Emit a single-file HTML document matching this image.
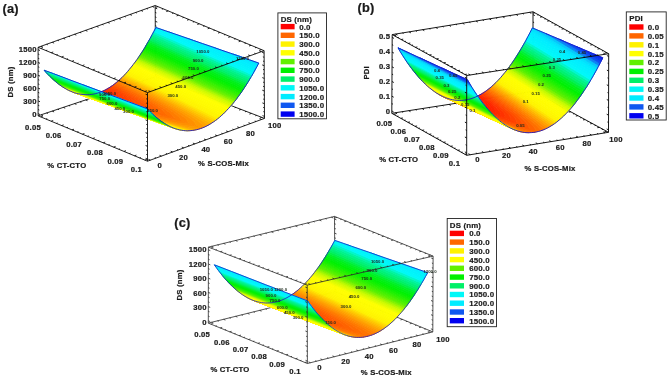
<!DOCTYPE html><html><head><meta charset="utf-8"><title>Response surfaces</title><style>html,body{margin:0;padding:0;background:#fff}svg{display:block}</style></head><body><svg width="669" height="379" viewBox="0 0 669 379" font-family="Liberation Sans, Arial, sans-serif" font-weight="bold" fill="#1a1a1a"><rect width="669" height="379" fill="#fff"/><g id="plot-a"><path d="M38.1 115.8L155.5 76.6M41.0 114.8l1.9 0.8M46.6 113.0l1.2 0.5M52.2 111.1l1.9 0.8M57.8 109.2l1.2 0.5M63.3 107.4l1.9 0.8M68.9 105.5l1.2 0.5M74.5 103.6l1.9 0.8M80.1 101.8l1.2 0.5M85.6 99.9l1.9 0.8M91.2 98.1l1.2 0.5M96.8 96.2l1.9 0.8M102.4 94.3l1.2 0.5M108.0 92.5l1.9 0.8M113.5 90.6l1.2 0.5M119.1 88.8l1.9 0.8M124.7 86.9l1.2 0.5M130.3 85.0l1.9 0.8M135.8 83.2l1.2 0.5M141.4 81.3l1.9 0.8M147.0 79.4l1.2 0.5M152.6 77.6l1.9 0.8M155.5 76.6L264.5 118.4M158.2 77.6l-2.0 0.7M163.4 79.6l-1.2 0.4M168.6 81.6l-2.0 0.7M173.8 83.6l-1.2 0.4M178.9 85.6l-2.0 0.7M184.1 87.6l-1.2 0.4M189.3 89.6l-2.0 0.7M194.5 91.5l-1.2 0.4M199.6 93.5l-2.0 0.7M204.8 95.5l-1.2 0.4M210.0 97.5l-2.0 0.7M215.2 99.5l-1.2 0.4M220.4 101.5l-2.0 0.7M225.5 103.5l-1.2 0.4M230.7 105.4l-2.0 0.7M235.9 107.4l-1.2 0.4M241.1 109.4l-2.0 0.7M246.2 111.4l-1.2 0.4M251.4 113.4l-2.0 0.7M256.6 115.4l-1.2 0.4M261.8 117.4l-2.0 0.7M155.5 76.6L155.2 5.5M155.5 74.5l2.0 0.8M155.5 70.0l1.2 0.5M155.5 65.6l1.2 0.5M155.4 61.2l2.0 0.8M155.4 56.7l1.2 0.5M155.4 52.3l1.2 0.5M155.4 47.9l2.0 0.8M155.4 43.4l1.2 0.5M155.3 39.0l1.2 0.5M155.3 34.6l2.0 0.8M155.3 30.1l1.2 0.5M155.3 25.7l1.2 0.5M155.3 21.3l2.0 0.8M155.2 16.9l1.2 0.5M155.2 12.4l1.2 0.5M155.2 8.0l2.0 0.8M264.1 50.7L155.2 5.5M261.4 49.6l-2.0 0.7M256.2 47.4l-1.2 0.4M251.0 45.3l-2.0 0.7M245.9 43.1l-1.2 0.4M240.7 41.0l-2.0 0.7M235.5 38.8l-1.2 0.4M230.3 36.7l-2.0 0.7M225.2 34.5l-1.2 0.4M220.0 32.4l-2.0 0.7M214.8 30.2l-1.2 0.4M209.7 28.1l-2.0 0.7M204.5 26.0l-1.2 0.4M199.3 23.8l-2.0 0.7M194.1 21.7l-1.2 0.4M189.0 19.5l-2.0 0.7M183.8 17.4l-1.2 0.4M178.6 15.2l-2.0 0.7M173.4 13.1l-1.2 0.4M168.3 10.9l-2.0 0.7M163.1 8.8l-1.2 0.4M157.9 6.6l-2.0 0.7M155.2 5.5L38.1 47.3M152.3 6.5l1.9 0.8M146.7 8.5l1.2 0.5M141.1 10.5l1.9 0.8M135.6 12.5l1.2 0.5M130.0 14.5l1.9 0.8M124.5 16.5l1.2 0.5M118.9 18.5l1.9 0.8M113.3 20.4l1.2 0.5M107.8 22.4l1.9 0.8M102.2 24.4l1.2 0.5M96.6 26.4l1.9 0.8M91.1 28.4l1.2 0.5M85.5 30.4l1.9 0.8M80.0 32.4l1.2 0.5M74.4 34.3l1.9 0.8M68.8 36.3l1.2 0.5M63.3 38.3l1.9 0.8M57.7 40.3l1.2 0.5M52.2 42.3l1.9 0.8M46.6 44.3l1.2 0.5M41.0 46.3l1.9 0.8M38.1 115.8L38.1 47.3M38.1 113.7l1.9 0.8M38.1 109.5l1.2 0.5M38.1 105.2l1.2 0.5M38.1 100.9l1.9 0.8M38.1 96.7l1.2 0.5M38.1 92.4l1.2 0.5M38.1 88.1l1.9 0.8M38.1 83.9l1.2 0.5M38.1 79.6l1.2 0.5M38.1 75.3l1.9 0.8M38.1 71.0l1.2 0.5M38.1 66.8l1.2 0.5M38.1 62.5l1.9 0.8M38.1 58.2l1.2 0.5M38.1 54.0l1.2 0.5M38.1 49.7l1.9 0.8M264.5 118.4L264.1 50.7M264.5 116.4l-2.0 -0.8M264.5 112.1l-1.2 -0.5M264.4 107.9l-1.2 -0.5M264.4 103.7l-2.0 -0.8M264.4 99.5l-1.2 -0.5M264.4 95.3l-1.2 -0.5M264.3 91.0l-2.0 -0.8M264.3 86.8l-1.2 -0.5M264.3 82.6l-1.2 -0.5M264.3 78.4l-2.0 -0.8M264.2 74.2l-1.2 -0.5M264.2 69.9l-1.2 -0.5M264.2 65.7l-2.0 -0.8M264.2 61.5l-1.2 -0.5M264.1 57.3l-1.2 -0.5M264.1 53.1l-2.0 -0.8M38.1 115.8L147.5 161.2M40.8 116.9l2.0 -0.7M46.0 119.1l1.2 -0.4M51.2 121.2l2.0 -0.7M56.4 123.4l1.2 -0.4M61.6 125.6l2.0 -0.7M66.8 127.7l1.2 -0.4M72.0 129.9l2.0 -0.7M77.2 132.0l1.2 -0.4M82.4 134.2l2.0 -0.7M87.6 136.3l1.2 -0.4M92.8 138.5l2.0 -0.7M98.0 140.7l1.2 -0.4M103.2 142.8l2.0 -0.7M108.4 145.0l1.2 -0.4M113.6 147.1l2.0 -0.7M118.8 149.3l1.2 -0.4M124.0 151.4l2.0 -0.7M129.2 153.6l1.2 -0.4M134.4 155.8l2.0 -0.7M139.6 157.9l1.2 -0.4M144.8 160.1l2.0 -0.7M147.5 161.2L264.5 118.4M150.4 160.1l-2.0 -0.8M156.0 158.1l-1.2 -0.5M161.5 156.1l-2.0 -0.8M167.1 154.0l-1.2 -0.5M172.7 152.0l-2.0 -0.8M178.2 150.0l-1.2 -0.5M183.8 147.9l-2.0 -0.8M189.3 145.9l-1.2 -0.5M194.9 143.9l-2.0 -0.8M200.4 141.8l-1.2 -0.5M206.0 139.8l-2.0 -0.8M211.6 137.8l-1.2 -0.5M217.1 135.7l-2.0 -0.8M222.7 133.7l-1.2 -0.5M228.2 131.7l-2.0 -0.8M233.8 129.6l-1.2 -0.5M239.3 127.6l-2.0 -0.8M244.9 125.6l-1.2 -0.5M250.5 123.5l-2.0 -0.8M256.0 121.5l-1.2 -0.5M261.6 119.5l-2.0 -0.8" fill="none" stroke="#0c0c0c" stroke-width="0.9"/><g stroke-width=".9" stroke-linejoin="round"><path fill="#ff2100" stroke="#ff2100" d="M98.9 92.7L105.3 94.9L105.3 94.9L99.8 92.4z"/><path fill="#ff2100" stroke="#ff2100" d="M99.8 92.4L105.3 94.9L105.3 94.9L100.7 92z"/><path fill="#ff2200" stroke="#ff2200" d="M100.7 92L105.3 94.9L105.3 94.9L101.6 91.7z"/><path fill="#ff2200" stroke="#ff2200" d="M101.6 91.7L105.3 94.9L105.3 94.9L102.5 91.3z"/><path fill="#ff2300" stroke="#ff2300" d="M102.5 91.3L105.3 94.9L105.3 94.9L103.3 90.9z"/><path fill="#ff2500" stroke="#ff2500" d="M103.3 90.9L105.3 94.9L111.7 97.1L111.7 97.1L106.1 94.6L104.2 90.5z"/><path fill="#ff2700" stroke="#ff2700" d="M104.2 90.5L106.1 94.6L111.7 97.1L111.7 97.1L108.6 93.6L105.1 90z"/><path fill="#ff2b00" stroke="#ff2b00" d="M105.1 90L108.6 93.6L111.7 97.1L111.7 97.1L110.1 93L106 89.6z"/><path fill="#ff2e00" stroke="#ff2e00" d="M106 89.6L110.1 93L111.7 97.1L118.1 99.3L118.1 99.3L114.6 96L111.3 92.4L106.9 89.1z"/><path fill="#ff3200" stroke="#ff3200" d="M106.9 89.1L111.3 92.4L114.6 96L118.1 99.3L118.1 99.3L116.6 95.1L112.5 91.8L107.8 88.6z"/><path fill="#ff3600" stroke="#ff3600" d="M107.8 88.6L112.5 91.8L116.6 95.1L118.1 99.3L124.5 101.5L124.5 101.5L121.6 98L118 94.4L113.5 91.2L108.7 88.1z"/><path fill="#ff3b00" stroke="#ff3b00" d="M108.7 88.1L113.5 91.2L118 94.4L121.6 98L124.5 101.5L130.9 103.8L130.9 103.8L126.2 100.9L123.6 97L119.3 93.7L114.6 90.6L109.6 87.5z"/><path fill="#ff4100" stroke="#ff4100" d="M109.6 87.5L114.6 90.6L119.3 93.7L123.6 97L126.2 100.9L130.9 103.8L130.9 103.8L129.3 99.6L125.2 96.2L120.5 93L115.6 90L110.4 86.9z"/><path fill="#ff4600" stroke="#ff4600" d="M110.4 86.9L115.6 90L120.5 93L125.2 96.2L129.3 99.6L130.9 103.8L137.3 106L137.3 106L134.9 102.2L131.1 98.7L126.6 95.4L121.7 92.3L116.6 89.3L111.3 86.3z"/><path fill="#ff4d00" stroke="#ff4d00" d="M111.3 86.3L116.6 89.3L121.7 92.3L126.6 95.4L131.1 98.7L134.9 102.2L137.3 106L143.7 108.2L143.7 108.2L140.7 104.7L137.2 101.1L132.7 97.8L127.8 94.7L122.8 91.7L117.5 88.7L112.2 85.7z"/><path fill="#ff5300" stroke="#ff5300" d="M112.2 85.7L117.5 88.7L122.8 91.7L127.8 94.7L132.7 97.8L137.2 101.1L140.7 104.7L143.7 108.2L150.1 110.4L150.1 110.4L146.6 107.1L143.3 103.4L138.9 100.1L134.1 97L129 94L123.8 91L118.5 88L113.1 85.1z"/><path fill="#ff5a00" stroke="#ff5a00" d="M113.1 85.1L118.5 88L123.8 91L129 94L134.1 97L138.9 100.1L143.3 103.4L146.6 107.1L150.1 110.4L156.5 112.7L156.5 112.7L152.6 109.5L149.6 105.7L145.2 102.4L140.4 99.3L135.4 96.2L130.2 93.2L124.9 90.3L119.5 87.3L114 84.4z"/><path fill="#ff6200" stroke="#ff6200" d="M114 84.4L119.5 87.3L124.9 90.3L130.2 93.2L135.4 96.2L140.4 99.3L145.2 102.4L149.6 105.7L152.6 109.5L156.5 112.7L162.9 114.9L162.9 114.9L159 111.7L156 107.9L151.6 104.6L146.8 101.5L141.8 98.4L136.6 95.4L131.3 92.5L125.9 89.5L120.4 86.6L114.9 83.7z"/><path fill="#ff6a00" stroke="#ff6a00" d="M114.9 83.7L120.4 86.6L125.9 89.5L131.3 92.5L136.6 95.4L141.8 98.4L146.8 101.5L151.6 104.6L156 107.9L159 111.7L162.9 114.9L169.3 117.1L169.3 117.1L165.7 113.8L162.5 110.1L158.1 106.8L153.3 103.6L148.2 100.6L143 97.6L137.7 94.6L132.3 91.7L126.9 88.8L121.3 85.9L115.8 83z"/><path fill="#ff7200" stroke="#ff7200" d="M115.8 83L121.3 85.9L126.9 88.8L132.3 91.7L137.7 94.6L143 97.6L148.2 100.6L153.3 103.6L158.1 106.8L162.5 110.1L165.7 113.8L169.3 117.1L175.8 119.4L175.8 119.4L172.6 115.8L169.2 112.2L164.7 108.9L159.8 105.8L154.8 102.7L149.6 99.7L144.2 96.7L138.8 93.8L133.4 90.9L127.8 88L122.3 85.2L116.7 82.3z"/><path fill="#ff7c00" stroke="#ff7c00" d="M116.7 82.3L122.3 85.2L127.8 88L133.4 90.9L138.8 93.8L144.2 96.7L149.6 99.7L154.8 102.7L159.8 105.8L164.7 108.9L169.2 112.2L172.6 115.8L175.8 119.4L182.2 121.6L182.2 121.6L179.7 117.7L175.9 114.2L171.4 110.9L166.5 107.8L161.4 104.8L156.2 101.8L150.8 98.8L145.4 95.9L139.9 93L134.4 90.1L128.8 87.2L123.2 84.4L117.5 81.6z"/><path fill="#ff8500" stroke="#ff8500" d="M117.5 81.6L123.2 84.4L128.8 87.2L134.4 90.1L139.9 93L145.4 95.9L150.8 98.8L156.2 101.8L161.4 104.8L166.5 107.8L171.4 110.9L175.9 114.2L179.7 117.7L182.2 121.6L188.6 123.8L188.6 123.8L186.8 119.6L182.8 116.2L178.1 112.9L173.2 109.8L168.1 106.8L162.8 103.8L157.5 100.8L152 97.9L146.5 95L141 92.1L135.4 89.3L129.8 86.4L124.1 83.6L118.4 80.8z"/><path fill="#ff8f00" stroke="#ff8f00" d="M118.4 80.8L124.1 83.6L129.8 86.4L135.4 89.3L141 92.1L146.5 95L152 97.9L157.5 100.8L162.8 103.8L168.1 106.8L173.2 109.8L178.1 112.9L182.8 116.2L186.8 119.6L188.6 123.8L195 126.1L201.4 128.3L201.4 128.3L196.2 125.6L194 121.5L189.7 118.1L185 114.9L180 111.8L174.8 108.8L169.5 105.8L164.1 102.8L158.7 99.9L153.2 97L147.6 94.2L142 91.3L136.4 88.5L130.7 85.6L125 82.8L119.3 80z"/><path fill="#ff9a00" stroke="#ff9a00" d="M119.3 80L125 82.8L130.7 85.6L136.4 88.5L142 91.3L147.6 94.2L153.2 97L158.7 99.9L164.1 102.8L169.5 105.8L174.8 108.8L180 111.8L185 114.9L189.7 118.1L194 121.5L196.2 125.6L201.4 128.3L204.7 126.9L201.2 123.3L196.7 120L191.9 116.8L186.8 113.7L181.6 110.7L176.3 107.8L170.9 104.8L165.4 101.9L159.9 99L154.3 96.1L148.7 93.3L143.1 90.4L137.4 87.6L131.7 84.8L126 82L120.2 79.2z"/><path fill="#ffa400" stroke="#ffa400" d="M120.2 79.2L126 82L131.7 84.8L137.4 87.6L143.1 90.4L148.7 93.3L154.3 96.1L159.9 99L165.4 101.9L170.9 104.8L176.3 107.8L181.6 110.7L186.8 113.7L191.9 116.8L196.7 120L201.2 123.3L204.7 126.9L208.4 125L203.8 121.8L198.8 118.7L193.7 115.6L188.5 112.6L183.1 109.7L177.7 106.7L172.2 103.8L166.6 100.9L161 98.1L155.4 95.2L149.8 92.4L144.1 89.5L138.4 86.7L132.6 83.9L126.9 81.1L121.1 78.3z"/><path fill="#ffb000" stroke="#ffb000" d="M121.1 78.3L126.9 81.1L132.6 83.9L138.4 86.7L144.1 89.5L149.8 92.4L155.4 95.2L161 98.1L166.6 100.9L172.2 103.8L177.7 106.7L183.1 109.7L188.5 112.6L193.7 115.6L198.8 118.7L203.8 121.8L208.4 125L210.9 123.6L205.8 120.5L200.7 117.5L195.4 114.5L190 111.5L184.5 108.6L179 105.7L173.4 102.8L167.8 100L162.2 97.1L156.5 94.3L150.8 91.5L145.1 88.6L139.3 85.8L133.6 83L127.8 80.3L122 77.5z"/><path fill="#ffbd00" stroke="#ffbd00" d="M122 77.5L127.8 80.3L133.6 83L139.3 85.8L145.1 88.6L150.8 91.5L156.5 94.3L162.2 97.1L167.8 100L173.4 102.8L179 105.7L184.5 108.6L190 111.5L195.4 114.5L200.7 117.5L205.8 120.5L210.9 123.6L212.9 122.3L207.6 119.3L202.3 116.3L196.9 113.4L191.4 110.5L185.8 107.6L180.2 104.7L174.6 101.8L169 99L163.3 96.2L157.6 93.3L151.8 90.5L146.1 87.7L140.3 84.9L134.5 82.1L128.7 79.4L122.9 76.6z"/><path fill="#ffca00" stroke="#ffca00" d="M122.9 76.6L128.7 79.4L134.5 82.1L140.3 84.9L146.1 87.7L151.8 90.5L157.6 93.3L163.3 96.2L169 99L174.6 101.8L180.2 104.7L185.8 107.6L191.4 110.5L196.9 113.4L202.3 116.3L207.6 119.3L212.9 122.3L214.7 121.1L209.3 118.1L203.8 115.2L198.3 112.3L192.7 109.4L187.1 106.5L181.5 103.7L175.8 100.8L170.1 98L164.4 95.2L158.6 92.4L152.8 89.6L147.1 86.8L141.2 84L135.4 81.2L129.6 78.5L123.7 75.7z"/><path fill="#ffd700" stroke="#ffd700" d="M123.7 75.7L129.6 78.5L135.4 81.2L141.2 84L147.1 86.8L152.8 89.6L158.6 92.4L164.4 95.2L170.1 98L175.8 100.8L181.5 103.7L187.1 106.5L192.7 109.4L198.3 112.3L203.8 115.2L209.3 118.1L214.7 121.1L216.3 119.9L210.8 117L205.2 114.1L199.6 111.2L194 108.3L188.3 105.5L182.6 102.6L176.9 99.8L171.2 97L165.4 94.2L159.6 91.4L153.8 88.6L148 85.8L142.2 83.1L136.4 80.3L130.5 77.5L124.6 74.8z"/><path fill="#ffe500" stroke="#ffe500" d="M124.6 74.8L130.5 77.5L136.4 80.3L142.2 83.1L148 85.8L153.8 88.6L159.6 91.4L165.4 94.2L171.2 97L176.9 99.8L182.6 102.6L188.3 105.5L194 108.3L199.6 111.2L205.2 114.1L210.8 117L216.3 119.9L217.8 118.7L212.2 115.8L206.6 113L200.9 110.1L195.2 107.3L189.5 104.4L183.8 101.6L178 98.8L172.3 96L166.5 93.2L160.7 90.4L154.8 87.6L149 84.8L143.1 82.1L137.3 79.3L131.4 76.6L125.5 73.8z"/><path fill="#fff200" stroke="#fff200" d="M125.5 73.8L131.4 76.6L137.3 79.3L143.1 82.1L149 84.8L154.8 87.6L160.7 90.4L166.5 93.2L172.3 96L178 98.8L183.8 101.6L189.5 104.4L195.2 107.3L200.9 110.1L206.6 113L212.2 115.8L217.8 118.7L219.2 117.6L213.5 114.7L207.9 111.8L202.2 109L196.4 106.2L190.7 103.4L184.9 100.5L179.1 97.7L173.3 95L167.5 92.2L161.7 89.4L155.8 86.6L150 83.9L144.1 81.1L138.2 78.3L132.3 75.6L126.4 72.8z"/><path fill="#fff400" stroke="#fff400" d="M126.4 72.8L132.3 75.6L138.2 78.3L144.1 81.1L150 83.9L155.8 86.6L161.7 89.4L167.5 92.2L173.3 95L179.1 97.7L184.9 100.5L190.7 103.4L196.4 106.2L202.2 109L207.9 111.8L213.5 114.7L219.2 117.6L220.5 116.4L214.8 113.5L209.1 110.7L203.4 107.9L197.6 105.1L191.8 102.3L186 99.5L180.2 96.7L174.4 93.9L168.5 91.1L162.7 88.4L156.8 85.6L150.9 82.8L145 80.1L139.1 77.3L133.2 74.6L127.3 71.9z"/><path fill="#fff600" stroke="#fff600" d="M127.3 71.9L133.2 74.6L139.1 77.3L145 80.1L150.9 82.8L156.8 85.6L162.7 88.4L168.5 91.1L174.4 93.9L180.2 96.7L186 99.5L191.8 102.3L197.6 105.1L203.4 107.9L209.1 110.7L214.8 113.5L220.5 116.4L221.8 115.2L216.1 112.4L210.3 109.6L204.5 106.8L198.8 104L192.9 101.2L187.1 98.4L181.3 95.6L175.4 92.8L169.5 90.1L163.7 87.3L157.8 84.5L151.9 81.8L146 79L140 76.3L134.1 73.6L128.2 70.8z"/><path fill="#fff900" stroke="#fff900" d="M128.2 70.8L134.1 73.6L140 76.3L146 79L151.9 81.8L157.8 84.5L163.7 87.3L169.5 90.1L175.4 92.8L181.3 95.6L187.1 98.4L192.9 101.2L198.8 104L204.5 106.8L210.3 109.6L216.1 112.4L221.8 115.2L223.1 114.1L217.3 111.2L211.5 108.4L205.7 105.6L199.9 102.8L194 100.1L188.2 97.3L182.3 94.5L176.4 91.7L170.5 89L164.6 86.2L158.7 83.5L152.8 80.7L146.9 78L141 75.3L135 72.5L129.1 69.8z"/><path fill="#fffb00" stroke="#fffb00" d="M129.1 69.8L135 72.5L141 75.3L146.9 78L152.8 80.7L158.7 83.5L164.6 86.2L170.5 89L176.4 91.7L182.3 94.5L188.2 97.3L194 100.1L199.9 102.8L205.7 105.6L211.5 108.4L217.3 111.2L223.1 114.1L224.3 112.9L218.5 110.1L212.7 107.3L206.8 104.5L201 101.7L195.1 98.9L189.2 96.2L183.3 93.4L177.4 90.6L171.5 87.9L165.6 85.1L159.7 82.4L153.8 79.7L147.8 76.9L141.9 74.2L135.9 71.5L129.9 68.7z"/><path fill="#fffc00" stroke="#fffc00" d="M129.9 68.7L135.9 71.5L141.9 74.2L147.8 76.9L153.8 79.7L159.7 82.4L165.6 85.1L171.5 87.9L177.4 90.6L183.3 93.4L189.2 96.2L195.1 98.9L201 101.7L206.8 104.5L212.7 107.3L218.5 110.1L224.3 112.9L225.5 111.7L219.7 108.9L213.8 106.1L207.9 103.3L202.1 100.6L196.2 97.8L190.3 95L184.4 92.3L178.5 89.5L172.5 86.8L166.6 84L160.6 81.3L154.7 78.6L148.7 75.8L142.8 73.1L136.8 70.4L130.8 67.7z"/><path fill="#fffd00" stroke="#fffd00" d="M130.8 67.7L136.8 70.4L142.8 73.1L148.7 75.8L154.7 78.6L160.6 81.3L166.6 84L172.5 86.8L178.5 89.5L184.4 92.3L190.3 95L196.2 97.8L202.1 100.6L207.9 103.3L213.8 106.1L219.7 108.9L225.5 111.7L226.7 110.5L220.8 107.7L214.9 104.9L209 102.2L203.1 99.4L197.2 96.6L191.3 93.9L185.4 91.1L179.5 88.4L173.5 85.6L167.6 82.9L161.6 80.2L155.6 77.4L149.7 74.7L143.7 72L137.7 69.3L131.7 66.5z"/><path fill="#fffe00" stroke="#fffe00" d="M131.7 66.5L137.7 69.3L143.7 72L149.7 74.7L155.6 77.4L161.6 80.2L167.6 82.9L173.5 85.6L179.5 88.4L185.4 91.1L191.3 93.9L197.2 96.6L203.1 99.4L209 102.2L214.9 104.9L220.8 107.7L226.7 110.5L227.8 109.3L221.9 106.5L216 103.7L210.1 101L204.2 98.2L198.3 95.4L192.3 92.7L186.4 90L180.4 87.2L174.5 84.5L168.5 81.7L162.5 79L156.6 76.3L150.6 73.6L144.6 70.8L138.6 68.1L132.6 65.4z"/><path fill="#ffff00" stroke="#ffff00" d="M132.6 65.4L138.6 68.1L144.6 70.8L150.6 73.6L156.6 76.3L162.5 79L168.5 81.7L174.5 84.5L180.4 87.2L186.4 90L192.3 92.7L198.3 95.4L204.2 98.2L210.1 101L216 103.7L221.9 106.5L227.8 109.3L229 108L223 105.3L217.1 102.5L211.2 99.8L205.3 97L199.3 94.3L193.4 91.5L187.4 88.8L181.4 86L175.5 83.3L169.5 80.6L163.5 77.8L157.5 75.1L151.5 72.4L145.5 69.7L139.5 67L133.5 64.3z"/><path fill="#f8fe00" stroke="#f8fe00" d="M133.5 64.3L139.5 67L145.5 69.7L151.5 72.4L157.5 75.1L163.5 77.8L169.5 80.6L175.5 83.3L181.4 86L187.4 88.8L193.4 91.5L199.3 94.3L205.3 97L211.2 99.8L217.1 102.5L223 105.3L229 108L230.1 106.8L224.1 104L218.2 101.3L212.3 98.5L206.3 95.8L200.3 93L194.4 90.3L188.4 87.6L182.4 84.8L176.4 82.1L170.4 79.4L164.4 76.7L158.4 73.9L152.4 71.2L146.4 68.5L140.4 65.8L134.4 63.1z"/><path fill="#e9fd00" stroke="#e9fd00" d="M134.4 63.1L140.4 65.8L146.4 68.5L152.4 71.2L158.4 73.9L164.4 76.7L170.4 79.4L176.4 82.1L182.4 84.8L188.4 87.6L194.4 90.3L200.3 93L206.3 95.8L212.3 98.5L218.2 101.3L224.1 104L230.1 106.8L231.2 105.5L225.2 102.8L219.3 100L213.3 97.3L207.3 94.5L201.4 91.8L195.4 89.1L189.4 86.3L183.4 83.6L177.4 80.9L171.4 78.2L165.4 75.4L159.4 72.7L153.3 70L147.3 67.3L141.3 64.6L135.2 61.9z"/><path fill="#dafc00" stroke="#dafc00" d="M135.2 61.9L141.3 64.6L147.3 67.3L153.3 70L159.4 72.7L165.4 75.4L171.4 78.2L177.4 80.9L183.4 83.6L189.4 86.3L195.4 89.1L201.4 91.8L207.3 94.5L213.3 97.3L219.3 100L225.2 102.8L231.2 105.5L232.3 104.2L226.3 101.5L220.3 98.8L214.3 96L208.3 93.3L202.4 90.6L196.4 87.8L190.4 85.1L184.4 82.4L178.3 79.6L172.3 76.9L166.3 74.2L160.3 71.5L154.2 68.8L148.2 66.1L142.2 63.4L136.1 60.7z"/><path fill="#cbfa00" stroke="#cbfa00" d="M136.1 60.7L142.2 63.4L148.2 66.1L154.2 68.8L160.3 71.5L166.3 74.2L172.3 76.9L178.3 79.6L184.4 82.4L190.4 85.1L196.4 87.8L202.4 90.6L208.3 93.3L214.3 96L220.3 98.8L226.3 101.5L232.3 104.2L233.3 103L227.3 100.2L221.4 97.5L215.4 94.7L209.4 92L203.4 89.3L197.3 86.6L191.3 83.8L185.3 81.1L179.3 78.4L173.3 75.7L167.2 73L161.2 70.3L155.2 67.5L149.1 64.8L143.1 62.1L137 59.4z"/><path fill="#aff800" stroke="#aff800" d="M137 59.4L143.1 62.1L149.1 64.8L155.2 67.5L161.2 70.3L167.2 73L173.3 75.7L179.3 78.4L185.3 81.1L191.3 83.8L197.3 86.6L203.4 89.3L209.4 92L215.4 94.7L221.4 97.5L227.3 100.2L233.3 103L234.4 101.6L228.4 98.9L222.4 96.2L216.4 93.4L210.4 90.7L204.4 88L198.3 85.3L192.3 82.5L186.3 79.8L180.2 77.1L174.2 74.4L168.2 71.7L162.1 69L156.1 66.3L150 63.6L144 60.9L137.9 58.2z"/><path fill="#90f500" stroke="#90f500" d="M137.9 58.2L144 60.9L150 63.6L156.1 66.3L162.1 69L168.2 71.7L174.2 74.4L180.2 77.1L186.3 79.8L192.3 82.5L198.3 85.3L204.4 88L210.4 90.7L216.4 93.4L222.4 96.2L228.4 98.9L234.4 101.6L235.4 100.3L229.4 97.6L223.4 94.9L217.4 92.1L211.4 89.4L205.3 86.7L199.3 84L193.3 81.2L187.2 78.5L181.2 75.8L175.1 73.1L169.1 70.4L163 67.7L157 65L150.9 62.3L144.9 59.6L138.8 56.9z"/><path fill="#71f200" stroke="#71f200" d="M138.8 56.9L144.9 59.6L150.9 62.3L157 65L163 67.7L169.1 70.4L175.1 73.1L181.2 75.8L187.2 78.5L193.3 81.2L199.3 84L205.3 86.7L211.4 89.4L217.4 92.1L223.4 94.9L229.4 97.6L235.4 100.3L236.5 99L230.5 96.2L224.4 93.5L218.4 90.8L212.4 88.1L206.3 85.3L200.3 82.6L194.2 79.9L188.2 77.2L182.1 74.5L176.1 71.8L170 69.1L164 66.4L157.9 63.7L151.8 61L145.7 58.3L139.7 55.6z"/><path fill="#59f000" stroke="#59f000" d="M139.7 55.6L145.7 58.3L151.8 61L157.9 63.7L164 66.4L170 69.1L176.1 71.8L182.1 74.5L188.2 77.2L194.2 79.9L200.3 82.6L206.3 85.3L212.4 88.1L218.4 90.8L224.4 93.5L230.5 96.2L236.5 99L237.5 97.6L231.5 94.9L225.4 92.2L219.4 89.4L213.4 86.7L207.3 84L201.3 81.3L195.2 78.6L189.1 75.9L183.1 73.1L177 70.4L170.9 67.7L164.9 65L158.8 62.3L152.7 59.6L146.6 56.9L140.5 54.2z"/><path fill="#48f000" stroke="#48f000" d="M140.5 54.2L146.6 56.9L152.7 59.6L158.8 62.3L164.9 65L170.9 67.7L177 70.4L183.1 73.1L189.1 75.9L195.2 78.6L201.3 81.3L207.3 84L213.4 86.7L219.4 89.4L225.4 92.2L231.5 94.9L237.5 97.6L238.5 96.2L232.5 93.5L226.4 90.8L220.4 88.1L214.3 85.3L208.3 82.6L202.2 79.9L196.2 77.2L190.1 74.5L184 71.8L177.9 69.1L171.9 66.4L165.8 63.7L159.7 61L153.6 58.3L147.5 55.6L141.4 52.9z"/><path fill="#38f000" stroke="#38f000" d="M141.4 52.9L147.5 55.6L153.6 58.3L159.7 61L165.8 63.7L171.9 66.4L177.9 69.1L184 71.8L190.1 74.5L196.2 77.2L202.2 79.9L208.3 82.6L214.3 85.3L220.4 88.1L226.4 90.8L232.5 93.5L238.5 96.2L239.5 94.8L233.5 92.1L227.4 89.4L221.4 86.7L215.3 83.9L209.2 81.2L203.2 78.5L197.1 75.8L191 73.1L184.9 70.4L178.9 67.7L172.8 65L166.7 62.3L160.6 59.6L154.5 56.9L148.4 54.2L142.3 51.5z"/><path fill="#27f000" stroke="#27f000" d="M142.3 51.5L148.4 54.2L154.5 56.9L160.6 59.6L166.7 62.3L172.8 65L178.9 67.7L184.9 70.4L191 73.1L197.1 75.8L203.2 78.5L209.2 81.2L215.3 83.9L221.4 86.7L227.4 89.4L233.5 92.1L239.5 94.8L240.6 93.4L234.5 90.7L228.4 88L222.4 85.3L216.3 82.5L210.2 79.8L204.1 77.1L198.1 74.4L192 71.7L185.9 69L179.8 66.3L173.7 63.6L167.6 60.9L161.5 58.2L155.4 55.5L149.3 52.8L143.2 50.1z"/><path fill="#19f000" stroke="#19f000" d="M143.2 50.1L149.3 52.8L155.4 55.5L161.5 58.2L167.6 60.9L173.7 63.6L179.8 66.3L185.9 69L192 71.7L198.1 74.4L204.1 77.1L210.2 79.8L216.3 82.5L222.4 85.3L228.4 88L234.5 90.7L240.6 93.4L241.6 92L235.5 89.2L229.4 86.5L223.3 83.8L217.3 81.1L211.2 78.4L205.1 75.7L199 73L192.9 70.3L186.8 67.6L180.7 64.9L174.6 62.2L168.5 59.5L162.4 56.8L156.3 54.1L150.2 51.4L144.1 48.7z"/><path fill="#0af000" stroke="#0af000" d="M144.1 48.7L150.2 51.4L156.3 54.1L162.4 56.8L168.5 59.5L174.6 62.2L180.7 64.9L186.8 67.6L192.9 70.3L199 73L205.1 75.7L211.2 78.4L217.3 81.1L223.3 83.8L229.4 86.5L235.5 89.2L241.6 92L242.6 90.5L236.5 87.8L230.4 85.1L224.3 82.4L218.2 79.7L212.1 76.9L206 74.2L199.9 71.5L193.8 68.8L187.7 66.1L181.6 63.4L175.5 60.7L169.4 58L163.3 55.3L157.2 52.6L151.1 49.9L145 47.2z"/><path fill="#00f004" stroke="#00f004" d="M145 47.2L151.1 49.9L157.2 52.6L163.3 55.3L169.4 58L175.5 60.7L181.6 63.4L187.7 66.1L193.8 68.8L199.9 71.5L206 74.2L212.1 76.9L218.2 79.7L224.3 82.4L230.4 85.1L236.5 87.8L242.6 90.5L243.6 89L237.5 86.3L231.4 83.6L225.3 80.9L219.2 78.2L213.1 75.5L207 72.8L200.9 70.1L194.8 67.4L188.7 64.7L182.6 62L176.4 59.3L170.3 56.6L164.2 53.9L158.1 51.2L152 48.5L145.8 45.8z"/><path fill="#00f00f" stroke="#00f00f" d="M145.8 45.8L152 48.5L158.1 51.2L164.2 53.9L170.3 56.6L176.4 59.3L182.6 62L188.7 64.7L194.8 67.4L200.9 70.1L207 72.8L213.1 75.5L219.2 78.2L225.3 80.9L231.4 83.6L237.5 86.3L243.6 89L244.5 87.5L238.4 84.8L232.3 82.1L226.2 79.4L220.1 76.7L214 74L207.9 71.3L201.8 68.6L195.7 65.9L189.6 63.2L183.5 60.5L177.4 57.8L171.2 55.1L165.1 52.4L159 49.7L152.9 47L146.7 44.3z"/><path fill="#00f019" stroke="#00f019" d="M146.7 44.3L152.9 47L159 49.7L165.1 52.4L171.2 55.1L177.4 57.8L183.5 60.5L189.6 63.2L195.7 65.9L201.8 68.6L207.9 71.3L214 74L220.1 76.7L226.2 79.4L232.3 82.1L238.4 84.8L244.5 87.5L245.5 86L239.4 83.3L233.3 80.6L227.2 77.9L221.1 75.2L215 72.5L208.9 69.8L202.8 67.1L196.6 64.4L190.5 61.7L184.4 58.9L178.3 56.3L172.1 53.6L166 50.9L159.9 48.2L153.7 45.5L147.6 42.8z"/><path fill="#00f02e" stroke="#00f02e" d="M147.6 42.8L153.7 45.5L159.9 48.2L166 50.9L172.1 53.6L178.3 56.3L184.4 58.9L190.5 61.7L196.6 64.4L202.8 67.1L208.9 69.8L215 72.5L221.1 75.2L227.2 77.9L233.3 80.6L239.4 83.3L245.5 86L246.5 84.5L240.4 81.8L234.3 79.1L228.2 76.3L222 73.6L215.9 70.9L209.8 68.2L203.7 65.5L197.6 62.8L191.4 60.1L185.3 57.4L179.2 54.7L173 52L166.9 49.3L160.8 46.6L154.6 43.9L148.5 41.2z"/><path fill="#00f049" stroke="#00f049" d="M148.5 41.2L154.6 43.9L160.8 46.6L166.9 49.3L173 52L179.2 54.7L185.3 57.4L191.4 60.1L197.6 62.8L203.7 65.5L209.8 68.2L215.9 70.9L222 73.6L228.2 76.3L234.3 79.1L240.4 81.8L246.5 84.5L247.5 82.9L241.4 80.2L235.2 77.5L229.1 74.8L223 72.1L216.9 69.4L210.7 66.7L204.6 64L198.5 61.3L192.4 58.6L186.2 55.9L180.1 53.2L173.9 50.5L167.8 47.8L161.7 45.1L155.5 42.4L149.4 39.7z"/><path fill="#00f066" stroke="#00f066" d="M149.4 39.7L155.5 42.4L161.7 45.1L167.8 47.8L173.9 50.5L180.1 53.2L186.2 55.9L192.4 58.6L198.5 61.3L204.6 64L210.7 66.7L216.9 69.4L223 72.1L229.1 74.8L235.2 77.5L241.4 80.2L247.5 82.9L248.5 81.4L242.3 78.6L236.2 75.9L230.1 73.2L223.9 70.5L217.8 67.8L211.7 65.1L205.5 62.4L199.4 59.7L193.3 57L187.1 54.3L181 51.6L174.8 48.9L168.7 46.2L162.6 43.5L156.4 40.8L150.3 38.1z"/><path fill="#00f178" stroke="#00f178" d="M150.3 38.1L156.4 40.8L162.6 43.5L168.7 46.2L174.8 48.9L181 51.6L187.1 54.3L193.3 57L199.4 59.7L205.5 62.4L211.7 65.1L217.8 67.8L223.9 70.5L230.1 73.2L236.2 75.9L242.3 78.6L248.5 81.4L249.4 79.8L243.3 77L237.2 74.3L231 71.6L224.9 68.9L218.8 66.2L212.6 63.5L206.5 60.8L200.3 58.1L194.2 55.4L188 52.7L181.9 50L175.7 47.3L169.6 44.6L163.4 41.9L157.3 39.2L151.1 36.5z"/><path fill="#00f28b" stroke="#00f28b" d="M151.1 36.5L157.3 39.2L163.4 41.9L169.6 44.6L175.7 47.3L181.9 50L188 52.7L194.2 55.4L200.3 58.1L206.5 60.8L212.6 63.5L218.8 66.2L224.9 68.9L231 71.6L237.2 74.3L243.3 77L249.4 79.8L250.4 78.1L244.3 75.4L238.1 72.7L232 70L225.8 67.3L219.7 64.6L213.5 61.9L207.4 59.2L201.3 56.5L195.1 53.8L189 51.1L182.8 48.4L176.6 45.7L170.5 43L164.3 40.3L158.2 37.6L152 34.9z"/><path fill="#00f4a5" stroke="#00f4a5" d="M152 34.9L158.2 37.6L164.3 40.3L170.5 43L176.6 45.7L182.8 48.4L189 51.1L195.1 53.8L201.3 56.5L207.4 59.2L213.5 61.9L219.7 64.6L225.8 67.3L232 70L238.1 72.7L244.3 75.4L250.4 78.1L251.3 76.5L245.2 73.8L239.1 71.1L232.9 68.4L226.8 65.7L220.6 63L214.5 60.2L208.3 57.5L202.2 54.8L196 52.1L189.9 49.4L183.7 46.7L177.5 44L171.4 41.3L165.2 38.6L159.1 35.9L152.9 33.2z"/><path fill="#00f6cd" stroke="#00f6cd" d="M152.9 33.2L159.1 35.9L165.2 38.6L171.4 41.3L177.5 44L183.7 46.7L189.9 49.4L196 52.1L202.2 54.8L208.3 57.5L214.5 60.2L220.6 63L226.8 65.7L232.9 68.4L239.1 71.1L245.2 73.8L251.3 76.5L252.3 74.9L246.2 72.1L240 69.4L233.9 66.7L227.7 64L221.6 61.3L215.4 58.6L209.2 55.9L203.1 53.2L196.9 50.5L190.8 47.8L184.6 45.1L178.4 42.3L172.3 39.6L166.1 36.9L159.9 34.2L153.8 31.5z"/><path fill="#00f8f6" stroke="#00f8f6" d="M153.8 31.5L159.9 34.2L166.1 36.9L172.3 39.6L178.4 42.3L184.6 45.1L190.8 47.8L196.9 50.5L203.1 53.2L209.2 55.9L215.4 58.6L221.6 61.3L227.7 64L233.9 66.7L240 69.4L246.2 72.1L252.3 74.9L253.3 73.2L247.1 70.5L241 67.8L234.8 65L228.6 62.3L222.5 59.6L216.3 56.9L210.2 54.2L204 51.5L197.8 48.8L191.7 46.1L185.5 43.4L179.3 40.7L173.2 38L167 35.2L160.8 32.5L154.7 29.8z"/><path fill="#00f6fa" stroke="#00f6fa" d="M154.7 29.8L160.8 32.5L167 35.2L173.2 38L179.3 40.7L185.5 43.4L191.7 46.1L197.8 48.8L204 51.5L210.2 54.2L216.3 56.9L222.5 59.6L228.6 62.3L234.8 65L241 67.8L247.1 70.5L253.3 73.2L254.2 71.5L248.1 68.8L241.9 66.1L235.7 63.3L229.6 60.6L223.4 57.9L217.3 55.2L211.1 52.5L204.9 49.8L198.8 47.1L192.6 44.4L186.4 41.7L180.2 38.9L174.1 36.2L167.9 33.5L161.7 30.8L155.5 28.1z"/><path fill="#00f3fb" stroke="#00f3fb" d="M155.5 28.1L161.7 30.8L167.9 33.5L174.1 36.2L180.2 38.9L186.4 41.7L192.6 44.4L198.8 47.1L204.9 49.8L211.1 52.5L217.3 55.2L223.4 57.9L229.6 60.6L235.7 63.3L241.9 66.1L248.1 68.8L254.2 71.5L255.2 69.8L249 67.1L242.8 64.3L236.7 61.6L230.5 58.9L224.3 56.2L218.2 53.5L212 50.8L205.8 48.1L199.7 45.3L193.5 42.6L187.3 39.9L181.1 37.2L175 34.5L168.7 31.9L162.3 29.7L155.9 27.5z"/><path fill="#00f0fd" stroke="#00f0fd" d="M168.7 31.9L175 34.5L181.1 37.2L187.3 39.9L193.5 42.6L199.7 45.3L205.8 48.1L212 50.8L218.2 53.5L224.3 56.2L230.5 58.9L236.7 61.6L242.8 64.3L249 67.1L255.2 69.8L256.1 68L249.9 65.3L243.8 62.6L237.6 59.9L231.4 57.2L225.3 54.5L219.1 51.7L212.9 49L206.7 46.3L200.6 43.6L194.4 40.9L188 38.5L181.6 36.3L175.2 34.1L168.7 31.9z"/><path fill="#00eefe" stroke="#00eefe" d="M188 38.5L194.4 40.9L200.6 43.6L206.7 46.3L212.9 49L219.1 51.7L225.3 54.5L231.4 57.2L237.6 59.9L243.8 62.6L249.9 65.3L256.1 68L257.1 66.3L250.9 63.6L244.7 60.8L238.5 58.1L232.4 55.4L226.2 52.7L220 50L213.7 47.4L207.3 45.2L200.9 43L194.4 40.8L188 38.5z"/><path fill="#00e9ff" stroke="#00e9ff" d="M213.7 47.4L220 50L226.2 52.7L232.4 55.4L238.5 58.1L244.7 60.8L250.9 63.6L257.1 66.3L258 64.5L251.8 61.8L245.6 59.1L239.5 56.3L233 54.1L226.6 51.9L220.2 49.7L213.7 47.4z"/><path fill="#02dffd" stroke="#02dffd" d="M233 54.1L239.5 56.3L245.6 59.1L251.8 61.8L258 64.5L258.8 63.1L252.3 60.8L245.9 58.6L239.5 56.3L233 54.1z"/><path fill="#ff2100" stroke="#ff2100" d="M98.9 92.7L105.3 94.9L105.3 94.9L98 93z"/><path fill="#ff2100" stroke="#ff2100" d="M98 93L105.3 94.9L105.3 94.9L97.1 93.2z"/><path fill="#ff2200" stroke="#ff2200" d="M97.1 93.2L105.3 94.9L105.3 94.9L96.2 93.5z"/><path fill="#ff2200" stroke="#ff2200" d="M96.2 93.5L105.3 94.9L105.3 94.9L95.4 93.7z"/><path fill="#ff2300" stroke="#ff2300" d="M95.4 93.7L105.3 94.9L105.3 94.9L94.5 93.9z"/><path fill="#ff2500" stroke="#ff2500" d="M94.5 93.9L105.3 94.9L111.7 97.1L111.7 97.1L104.5 95.2L93.6 94.1z"/><path fill="#ff2700" stroke="#ff2700" d="M93.6 94.1L104.5 95.2L111.7 97.1L111.7 97.1L102 95.9L92.7 94.2z"/><path fill="#ff2b00" stroke="#ff2b00" d="M92.7 94.2L102 95.9L111.7 97.1L111.7 97.1L100.5 96.2L91.8 94.4z"/><path fill="#ff2e00" stroke="#ff2e00" d="M91.8 94.4L100.5 96.2L111.7 97.1L118.1 99.3L118.1 99.3L108.8 98L99.3 96.4L90.9 94.5z"/><path fill="#ff3200" stroke="#ff3200" d="M90.9 94.5L99.3 96.4L108.8 98L118.1 99.3L118.1 99.3L106.9 98.4L98.2 96.6L90 94.6z"/><path fill="#ff3600" stroke="#ff3600" d="M90 94.6L98.2 96.6L106.9 98.4L118.1 99.3L124.5 101.5L124.5 101.5L114.6 100.4L105.4 98.7L97.1 96.7L89.1 94.6z"/><path fill="#ff3b00" stroke="#ff3b00" d="M89.1 94.6L97.1 96.7L105.4 98.7L114.6 100.4L124.5 101.5L130.9 103.8L130.9 103.8L122.9 102.1L112.6 100.8L104.1 98.9L96 96.8L88.3 94.7z"/><path fill="#ff4100" stroke="#ff4100" d="M88.3 94.7L96 96.8L104.1 98.9L112.6 100.8L122.9 102.1L130.9 103.8L130.9 103.8L119.8 102.9L111 101.1L102.9 99L95 96.9L87.4 94.7z"/><path fill="#ff4600" stroke="#ff4600" d="M87.4 94.7L95 96.9L102.9 99L111 101.1L119.8 102.9L130.9 103.8L137.3 106L137.3 106L126.9 104.9L117.9 103.2L109.7 101.2L101.8 99.1L94 97L86.5 94.7z"/><path fill="#ff4d00" stroke="#ff4d00" d="M86.5 94.7L94 97L101.8 99.1L109.7 101.2L117.9 103.2L126.9 104.9L137.3 106L143.7 108.2L143.7 108.2L134 107L124.7 105.4L116.4 103.4L108.4 101.4L100.7 99.2L93.1 97L85.6 94.7z"/><path fill="#ff5300" stroke="#ff5300" d="M85.6 94.7L93.1 97L100.7 99.2L108.4 101.4L116.4 103.4L124.7 105.4L134 107L143.7 108.2L150.1 110.4L150.1 110.4L140.9 109.1L131.3 107.6L123 105.7L115 103.6L107.2 101.4L99.6 99.2L92.1 97L84.7 94.7z"/><path fill="#ff5a00" stroke="#ff5a00" d="M84.7 94.7L92.1 97L99.6 99.2L107.2 101.4L115 103.6L123 105.7L131.3 107.6L140.9 109.1L150.1 110.4L156.5 112.7L156.5 112.7L147.6 111.2L137.9 109.8L129.5 107.9L121.5 105.8L113.7 103.7L106.1 101.5L98.6 99.2L91.2 96.9L83.8 94.6z"/><path fill="#ff6200" stroke="#ff6200" d="M83.8 94.6L91.2 96.9L98.6 99.2L106.1 101.5L113.7 103.7L121.5 105.8L129.5 107.9L137.9 109.8L147.6 111.2L156.5 112.7L162.9 114.9L162.9 114.9L154.1 113.5L144.3 112L135.9 110.1L127.9 108.1L120.1 105.9L112.5 103.7L105 101.5L97.6 99.2L90.2 96.9L82.9 94.5z"/><path fill="#ff6a00" stroke="#ff6a00" d="M82.9 94.5L90.2 96.9L97.6 99.2L105 101.5L112.5 103.7L120.1 105.9L127.9 108.1L135.9 110.1L144.3 112L154.1 113.5L162.9 114.9L169.3 117.1L169.3 117.1L160.2 115.8L150.6 114.3L142.2 112.4L134.2 110.3L126.4 108.2L118.8 106L111.3 103.7L103.9 101.4L96.6 99.1L89.3 96.8L82 94.4z"/><path fill="#ff7200" stroke="#ff7200" d="M82 94.4L89.3 96.8L96.6 99.1L103.9 101.4L111.3 103.7L118.8 106L126.4 108.2L134.2 110.3L142.2 112.4L150.6 114.3L160.2 115.8L169.3 117.1L175.8 119.4L175.8 119.4L166.1 118.2L156.7 116.6L148.4 114.6L140.4 112.6L132.7 110.4L125.1 108.2L117.6 106L110.2 103.7L102.9 101.4L95.6 99L88.3 96.7L81.1 94.3z"/><path fill="#ff7c00" stroke="#ff7c00" d="M81.1 94.3L88.3 96.7L95.6 99L102.9 101.4L110.2 103.7L117.6 106L125.1 108.2L132.7 110.4L140.4 112.6L148.4 114.6L156.7 116.6L166.1 118.2L175.8 119.4L182.2 121.6L182.2 121.6L171.8 120.6L162.8 118.9L154.5 116.9L146.6 114.8L138.9 112.7L131.3 110.5L123.8 108.2L116.4 105.9L109.1 103.6L101.8 101.3L94.6 98.9L87.4 96.5L80.3 94.2z"/><path fill="#ff8500" stroke="#ff8500" d="M80.3 94.2L87.4 96.5L94.6 98.9L101.8 101.3L109.1 103.6L116.4 105.9L123.8 108.2L131.3 110.5L138.9 112.7L146.6 114.8L154.5 116.9L162.8 118.9L171.8 120.6L182.2 121.6L188.6 123.8L188.6 123.8L177.5 123L168.7 121.2L160.5 119.2L152.7 117.1L145 114.9L137.5 112.7L130 110.4L122.6 108.2L115.3 105.8L108 103.5L100.8 101.1L93.6 98.8L86.5 96.4L79.4 94z"/><path fill="#ff8f00" stroke="#ff8f00" d="M79.4 94L86.5 96.4L93.6 98.8L100.8 101.1L108 103.5L115.3 105.8L122.6 108.2L130 110.4L137.5 112.7L145 114.9L152.7 117.1L160.5 119.2L168.7 121.2L177.5 123L188.6 123.8L195 126.1L201.4 128.3L201.4 128.3L193.7 126.5L183.1 125.4L174.6 123.5L166.5 121.5L158.7 119.4L151.1 117.2L143.5 115L136.1 112.7L128.8 110.4L121.5 108.1L114.2 105.7L107 103.4L99.8 101L92.7 98.6L85.6 96.2L78.5 93.8z"/><path fill="#ff9a00" stroke="#ff9a00" d="M78.5 93.8L85.6 96.2L92.7 98.6L99.8 101L107 103.4L114.2 105.7L121.5 108.1L128.8 110.4L136.1 112.7L143.5 115L151.1 117.2L158.7 119.4L166.5 121.5L174.6 123.5L183.1 125.4L193.7 126.5L201.4 128.3L198 129.4L188.7 127.8L180.4 125.9L172.4 123.8L164.7 121.7L157.1 119.5L149.6 117.2L142.2 114.9L134.8 112.6L127.6 110.3L120.3 108L113.1 105.6L106 103.2L98.8 100.8L91.7 98.4L84.7 96L77.6 93.6z"/><path fill="#ffa400" stroke="#ffa400" d="M77.6 93.6L84.7 96L91.7 98.4L98.8 100.8L106 103.2L113.1 105.6L120.3 108L127.6 110.3L134.8 112.6L142.2 114.9L149.6 117.2L157.1 119.5L164.7 121.7L172.4 123.8L180.4 125.9L188.7 127.8L198 129.4L194.3 130.2L186.1 128.2L178.3 126.1L170.6 123.9L163 121.7L155.6 119.5L148.2 117.2L140.9 114.9L133.6 112.5L126.4 110.2L119.2 107.8L112.1 105.4L104.9 103L97.9 100.6L90.8 98.2L83.7 95.8L76.7 93.4z"/><path fill="#ffb000" stroke="#ffb000" d="M76.7 93.4L83.7 95.8L90.8 98.2L97.9 100.6L104.9 103L112.1 105.4L119.2 107.8L126.4 110.2L133.6 112.5L140.9 114.9L148.2 117.2L155.6 119.5L163 121.7L170.6 123.9L178.3 126.1L186.1 128.2L194.3 130.2L191.8 130.5L184.1 128.4L176.4 126.2L168.9 124L161.5 121.7L154.2 119.4L146.9 117.1L139.6 114.8L132.4 112.4L125.3 110L118.1 107.6L111 105.2L103.9 102.8L96.9 100.4L89.8 98L82.8 95.6L75.8 93.1z"/><path fill="#ffbd00" stroke="#ffbd00" d="M75.8 93.1L82.8 95.6L89.8 98L96.9 100.4L103.9 102.8L111 105.2L118.1 107.6L125.3 110L132.4 112.4L139.6 114.8L146.9 117.1L154.2 119.4L161.5 121.7L168.9 124L176.4 126.2L184.1 128.4L191.8 130.5L189.8 130.7L182.3 128.5L174.8 126.2L167.4 124L160.1 121.7L152.8 119.3L145.6 117L138.4 114.6L131.3 112.2L124.2 109.8L117.1 107.4L110 105L103 102.6L95.9 100.2L88.9 97.7L81.9 95.3L74.9 92.8z"/><path fill="#ffca00" stroke="#ffca00" d="M74.9 92.8L81.9 95.3L88.9 97.7L95.9 100.2L103 102.6L110 105L117.1 107.4L124.2 109.8L131.3 112.2L138.4 114.6L145.6 117L152.8 119.3L160.1 121.7L167.4 124L174.8 126.2L182.3 128.5L189.8 130.7L188.1 130.8L180.6 128.5L173.3 126.2L166 123.9L158.8 121.5L151.6 119.2L144.4 116.8L137.3 114.4L130.2 112L123.1 109.6L116 107.2L109 104.8L102 102.4L95 99.9L88 97.5L81 95L74 92.6z"/><path fill="#ffd700" stroke="#ffd700" d="M74 92.6L81 95L88 97.5L95 99.9L102 102.4L109 104.8L116 107.2L123.1 109.6L130.2 112L137.3 114.4L144.4 116.8L151.6 119.2L158.8 121.5L166 123.9L173.3 126.2L180.6 128.5L188.1 130.8L186.5 130.7L179.1 128.4L171.9 126.1L164.7 123.8L157.5 121.4L150.3 119L143.2 116.6L136.1 114.2L129.1 111.8L122 109.4L115 107L108 104.5L101 102.1L94 99.6L87 97.2L80.1 94.7L73.2 92.2z"/><path fill="#ffe500" stroke="#ffe500" d="M73.2 92.2L80.1 94.7L87 97.2L94 99.6L101 102.1L108 104.5L115 107L122 109.4L129.1 111.8L136.1 114.2L143.2 116.6L150.3 119L157.5 121.4L164.7 123.8L171.9 126.1L179.1 128.4L186.5 130.7L184.9 130.7L177.7 128.3L170.5 126L163.4 123.6L156.2 121.2L149.1 118.8L142.1 116.4L135 114L128 111.6L121 109.1L114 106.7L107 104.2L100 101.8L93.1 99.3L86.1 96.9L79.2 94.4L72.3 91.9z"/><path fill="#fff200" stroke="#fff200" d="M72.3 91.9L79.2 94.4L86.1 96.9L93.1 99.3L100 101.8L107 104.2L114 106.7L121 109.1L128 111.6L135 114L142.1 116.4L149.1 118.8L156.2 121.2L163.4 123.6L170.5 126L177.7 128.3L184.9 130.7L183.5 130.5L176.4 128.2L169.2 125.8L162.1 123.4L155 121L148 118.6L140.9 116.1L133.9 113.7L126.9 111.3L119.9 108.8L113 106.4L106 103.9L99 101.5L92.1 99L85.2 96.5L78.3 94L71.4 91.5z"/><path fill="#fff400" stroke="#fff400" d="M71.4 91.5L78.3 94L85.2 96.5L92.1 99L99 101.5L106 103.9L113 106.4L119.9 108.8L126.9 111.3L133.9 113.7L140.9 116.1L148 118.6L155 121L162.1 123.4L169.2 125.8L176.4 128.2L183.5 130.5L182.2 130.3L175.1 128L168 125.6L160.9 123.1L153.9 120.7L146.8 118.3L139.8 115.9L132.8 113.4L125.9 111L118.9 108.5L112 106L105 103.6L98.1 101.1L91.2 98.6L84.3 96.1L77.4 93.7L70.5 91.2z"/><path fill="#fff600" stroke="#fff600" d="M70.5 91.2L77.4 93.7L84.3 96.1L91.2 98.6L98.1 101.1L105 103.6L112 106L118.9 108.5L125.9 111L132.8 113.4L139.8 115.9L146.8 118.3L153.9 120.7L160.9 123.1L168 125.6L175.1 128L182.2 130.3L180.9 130.1L173.8 127.7L166.8 125.3L159.7 122.9L152.7 120.4L145.7 118L138.7 115.5L131.8 113.1L124.8 110.6L117.9 108.2L111 105.7L104 103.2L97.1 100.7L90.2 98.3L83.4 95.8L76.5 93.3L69.6 90.8z"/><path fill="#fff900" stroke="#fff900" d="M69.6 90.8L76.5 93.3L83.4 95.8L90.2 98.3L97.1 100.7L104 103.2L111 105.7L117.9 108.2L124.8 110.6L131.8 113.1L138.7 115.5L145.7 118L152.7 120.4L159.7 122.9L166.8 125.3L173.8 127.7L180.9 130.1L179.6 129.9L172.6 127.4L165.6 125L158.6 122.6L151.6 120.1L144.6 117.7L137.7 115.2L130.7 112.7L123.8 110.3L116.9 107.8L110 105.3L103.1 102.8L96.2 100.3L89.3 97.8L82.4 95.4L75.6 92.8L68.7 90.3z"/><path fill="#fffb00" stroke="#fffb00" d="M68.7 90.3L75.6 92.8L82.4 95.4L89.3 97.8L96.2 100.3L103.1 102.8L110 105.3L116.9 107.8L123.8 110.3L130.7 112.7L137.7 115.2L144.6 117.7L151.6 120.1L158.6 122.6L165.6 125L172.6 127.4L179.6 129.9L178.4 129.6L171.4 127.1L164.4 124.7L157.4 122.2L150.5 119.8L143.5 117.3L136.6 114.8L129.7 112.4L122.8 109.9L115.9 107.4L109 104.9L102.1 102.4L95.2 99.9L88.4 97.4L81.5 94.9L74.7 92.4L67.8 89.9z"/><path fill="#fffc00" stroke="#fffc00" d="M67.8 89.9L74.7 92.4L81.5 94.9L88.4 97.4L95.2 99.9L102.1 102.4L109 104.9L115.9 107.4L122.8 109.9L129.7 112.4L136.6 114.8L143.5 117.3L150.5 119.8L157.4 122.2L164.4 124.7L171.4 127.1L178.4 129.6L177.2 129.3L170.2 126.8L163.3 124.3L156.3 121.9L149.4 119.4L142.5 116.9L135.6 114.5L128.7 112L121.8 109.5L114.9 107L108 104.5L101.1 102L94.3 99.5L87.4 97L80.6 94.5L73.8 92L66.9 89.4z"/><path fill="#fffd00" stroke="#fffd00" d="M66.9 89.4L73.8 92L80.6 94.5L87.4 97L94.3 99.5L101.1 102L108 104.5L114.9 107L121.8 109.5L128.7 112L135.6 114.5L142.5 116.9L149.4 119.4L156.3 121.9L163.3 124.3L170.2 126.8L177.2 129.3L176 128.9L169.1 126.4L162.1 124L155.2 121.5L148.3 119L141.4 116.5L134.5 114L127.6 111.5L120.8 109.1L113.9 106.6L107 104L100.2 101.5L93.4 99L86.5 96.5L79.7 94L72.9 91.5L66 89z"/><path fill="#fffe00" stroke="#fffe00" d="M66 89L72.9 91.5L79.7 94L86.5 96.5L93.4 99L100.2 101.5L107 104L113.9 106.6L120.8 109.1L127.6 111.5L134.5 114L141.4 116.5L148.3 119L155.2 121.5L162.1 124L169.1 126.4L176 128.9L174.8 128.5L167.9 126L161 123.6L154.1 121.1L147.2 118.6L140.4 116.1L133.5 113.6L126.6 111.1L119.8 108.6L112.9 106.1L106.1 103.6L99.2 101.1L92.4 98.5L85.6 96L78.8 93.5L72 91L65.2 88.4z"/><path fill="#ffff00" stroke="#ffff00" d="M65.2 88.4L72 91L78.8 93.5L85.6 96L92.4 98.5L99.2 101.1L106.1 103.6L112.9 106.1L119.8 108.6L126.6 111.1L133.5 113.6L140.4 116.1L147.2 118.6L154.1 121.1L161 123.6L167.9 126L174.8 128.5L173.7 128.1L166.8 125.6L159.9 123.1L153.1 120.6L146.2 118.1L139.3 115.6L132.5 113.1L125.6 110.6L118.8 108.1L111.9 105.6L105.1 103.1L98.3 100.6L91.5 98L84.7 95.5L77.9 93L71.1 90.5L64.3 87.9z"/><path fill="#f8fe00" stroke="#f8fe00" d="M64.3 87.9L71.1 90.5L77.9 93L84.7 95.5L91.5 98L98.3 100.6L105.1 103.1L111.9 105.6L118.8 108.1L125.6 110.6L132.5 113.1L139.3 115.6L146.2 118.1L153.1 120.6L159.9 123.1L166.8 125.6L173.7 128.1L172.6 127.7L165.7 125.2L158.8 122.7L152 120.2L145.1 117.7L138.3 115.2L131.5 112.6L124.6 110.1L117.8 107.6L111 105.1L104.2 102.6L97.4 100L90.5 97.5L83.8 95L77 92.4L70.2 89.9L63.4 87.4z"/><path fill="#e9fd00" stroke="#e9fd00" d="M63.4 87.4L70.2 89.9L77 92.4L83.8 95L90.5 97.5L97.4 100L104.2 102.6L111 105.1L117.8 107.6L124.6 110.1L131.5 112.6L138.3 115.2L145.1 117.7L152 120.2L158.8 122.7L165.7 125.2L172.6 127.7L171.5 127.2L164.6 124.7L157.8 122.2L150.9 119.7L144.1 117.2L137.3 114.7L130.4 112.1L123.6 109.6L116.8 107.1L110 104.6L103.2 102L96.4 99.5L89.6 97L82.8 94.4L76 91.9L69.3 89.3L62.5 86.8z"/><path fill="#dafc00" stroke="#dafc00" d="M62.5 86.8L69.3 89.3L76 91.9L82.8 94.4L89.6 97L96.4 99.5L103.2 102L110 104.6L116.8 107.1L123.6 109.6L130.4 112.1L137.3 114.7L144.1 117.2L150.9 119.7L157.8 122.2L164.6 124.7L171.5 127.2L170.4 126.7L163.6 124.2L156.7 121.7L149.9 119.2L143.1 116.6L136.3 114.1L129.4 111.6L122.6 109.1L115.8 106.5L109 104L102.3 101.5L95.5 98.9L88.7 96.4L81.9 93.8L75.1 91.3L68.4 88.8L61.6 86.2z"/><path fill="#cbfa00" stroke="#cbfa00" d="M61.6 86.2L68.4 88.8L75.1 91.3L81.9 93.8L88.7 96.4L95.5 98.9L102.3 101.5L109 104L115.8 106.5L122.6 109.1L129.4 111.6L136.3 114.1L143.1 116.6L149.9 119.2L156.7 121.7L163.6 124.2L170.4 126.7L169.3 126.2L162.5 123.7L155.7 121.1L148.9 118.6L142.1 116.1L135.3 113.6L128.5 111L121.7 108.5L114.9 106L108.1 103.4L101.3 100.9L94.5 98.3L87.8 95.8L81 93.3L74.2 90.7L67.5 88.1L60.7 85.6z"/><path fill="#aff800" stroke="#aff800" d="M60.7 85.6L67.5 88.1L74.2 90.7L81 93.3L87.8 95.8L94.5 98.3L101.3 100.9L108.1 103.4L114.9 106L121.7 108.5L128.5 111L135.3 113.6L142.1 116.1L148.9 118.6L155.7 121.1L162.5 123.7L169.3 126.2L168.3 125.6L161.5 123.1L154.6 120.6L147.8 118.1L141 115.5L134.3 113L127.5 110.5L120.7 107.9L113.9 105.4L107.1 102.8L100.4 100.3L93.6 97.7L86.8 95.2L80.1 92.6L73.3 90.1L66.6 87.5L59.8 85z"/><path fill="#90f500" stroke="#90f500" d="M59.8 85L66.6 87.5L73.3 90.1L80.1 92.6L86.8 95.2L93.6 97.7L100.4 100.3L107.1 102.8L113.9 105.4L120.7 107.9L127.5 110.5L134.3 113L141 115.5L147.8 118.1L154.6 120.6L161.5 123.1L168.3 125.6L167.2 125.1L160.4 122.5L153.6 120L146.8 117.5L140 114.9L133.3 112.4L126.5 109.8L119.7 107.3L112.9 104.8L106.2 102.2L99.4 99.7L92.7 97.1L85.9 94.5L79.2 92L72.4 89.4L65.7 86.9L58.9 84.3z"/><path fill="#71f200" stroke="#71f200" d="M58.9 84.3L65.7 86.9L72.4 89.4L79.2 92L85.9 94.5L92.7 97.1L99.4 99.7L106.2 102.2L112.9 104.8L119.7 107.3L126.5 109.8L133.3 112.4L140 114.9L146.8 117.5L153.6 120L160.4 122.5L167.2 125.1L166.2 124.5L159.4 121.9L152.6 119.4L145.8 116.9L139 114.3L132.3 111.8L125.5 109.2L118.7 106.7L112 104.1L105.2 101.6L98.5 99L91.7 96.4L85 93.9L78.3 91.3L71.5 88.8L64.8 86.2L58.1 83.6z"/><path fill="#59f000" stroke="#59f000" d="M58.1 83.6L64.8 86.2L71.5 88.8L78.3 91.3L85 93.9L91.7 96.4L98.5 99L105.2 101.6L112 104.1L118.7 106.7L125.5 109.2L132.3 111.8L139 114.3L145.8 116.9L152.6 119.4L159.4 121.9L166.2 124.5L165.1 123.9L158.3 121.3L151.6 118.8L144.8 116.2L138 113.7L131.3 111.1L124.5 108.6L117.8 106L111 103.5L104.3 100.9L97.6 98.3L90.8 95.8L84.1 93.2L77.3 90.6L70.6 88.1L63.9 85.5L57.2 82.9z"/><path fill="#48f000" stroke="#48f000" d="M57.2 82.9L63.9 85.5L70.6 88.1L77.3 90.6L84.1 93.2L90.8 95.8L97.6 98.3L104.3 100.9L111 103.5L117.8 106L124.5 108.6L131.3 111.1L138 113.7L144.8 116.2L151.6 118.8L158.3 121.3L165.1 123.9L164.1 123.2L157.3 120.7L150.6 118.1L143.8 115.6L137.1 113L130.3 110.4L123.6 107.9L116.8 105.3L110.1 102.8L103.3 100.2L96.6 97.6L89.9 95.1L83.2 92.5L76.4 89.9L69.7 87.4L63 84.8L56.3 82.2z"/><path fill="#38f000" stroke="#38f000" d="M56.3 82.2L63 84.8L69.7 87.4L76.4 89.9L83.2 92.5L89.9 95.1L96.6 97.6L103.3 100.2L110.1 102.8L116.8 105.3L123.6 107.9L130.3 110.4L137.1 113L143.8 115.6L150.6 118.1L157.3 120.7L164.1 123.2L163.1 122.5L156.3 120L149.6 117.4L142.8 114.9L136.1 112.3L129.3 109.8L122.6 107.2L115.9 104.6L109.1 102.1L102.4 99.5L95.7 96.9L89 94.4L82.2 91.8L75.5 89.2L68.8 86.6L62.1 84.1L55.4 81.5z"/><path fill="#27f000" stroke="#27f000" d="M55.4 81.5L62.1 84.1L68.8 86.6L75.5 89.2L82.2 91.8L89 94.4L95.7 96.9L102.4 99.5L109.1 102.1L115.9 104.6L122.6 107.2L129.3 109.8L136.1 112.3L142.8 114.9L149.6 117.4L156.3 120L163.1 122.5L162.1 121.8L155.3 119.3L148.6 116.7L141.8 114.2L135.1 111.6L128.4 109L121.6 106.5L114.9 103.9L108.2 101.3L101.5 98.8L94.8 96.2L88 93.6L81.3 91L74.6 88.5L67.9 85.9L61.2 83.3L54.5 80.7z"/><path fill="#19f000" stroke="#19f000" d="M54.5 80.7L61.2 83.3L67.9 85.9L74.6 88.5L81.3 91L88 93.6L94.8 96.2L101.5 98.8L108.2 101.3L114.9 103.9L121.6 106.5L128.4 109L135.1 111.6L141.8 114.2L148.6 116.7L155.3 119.3L162.1 121.8L161 121.1L154.3 118.6L147.6 116L140.8 113.4L134.1 110.9L127.4 108.3L120.7 105.7L114 103.2L107.2 100.6L100.5 98L93.8 95.4L87.1 92.9L80.4 90.3L73.7 87.7L67 85.1L60.3 82.5L53.6 79.9z"/><path fill="#0af000" stroke="#0af000" d="M53.6 79.9L60.3 82.5L67 85.1L73.7 87.7L80.4 90.3L87.1 92.9L93.8 95.4L100.5 98L107.2 100.6L114 103.2L120.7 105.7L127.4 108.3L134.1 110.9L140.8 113.4L147.6 116L154.3 118.6L161 121.1L160 120.4L153.3 117.8L146.6 115.3L139.9 112.7L133.2 110.1L126.4 107.5L119.7 105L113 102.4L106.3 99.8L99.6 97.2L92.9 94.7L86.2 92.1L79.5 89.5L72.8 86.9L66.1 84.3L59.4 81.7L52.7 79.1z"/><path fill="#00f004" stroke="#00f004" d="M52.7 79.1L59.4 81.7L66.1 84.3L72.8 86.9L79.5 89.5L86.2 92.1L92.9 94.7L99.6 97.2L106.3 99.8L113 102.4L119.7 105L126.4 107.5L133.2 110.1L139.9 112.7L146.6 115.3L153.3 117.8L160 120.4L159 119.6L152.3 117.1L145.6 114.5L138.9 111.9L132.2 109.3L125.5 106.8L118.8 104.2L112.1 101.6L105.4 99L98.7 96.4L92 93.9L85.3 91.3L78.6 88.7L71.9 86.1L65.2 83.5L58.5 80.9L51.8 78.3z"/><path fill="#00f00f" stroke="#00f00f" d="M51.8 78.3L58.5 80.9L65.2 83.5L71.9 86.1L78.6 88.7L85.3 91.3L92 93.9L98.7 96.4L105.4 99L112.1 101.6L118.8 104.2L125.5 106.8L132.2 109.3L138.9 111.9L145.6 114.5L152.3 117.1L159 119.6L158 118.8L151.3 116.3L144.6 113.7L137.9 111.1L131.2 108.5L124.5 106L117.8 103.4L111.1 100.8L104.4 98.2L97.7 95.6L91.1 93L84.4 90.4L77.7 87.8L71 85.3L64.3 82.7L57.6 80.1L51 77.5z"/><path fill="#00f019" stroke="#00f019" d="M51 77.5L57.6 80.1L64.3 82.7L71 85.3L77.7 87.8L84.4 90.4L91.1 93L97.7 95.6L104.4 98.2L111.1 100.8L117.8 103.4L124.5 106L131.2 108.5L137.9 111.1L144.6 113.7L151.3 116.3L158 118.8L157.1 118L150.4 115.5L143.7 112.9L137 110.3L130.3 107.7L123.6 105.1L116.9 102.5L110.2 100L103.5 97.4L96.8 94.8L90.1 92.2L83.4 89.6L76.8 87L70.1 84.4L63.4 81.8L56.7 79.2L50.1 76.6z"/><path fill="#00f02e" stroke="#00f02e" d="M50.1 76.6L56.7 79.2L63.4 81.8L70.1 84.4L76.8 87L83.4 89.6L90.1 92.2L96.8 94.8L103.5 97.4L110.2 100L116.9 102.5L123.6 105.1L130.3 107.7L137 110.3L143.7 112.9L150.4 115.5L157.1 118L156.1 117.2L149.4 114.6L142.7 112L136 109.4L129.3 106.9L122.6 104.3L115.9 101.7L109.2 99.1L102.6 96.5L95.9 93.9L89.2 91.3L82.5 88.7L75.9 86.1L69.2 83.5L62.5 80.9L55.9 78.3L49.2 75.7z"/><path fill="#00f049" stroke="#00f049" d="M49.2 75.7L55.9 78.3L62.5 80.9L69.2 83.5L75.9 86.1L82.5 88.7L89.2 91.3L95.9 93.9L102.6 96.5L109.2 99.1L115.9 101.7L122.6 104.3L129.3 106.9L136 109.4L142.7 112L149.4 114.6L156.1 117.2L155.1 116.3L148.4 113.8L141.7 111.2L135 108.6L128.3 106L121.7 103.4L115 100.8L108.3 98.2L101.6 95.6L95 93L88.3 90.4L81.6 87.8L75 85.2L68.3 82.6L61.6 80L55 77.4L48.3 74.8z"/><path fill="#00f066" stroke="#00f066" d="M48.3 74.8L55 77.4L61.6 80L68.3 82.6L75 85.2L81.6 87.8L88.3 90.4L95 93L101.6 95.6L108.3 98.2L115 100.8L121.7 103.4L128.3 106L135 108.6L141.7 111.2L148.4 113.8L155.1 116.3L154.1 115.5L147.4 112.9L140.7 110.3L134.1 107.7L127.4 105.1L120.7 102.5L114 99.9L107.4 97.3L100.7 94.7L94 92.1L87.4 89.5L80.7 86.9L74 84.3L67.4 81.7L60.7 79.1L54.1 76.5L47.4 73.9z"/><path fill="#00f178" stroke="#00f178" d="M47.4 73.9L54.1 76.5L60.7 79.1L67.4 81.7L74 84.3L80.7 86.9L87.4 89.5L94 92.1L100.7 94.7L107.4 97.3L114 99.9L120.7 102.5L127.4 105.1L134.1 107.7L140.7 110.3L147.4 112.9L154.1 115.5L153.1 114.6L146.5 112L139.8 109.4L133.1 106.8L126.4 104.2L119.8 101.6L113.1 99L106.4 96.4L99.8 93.8L93.1 91.2L86.5 88.6L79.8 86L73.1 83.4L66.5 80.8L59.8 78.2L53.2 75.6L46.5 73z"/><path fill="#00f28b" stroke="#00f28b" d="M46.5 73L53.2 75.6L59.8 78.2L66.5 80.8L73.1 83.4L79.8 86L86.5 88.6L93.1 91.2L99.8 93.8L106.4 96.4L113.1 99L119.8 101.6L126.4 104.2L133.1 106.8L139.8 109.4L146.5 112L153.1 114.6L152.2 113.6L145.5 111L138.8 108.4L132.2 105.9L125.5 103.3L118.8 100.6L112.2 98L105.5 95.4L98.8 92.8L92.2 90.2L85.5 87.6L78.9 85L72.2 82.4L65.6 79.8L58.9 77.2L52.3 74.6L45.6 72z"/><path fill="#00f4a5" stroke="#00f4a5" d="M45.6 72L52.3 74.6L58.9 77.2L65.6 79.8L72.2 82.4L78.9 85L85.5 87.6L92.2 90.2L98.8 92.8L105.5 95.4L112.2 98L118.8 100.6L125.5 103.3L132.2 105.9L138.8 108.4L145.5 111L152.2 113.6L151.2 112.7L144.5 110.1L137.9 107.5L131.2 104.9L124.5 102.3L117.9 99.7L111.2 97.1L104.6 94.5L97.9 91.9L91.3 89.3L84.6 86.7L78 84.1L71.3 81.4L64.7 78.8L58 76.2L51.4 73.6L44.8 71z"/><path fill="#00f6cd" stroke="#00f6cd" d="M44.8 71L51.4 73.6L58 76.2L64.7 78.8L71.3 81.4L78 84.1L84.6 86.7L91.3 89.3L97.9 91.9L104.6 94.5L111.2 97.1L117.9 99.7L124.5 102.3L131.2 104.9L137.9 107.5L144.5 110.1L151.2 112.7L150.2 111.7L143.6 109.1L136.9 106.5L130.3 103.9L123.6 101.3L116.9 98.7L110.3 96.1L103.6 93.5L97 90.9L90.4 88.3L83.7 85.7L77.1 83.1L70.4 80.4L63.8 77.8L57.1 75.2L50.5 72.6L44.1 70.2z"/><path fill="#00f8f6" stroke="#00f8f6" d="M50.5 72.6L57.1 75.2L63.8 77.8L70.4 80.4L77.1 83.1L83.7 85.7L90.4 88.3L97 90.9L103.6 93.5L110.3 96.1L116.9 98.7L123.6 101.3L130.3 103.9L136.9 106.5L143.6 109.1L150.2 111.7L149.3 110.7L142.6 108.1L136 105.5L129.3 102.9L122.7 100.3L116 97.7L109.4 95.1L102.7 92.5L96.1 89.9L89.4 87.3L82.8 84.7L76.4 82.3L69.9 79.9L63.5 77.5L57 75.1L50.5 72.6z"/><path fill="#00f6fa" stroke="#00f6fa" d="M82.8 84.7L89.4 87.3L96.1 89.9L102.7 92.5L109.4 95.1L116 97.7L122.7 100.3L129.3 102.9L136 105.5L142.6 108.1L149.3 110.7L148.3 109.7L141.7 107.1L135 104.5L128.4 101.9L121.7 99.3L115.1 96.8L108.7 94.3L102.2 91.9L95.8 89.5L89.3 87.1L82.8 84.7z"/><path fill="#00f3fb" stroke="#00f3fb" d="M115.1 96.8L121.7 99.3L128.4 101.9L135 104.5L141.7 107.1L148.3 109.7L147.4 108.8L141 106.4L134.5 104L128.1 101.6L121.6 99.2L115.1 96.8z"/></g><path d="M44.1 70.2L46 72.4L47.9 74.4L49.8 76.3L51.7 78.1L53.6 79.9L55.5 81.5L57.4 83.1L59.2 84.5L61.1 85.9L63 87.2L64.9 88.3L66.8 89.4L68.7 90.4L70.6 91.2L72.5 92L74.4 92.7L76.3 93.3L78.2 93.8L80.1 94.1L82 94.4L83.9 94.6L85.8 94.7L87.7 94.7L89.6 94.6L91.5 94.4L93.4 94.1L95.3 93.7L97.2 93.2L99.1 92.6L101 91.9L102.9 91.1L104.8 90.2L106.7 89.2L108.6 88.1L110.5 86.9L112.4 85.6L114.3 84.2L116.2 82.7L118.1 81.1L120 79.4L121.9 77.6L123.8 75.7L125.7 73.7L127.5 71.6L129.4 69.3L131.3 67L133.2 64.6L135.1 62.1L137 59.5L138.9 56.7L140.8 53.9L142.7 51L144.6 47.9L146.4 44.8L148.3 41.5L150.2 38.2L152.1 34.7L154 31.2L155.9 27.5L165.2 30.7L174.6 33.9L183.9 37.1L193.3 40.4L202.6 43.6L212 46.8L221.3 50.1L230.7 53.3L240.1 56.5L249.4 59.8L258.8 63.1L256.9 66.6L255 70L253.2 73.4L251.3 76.6L249.4 79.8L247.5 82.9L245.7 85.8L243.8 88.7L241.9 91.5L240 94.2L238.1 96.8L236.3 99.3L234.4 101.7L232.5 104L230.6 106.2L228.7 108.3L226.8 110.3L225 112.2L223.1 114.1L221.2 115.8L219.3 117.5L217.4 119L215.5 120.5L213.6 121.8L211.7 123.1L209.9 124.2L208 125.3L206.1 126.3L204.2 127.2L202.3 127.9L200.4 128.6L198.5 129.2L196.6 129.7L194.7 130.1L192.8 130.4L190.9 130.6L189.1 130.7L187.2 130.8L185.3 130.7L183.4 130.5L181.5 130.2L179.6 129.9L177.7 129.4L175.8 128.8L173.9 128.2L172 127.4L170.1 126.6L168.2 125.6L166.3 124.6L164.5 123.4L162.6 122.2L160.7 120.9L158.8 119.4L156.9 117.9L155 116.3L153.1 114.6L151.2 112.7L149.3 110.8L147.4 108.8L138.1 105.3L128.7 101.8L119.3 98.3L109.9 94.8L100.5 91.3L91.1 87.8L81.7 84.3L72.3 80.8L62.9 77.2L53.5 73.7L44.1 70.2z" fill="none" stroke="#1a1ac8" stroke-width="0.9" stroke-linejoin="round"/><g font-size="4.3" text-anchor="middle" fill="#1c2a1c" stroke="none" letter-spacing="0"><text x="202.9" y="53.1">1050.0</text><text x="198.1" y="61.7">900.0</text><text x="193.4" y="69.9">750.0</text><text x="188.0" y="78.5">600.0</text><text x="180.7" y="87.7">450.0</text><text x="172.8" y="97.0">300.0</text><text x="152.5" y="111.8">150.0</text><text x="242.5" y="60.1">1200.0</text><text x="109.5" y="95.1">1050.0</text><text x="104.5" y="95.9">900.0</text><text x="104.7" y="100.3">750.0</text><text x="111.9" y="105.0">600.0</text><text x="119.8" y="109.5">450.0</text><text x="128.5" y="112.9">300.0</text></g><path d="M38.1 47.3L147.5 92.6M40.8 48.4l2.0 -0.7M46.0 50.6l1.2 -0.4M51.2 52.7l2.0 -0.7M56.4 54.9l1.2 -0.4M61.6 57.0l2.0 -0.7M66.8 59.2l1.2 -0.4M72.0 61.3l2.0 -0.7M77.2 63.5l1.2 -0.4M82.4 65.6l2.0 -0.7M87.6 67.8l1.2 -0.4M92.8 69.9l2.0 -0.7M98.0 72.1l1.2 -0.4M103.2 74.3l2.0 -0.7M108.4 76.4l1.2 -0.4M113.6 78.6l2.0 -0.7M118.8 80.7l1.2 -0.4M124.0 82.9l2.0 -0.7M129.2 85.0l1.2 -0.4M134.4 87.2l2.0 -0.7M139.6 89.3l1.2 -0.4M144.8 91.5l2.0 -0.7M147.5 92.6L264.1 50.7M150.4 91.6l-1.9 -0.8M156.0 89.6l-1.2 -0.5M161.5 87.6l-1.9 -0.8M167.0 85.6l-1.2 -0.5M172.6 83.6l-1.9 -0.8M178.1 81.6l-1.2 -0.5M183.6 79.6l-1.9 -0.8M189.2 77.6l-1.2 -0.5M194.7 75.6l-1.9 -0.8M200.3 73.6l-1.2 -0.5M205.8 71.7l-1.9 -0.8M211.3 69.7l-1.2 -0.5M216.9 67.7l-1.9 -0.8M222.4 65.7l-1.2 -0.5M228.0 63.7l-1.9 -0.8M233.5 61.7l-1.2 -0.5M239.0 59.7l-1.9 -0.8M244.6 57.7l-1.2 -0.5M250.1 55.7l-1.9 -0.8M255.6 53.7l-1.2 -0.5M261.2 51.7l-1.9 -0.8M147.5 161.2L147.5 92.6M147.5 159.1l-1.9 -0.8M147.5 154.9l-1.2 -0.5M147.5 150.6l-1.2 -0.5M147.5 146.3l-1.9 -0.8M147.5 142.0l-1.2 -0.5M147.5 137.8l-1.2 -0.5M147.5 133.5l-1.9 -0.8M147.5 129.2l-1.2 -0.5M147.5 124.9l-1.2 -0.5M147.5 120.7l-1.9 -0.8M147.5 116.4l-1.2 -0.5M147.5 112.1l-1.2 -0.5M147.5 107.8l-1.9 -0.8M147.5 103.6l-1.2 -0.5M147.5 99.3l-1.2 -0.5M147.5 95.0l-1.9 -0.8" fill="none" stroke="#0c0c0c" stroke-width="0.9"/></g><g id="plot-b"><path d="M391.8 113.3L533.0 91.3M395.3 112.8l1.8 1.0M402.0 111.7l1.1 0.6M408.7 110.7l1.8 1.0M415.5 109.6l1.1 0.6M422.2 108.6l1.8 1.0M428.9 107.5l1.1 0.6M435.6 106.5l1.8 1.0M442.3 105.4l1.1 0.6M449.0 104.4l1.8 1.0M455.7 103.3l1.1 0.6M462.4 102.3l1.8 1.0M469.1 101.3l1.1 0.6M475.8 100.2l1.8 1.0M482.5 99.2l1.1 0.6M489.2 98.1l1.8 1.0M495.9 97.1l1.1 0.6M502.6 96.0l1.8 1.0M509.3 95.0l1.1 0.6M516.1 93.9l1.8 1.0M522.8 92.9l1.1 0.6M529.5 91.8l1.8 1.0M533.0 91.3L608.5 132.3M534.9 92.3l-2.1 0.3M538.5 94.3l-1.2 0.2M542.1 96.2l-2.1 0.3M545.6 98.2l-1.2 0.2M549.2 100.1l-2.1 0.3M552.8 102.1l-1.2 0.2M556.4 104.0l-2.1 0.3M560.0 106.0l-1.2 0.2M563.6 107.9l-2.1 0.3M567.2 109.9l-1.2 0.2M570.8 111.8l-2.1 0.3M574.3 113.7l-1.2 0.2M577.9 115.7l-2.1 0.3M581.5 117.6l-1.2 0.2M585.1 119.6l-2.1 0.3M588.7 121.5l-1.2 0.2M592.3 123.5l-2.1 0.3M595.9 125.4l-1.2 0.2M599.4 127.4l-2.1 0.3M603.0 129.3l-1.2 0.2M606.6 131.3l-2.1 0.3M533.0 91.3L533.0 11.8M533.0 88.9l1.8 1.0M533.0 81.5l1.1 0.6M533.0 74.0l1.8 1.0M533.0 66.6l1.1 0.6M533.0 59.2l1.8 1.0M533.0 51.7l1.1 0.6M533.0 44.3l1.8 1.0M533.0 36.9l1.1 0.6M533.0 29.4l1.8 1.0M533.0 22.0l1.1 0.6M533.0 14.6l1.8 1.0M608.7 53.7L533.0 11.8M606.8 52.7l-2.1 0.3M603.2 50.7l-1.2 0.2M599.6 48.7l-2.1 0.3M596.0 46.7l-1.2 0.2M592.4 44.7l-2.1 0.3M588.8 42.7l-1.2 0.2M585.2 40.7l-2.1 0.3M581.6 38.7l-1.2 0.2M578.0 36.7l-2.1 0.3M574.4 34.7l-1.2 0.2M570.9 32.8l-2.1 0.3M567.3 30.8l-1.2 0.2M563.7 28.8l-2.1 0.3M560.1 26.8l-1.2 0.2M556.5 24.8l-2.1 0.3M552.9 22.8l-1.2 0.2M549.3 20.8l-2.1 0.3M545.7 18.8l-1.2 0.2M542.1 16.8l-2.1 0.3M538.5 14.8l-1.2 0.2M534.9 12.8l-2.1 0.3M533.0 11.8L392.2 34.6M529.5 12.4l1.8 1.0M522.8 13.5l1.1 0.6M516.1 14.5l1.8 1.0M509.4 15.6l1.1 0.6M502.7 16.7l1.8 1.0M496.0 17.8l1.1 0.6M489.4 18.9l1.8 1.0M482.7 20.0l1.1 0.6M476.0 21.0l1.8 1.0M469.3 22.1l1.1 0.6M462.6 23.2l1.8 1.0M455.9 24.3l1.1 0.6M449.2 25.4l1.8 1.0M442.5 26.4l1.1 0.6M435.8 27.5l1.8 1.0M429.2 28.6l1.1 0.6M422.5 29.7l1.8 1.0M415.8 30.8l1.1 0.6M409.1 31.9l1.8 1.0M402.4 32.9l1.1 0.6M395.7 34.0l1.8 1.0M391.8 113.3L392.2 34.6M391.8 110.9l1.8 1.0M391.8 103.6l1.1 0.6M391.9 96.2l1.8 1.0M391.9 88.9l1.1 0.6M392.0 81.5l1.8 1.0M392.0 74.1l1.1 0.6M392.0 66.8l1.8 1.0M392.1 59.4l1.1 0.6M392.1 52.1l1.8 1.0M392.1 44.7l1.1 0.6M392.2 37.4l1.8 1.0M608.5 132.3L608.7 53.7M608.5 129.9l-1.8 -1.0M608.5 122.6l-1.1 -0.6M608.5 115.2l-1.8 -1.0M608.6 107.9l-1.1 -0.6M608.6 100.5l-1.8 -1.0M608.6 93.2l-1.1 -0.6M608.6 85.8l-1.8 -1.0M608.6 78.5l-1.1 -0.6M608.7 71.1l-1.8 -1.0M608.7 63.8l-1.1 -0.6M608.7 56.5l-1.8 -1.0M391.8 113.3L466.7 155.3M393.7 114.3l2.1 -0.3M397.2 116.3l1.2 -0.2M400.8 118.3l2.1 -0.3M404.3 120.3l1.2 -0.2M407.9 122.3l2.1 -0.3M411.5 124.3l1.2 -0.2M415.0 126.3l2.1 -0.3M418.6 128.3l1.2 -0.2M422.1 130.3l2.1 -0.3M425.7 132.3l1.2 -0.2M429.2 134.3l2.1 -0.3M432.8 136.3l1.2 -0.2M436.4 138.3l2.1 -0.3M439.9 140.3l1.2 -0.2M443.5 142.3l2.1 -0.3M447.0 144.3l1.2 -0.2M450.6 146.3l2.1 -0.3M454.2 148.3l1.2 -0.2M457.7 150.3l2.1 -0.3M461.3 152.3l1.2 -0.2M464.8 154.2l2.1 -0.3M466.7 155.3L608.5 132.3M470.2 154.7l-1.8 -1.0M477.0 153.6l-1.1 -0.6M483.7 152.5l-1.8 -1.0M490.5 151.4l-1.1 -0.6M497.2 150.4l-1.8 -1.0M503.9 149.3l-1.1 -0.6M510.7 148.2l-1.8 -1.0M517.4 147.1l-1.1 -0.6M524.1 146.0l-1.8 -1.0M530.9 144.9l-1.1 -0.6M537.6 143.8l-1.8 -1.0M544.3 142.7l-1.1 -0.6M551.1 141.6l-1.8 -1.0M557.8 140.5l-1.1 -0.6M564.5 139.4l-1.8 -1.0M571.3 138.3l-1.1 -0.6M578.0 137.2l-1.8 -1.0M584.7 136.2l-1.1 -0.6M591.5 135.1l-1.8 -1.0M598.2 134.0l-1.1 -0.6M605.0 132.9l-1.8 -1.0" fill="none" stroke="#0c0c0c" stroke-width="0.95"/><g stroke-width=".9" stroke-linejoin="round"><path fill="#ff0b00" stroke="#ff0b00" d="M465.5 100L469.8 102L469.8 102L466.6 99.8z"/><path fill="#ff0c00" stroke="#ff0c00" d="M466.6 99.8L469.8 102L469.8 102L467.6 99.6z"/><path fill="#ff0c00" stroke="#ff0c00" d="M467.6 99.6L469.8 102L469.8 102L468.7 99.3z"/><path fill="#ff0d00" stroke="#ff0d00" d="M468.7 99.3L469.8 102L469.8 102L469.8 99.1z"/><path fill="#ff0e00" stroke="#ff0e00" d="M469.8 99.1L469.8 102L469.8 102L470.9 98.7z"/><path fill="#ff1000" stroke="#ff1000" d="M470.9 98.7L469.8 102L474.1 104L474.1 104L473.3 101.3L472 98.4z"/><path fill="#ff1200" stroke="#ff1200" d="M472 98.4L473.3 101.3L474.1 104L474.1 104L475.1 100.8L473 98z"/><path fill="#ff1400" stroke="#ff1400" d="M473 98L475.1 100.8L474.1 104L478.5 106L478.5 106L478.1 103.2L476.5 100.3L474.1 97.6z"/><path fill="#ff1600" stroke="#ff1600" d="M474.1 97.6L476.5 100.3L478.1 103.2L478.5 106L482.8 108L482.8 108L480.9 105.6L480.1 102.6L477.9 99.8L475.2 97.2z"/><path fill="#ff1900" stroke="#ff1900" d="M475.2 97.2L477.9 99.8L480.1 102.6L480.9 105.6L482.8 108L482.8 108L483.8 104.8L481.7 102L479.1 99.3L476.3 96.7z"/><path fill="#ff1c00" stroke="#ff1c00" d="M476.3 96.7L479.1 99.3L481.7 102L483.8 104.8L482.8 108L487.1 110.1L487.1 110.1L487.6 107L485.7 104.2L483.2 101.5L480.4 98.8L477.3 96.2z"/><path fill="#ff2000" stroke="#ff2000" d="M477.3 96.2L480.4 98.8L483.2 101.5L485.7 104.2L487.6 107L487.1 110.1L491.4 112.1L491.4 112.1L491.6 109.1L489.8 106.2L487.4 103.5L484.6 100.9L481.6 98.3L478.4 95.7z"/><path fill="#ff2300" stroke="#ff2300" d="M478.4 95.7L481.6 98.3L484.6 100.9L487.4 103.5L489.8 106.2L491.6 109.1L491.4 112.1L495.8 114.1L495.8 114.1L495.9 111.1L494.2 108.3L491.7 105.6L488.9 102.9L485.9 100.3L482.7 97.7L479.5 95.1z"/><path fill="#ff2a00" stroke="#ff2a00" d="M479.5 95.1L482.7 97.7L485.9 100.3L488.9 102.9L491.7 105.6L494.2 108.3L495.9 111.1L495.8 114.1L500.1 116.1L500.1 116.1L500.5 113L498.6 110.2L496.1 107.5L493.3 104.9L490.3 102.3L487.1 99.7L483.9 97.1L480.6 94.5z"/><path fill="#ff3200" stroke="#ff3200" d="M480.6 94.5L483.9 97.1L487.1 99.7L490.3 102.3L493.3 104.9L496.1 107.5L498.6 110.2L500.5 113L500.1 116.1L504.4 118.1L504.4 118.1L505.2 114.9L503.2 112.1L500.7 109.4L497.8 106.8L494.8 104.2L491.6 101.6L488.4 99L485 96.4L481.7 93.9z"/><path fill="#ff3b00" stroke="#ff3b00" d="M481.7 93.9L485 96.4L488.4 99L491.6 101.6L494.8 104.2L497.8 106.8L500.7 109.4L503.2 112.1L505.2 114.9L504.4 118.1L508.8 120.1L513.1 122.2L513.1 122.2L510.7 119.8L510.2 116.8L508 114L505.3 111.3L502.4 108.7L499.4 106.1L496.2 103.5L492.9 100.9L489.6 98.3L486.2 95.8L482.7 93.2z"/><path fill="#ff4400" stroke="#ff4400" d="M482.7 93.2L486.2 95.8L489.6 98.3L492.9 100.9L496.2 103.5L499.4 106.1L502.4 108.7L505.3 111.3L508 114L510.2 116.8L510.7 119.8L513.1 122.2L517.4 124.2L517.4 124.2L516.7 121.4L515.2 118.5L512.9 115.8L510.1 113.1L507.2 110.5L504.1 107.9L500.8 105.3L497.6 102.7L494.2 100.2L490.8 97.6L487.3 95.1L483.8 92.5z"/><path fill="#ff4e00" stroke="#ff4e00" d="M483.8 92.5L487.3 95.1L490.8 97.6L494.2 100.2L497.6 102.7L500.8 105.3L504.1 107.9L507.2 110.5L510.1 113.1L512.9 115.8L515.2 118.5L516.7 121.4L517.4 124.2L521.7 126.2L521.7 126.2L522.3 123.1L520.4 120.3L517.8 117.6L515 114.9L512 112.3L508.8 109.7L505.6 107.1L502.3 104.5L498.9 102L495.4 99.4L492 96.9L488.4 94.3L484.9 91.8z"/><path fill="#ff5800" stroke="#ff5800" d="M484.9 91.8L488.4 94.3L492 96.9L495.4 99.4L498.9 102L502.3 104.5L505.6 107.1L508.8 109.7L512 112.3L515 114.9L517.8 117.6L520.4 120.3L522.3 123.1L521.7 126.2L526.1 128.2L530.4 130.2L530.4 130.2L529 127.6L527.9 124.7L525.6 121.9L522.9 119.3L519.9 116.6L516.9 114L513.7 111.4L510.4 108.8L507 106.3L503.6 103.7L500.2 101.2L496.7 98.6L493.1 96.1L489.6 93.6L486 91z"/><path fill="#ff6300" stroke="#ff6300" d="M486 91L489.6 93.6L493.1 96.1L496.7 98.6L500.2 101.2L503.6 103.7L507 106.3L510.4 108.8L513.7 111.4L516.9 114L519.9 116.6L522.9 119.3L525.6 121.9L527.9 124.7L529 127.6L530.4 130.2L534.7 132.2L534.7 132.2L535.3 129.1L533.4 126.3L530.8 123.6L528 120.9L524.9 118.3L521.8 115.7L518.5 113.1L515.2 110.6L511.8 108L508.4 105.4L504.9 102.9L501.4 100.3L497.9 97.8L494.3 95.3L490.7 92.8L487.1 90.2z"/><path fill="#ff6e00" stroke="#ff6e00" d="M487.1 90.2L490.7 92.8L494.3 95.3L497.9 97.8L501.4 100.3L504.9 102.9L508.4 105.4L511.8 108L515.2 110.6L518.5 113.1L521.8 115.7L524.9 118.3L528 120.9L530.8 123.6L533.4 126.3L535.3 129.1L534.7 132.2L541.2 130.6L538.8 127.9L536.1 125.2L533.1 122.6L530 120L526.8 117.4L523.5 114.8L520.1 112.2L516.7 109.7L513.3 107.1L509.8 104.6L506.2 102L502.6 99.5L499.1 97L495.4 94.4L491.8 91.9L488.1 89.4z"/><path fill="#ff7a00" stroke="#ff7a00" d="M488.1 89.4L491.8 91.9L495.4 94.4L499.1 97L502.6 99.5L506.2 102L509.8 104.6L513.3 107.1L516.7 109.7L520.1 112.2L523.5 114.8L526.8 117.4L530 120L533.1 122.6L536.1 125.2L538.8 127.9L541.2 130.6L544.3 129.4L541.4 126.8L538.3 124.2L535.1 121.6L531.8 119L528.5 116.4L525.1 113.9L521.6 111.3L518.2 108.8L514.6 106.2L511.1 103.7L507.5 101.1L503.9 98.6L500.2 96.1L496.6 93.6L492.9 91.1L489.2 88.6z"/><path fill="#ff8700" stroke="#ff8700" d="M489.2 88.6L492.9 91.1L496.6 93.6L500.2 96.1L503.9 98.6L507.5 101.1L511.1 103.7L514.6 106.2L518.2 108.8L521.6 111.3L525.1 113.9L528.5 116.4L531.8 119L535.1 121.6L538.3 124.2L541.4 126.8L544.3 129.4L546.7 128.3L543.5 125.7L540.3 123.1L536.9 120.6L533.5 118L530.1 115.4L526.6 112.9L523.1 110.4L519.5 107.8L516 105.3L512.4 102.8L508.7 100.2L505.1 97.7L501.4 95.2L497.7 92.7L494 90.2L490.3 87.7z"/><path fill="#ff9500" stroke="#ff9500" d="M490.3 87.7L494 90.2L497.7 92.7L501.4 95.2L505.1 97.7L508.7 100.2L512.4 102.8L516 105.3L519.5 107.8L523.1 110.4L526.6 112.9L530.1 115.4L533.5 118L536.9 120.6L540.3 123.1L543.5 125.7L546.7 128.3L548.8 127.2L545.4 124.7L542.1 122.1L538.6 119.5L535.1 117L531.6 114.5L528.1 111.9L524.5 109.4L520.9 106.9L517.3 104.3L513.6 101.8L509.9 99.3L506.3 96.8L502.6 94.3L498.8 91.8L495.1 89.3L491.4 86.8z"/><path fill="#ffa300" stroke="#ffa300" d="M491.4 86.8L495.1 89.3L498.8 91.8L502.6 94.3L506.3 96.8L509.9 99.3L513.6 101.8L517.3 104.3L520.9 106.9L524.5 109.4L528.1 111.9L531.6 114.5L535.1 117L538.6 119.5L542.1 122.1L545.4 124.7L548.8 127.2L550.6 126.2L547.2 123.6L543.7 121.1L540.2 118.5L536.7 116L533.1 113.4L529.5 110.9L525.9 108.4L522.2 105.9L518.5 103.3L514.9 100.8L511.2 98.3L507.4 95.8L503.7 93.3L500 90.8L496.2 88.3L492.4 85.8z"/><path fill="#ffb200" stroke="#ffb200" d="M492.4 85.8L496.2 88.3L500 90.8L503.7 93.3L507.4 95.8L511.2 98.3L514.9 100.8L518.5 103.3L522.2 105.9L525.9 108.4L529.5 110.9L533.1 113.4L536.7 116L540.2 118.5L543.7 121.1L547.2 123.6L550.6 126.2L552.4 125.1L548.9 122.5L545.3 120L541.7 117.5L538.1 114.9L534.5 112.4L530.9 109.9L527.2 107.4L523.5 104.8L519.8 102.3L516.1 99.8L512.4 97.3L508.6 94.8L504.9 92.3L501.1 89.8L497.3 87.3L493.5 84.8z"/><path fill="#ffc200" stroke="#ffc200" d="M493.5 84.8L497.3 87.3L501.1 89.8L504.9 92.3L508.6 94.8L512.4 97.3L516.1 99.8L519.8 102.3L523.5 104.8L527.2 107.4L530.9 109.9L534.5 112.4L538.1 114.9L541.7 117.5L545.3 120L548.9 122.5L552.4 125.1L554 124L550.5 121.4L546.9 118.9L543.2 116.4L539.6 113.9L535.9 111.3L532.2 108.8L528.5 106.3L524.8 103.8L521.1 101.3L517.3 98.8L513.5 96.3L509.8 93.8L506 91.3L502.2 88.8L498.4 86.3L494.6 83.8z"/><path fill="#ffd300" stroke="#ffd300" d="M494.6 83.8L498.4 86.3L502.2 88.8L506 91.3L509.8 93.8L513.5 96.3L517.3 98.8L521.1 101.3L524.8 103.8L528.5 106.3L532.2 108.8L535.9 111.3L539.6 113.9L543.2 116.4L546.9 118.9L550.5 121.4L554 124L555.6 122.8L552 120.3L548.3 117.8L544.6 115.3L541 112.8L537.2 110.2L533.5 107.7L529.8 105.2L526 102.7L522.3 100.2L518.5 97.7L514.7 95.2L510.9 92.7L507.1 90.2L503.3 87.7L499.5 85.2L495.7 82.8z"/><path fill="#ffe400" stroke="#ffe400" d="M495.7 82.8L499.5 85.2L503.3 87.7L507.1 90.2L510.9 92.7L514.7 95.2L518.5 97.7L522.3 100.2L526 102.7L529.8 105.2L533.5 107.7L537.2 110.2L541 112.8L544.6 115.3L548.3 117.8L552 120.3L555.6 122.8L557.1 121.7L553.4 119.2L549.8 116.7L546 114.1L542.3 111.6L538.6 109.1L534.8 106.6L531.1 104.1L527.3 101.6L523.5 99.1L519.7 96.6L515.9 94.1L512.1 91.6L508.3 89.1L504.4 86.7L500.6 84.2L496.8 81.7z"/><path fill="#fff300" stroke="#fff300" d="M496.8 81.7L500.6 84.2L504.4 86.7L508.3 89.1L512.1 91.6L515.9 94.1L519.7 96.6L523.5 99.1L527.3 101.6L531.1 104.1L534.8 106.6L538.6 109.1L542.3 111.6L546 114.1L549.8 116.7L553.4 119.2L557.1 121.7L558.6 120.5L554.9 118L551.1 115.5L547.4 113L543.6 110.5L539.9 108L536.1 105.5L532.3 103L528.5 100.5L524.7 98L520.9 95.5L517.1 93L513.2 90.5L509.4 88L505.5 85.5L501.7 83.1L497.8 80.6z"/><path fill="#fff500" stroke="#fff500" d="M497.8 80.6L501.7 83.1L505.5 85.5L509.4 88L513.2 90.5L517.1 93L520.9 95.5L524.7 98L528.5 100.5L532.3 103L536.1 105.5L539.9 108L543.6 110.5L547.4 113L551.1 115.5L554.9 118L558.6 120.5L560 119.3L556.3 116.8L552.5 114.3L548.7 111.8L545 109.3L541.2 106.8L537.4 104.3L533.5 101.8L529.7 99.3L525.9 96.8L522.1 94.3L518.2 91.9L514.4 89.4L510.5 86.9L506.7 84.4L502.8 81.9L498.9 79.4z"/><path fill="#fff800" stroke="#fff800" d="M498.9 79.4L502.8 81.9L506.7 84.4L510.5 86.9L514.4 89.4L518.2 91.9L522.1 94.3L525.9 96.8L529.7 99.3L533.5 101.8L537.4 104.3L541.2 106.8L545 109.3L548.7 111.8L552.5 114.3L556.3 116.8L560 119.3L561.4 118.1L557.6 115.6L553.9 113.1L550.1 110.6L546.2 108.1L542.4 105.6L538.6 103.1L534.8 100.6L530.9 98.1L527.1 95.6L523.2 93.2L519.4 90.7L515.5 88.2L511.6 85.7L507.8 83.2L503.9 80.7L500 78.3z"/><path fill="#fffb00" stroke="#fffb00" d="M500 78.3L503.9 80.7L507.8 83.2L511.6 85.7L515.5 88.2L519.4 90.7L523.2 93.2L527.1 95.6L530.9 98.1L534.8 100.6L538.6 103.1L542.4 105.6L546.2 108.1L550.1 110.6L553.9 113.1L557.6 115.6L561.4 118.1L562.8 116.8L559 114.3L555.2 111.8L551.3 109.4L547.5 106.9L543.7 104.4L539.8 101.9L536 99.4L532.1 96.9L528.3 94.4L524.4 91.9L520.5 89.5L516.6 87L512.8 84.5L508.9 82L505 79.5L501.1 77z"/><path fill="#fffc00" stroke="#fffc00" d="M501.1 77L505 79.5L508.9 82L512.8 84.5L516.6 87L520.5 89.5L524.4 91.9L528.3 94.4L532.1 96.9L536 99.4L539.8 101.9L543.7 104.4L547.5 106.9L551.3 109.4L555.2 111.8L559 114.3L562.8 116.8L564.1 115.6L560.3 113.1L556.5 110.6L552.6 108.1L548.8 105.6L544.9 103.1L541.1 100.6L537.2 98.1L533.3 95.7L529.4 93.2L525.6 90.7L521.7 88.2L517.8 85.7L513.9 83.2L510 80.8L506.1 78.3L502.1 75.8z"/><path fill="#fffd00" stroke="#fffd00" d="M502.1 75.8L506.1 78.3L510 80.8L513.9 83.2L517.8 85.7L521.7 88.2L525.6 90.7L529.4 93.2L533.3 95.7L537.2 98.1L541.1 100.6L544.9 103.1L548.8 105.6L552.6 108.1L556.5 110.6L560.3 113.1L564.1 115.6L565.4 114.3L561.6 111.8L557.7 109.3L553.9 106.8L550 104.3L546.1 101.8L542.3 99.3L538.4 96.8L534.5 94.4L530.6 91.9L526.7 89.4L522.8 86.9L518.9 84.4L515 82L511.1 79.5L507.2 77L503.2 74.5z"/><path fill="#fffe00" stroke="#fffe00" d="M503.2 74.5L507.2 77L511.1 79.5L515 82L518.9 84.4L522.8 86.9L526.7 89.4L530.6 91.9L534.5 94.4L538.4 96.8L542.3 99.3L546.1 101.8L550 104.3L553.9 106.8L557.7 109.3L561.6 111.8L565.4 114.3L566.8 112.9L562.9 110.4L559 107.9L555.1 105.5L551.3 103L547.4 100.5L543.5 98L539.6 95.5L535.7 93L531.8 90.6L527.9 88.1L523.9 85.6L520 83.1L516.1 80.7L512.2 78.2L508.2 75.7L504.3 73.2z"/><path fill="#fcff00" stroke="#fcff00" d="M504.3 73.2L508.2 75.7L512.2 78.2L516.1 80.7L520 83.1L523.9 85.6L527.9 88.1L531.8 90.6L535.7 93L539.6 95.5L543.5 98L547.4 100.5L551.3 103L555.1 105.5L559 107.9L562.9 110.4L566.8 112.9L568 111.6L564.2 109.1L560.3 106.6L556.4 104.1L552.5 101.6L548.6 99.1L544.7 96.7L540.8 94.2L536.8 91.7L532.9 89.2L529 86.7L525.1 84.3L521.1 81.8L517.2 79.3L513.3 76.8L509.3 74.4L505.4 71.9z"/><path fill="#ebfd00" stroke="#ebfd00" d="M505.4 71.9L509.3 74.4L513.3 76.8L517.2 79.3L521.1 81.8L525.1 84.3L529 86.7L532.9 89.2L536.8 91.7L540.8 94.2L544.7 96.7L548.6 99.1L552.5 101.6L556.4 104.1L560.3 106.6L564.2 109.1L568 111.6L569.3 110.2L565.4 107.7L561.5 105.2L557.6 102.7L553.7 100.2L549.8 97.8L545.9 95.3L541.9 92.8L538 90.3L534.1 87.8L530.1 85.4L526.2 82.9L522.3 80.4L518.3 77.9L514.4 75.5L510.4 73L506.5 70.5z"/><path fill="#d9fc00" stroke="#d9fc00" d="M506.5 70.5L510.4 73L514.4 75.5L518.3 77.9L522.3 80.4L526.2 82.9L530.1 85.4L534.1 87.8L538 90.3L541.9 92.8L545.9 95.3L549.8 97.8L553.7 100.2L557.6 102.7L561.5 105.2L565.4 107.7L569.3 110.2L570.6 108.7L566.7 106.3L562.7 103.8L558.8 101.3L554.9 98.8L551 96.3L547 93.9L543.1 91.4L539.2 88.9L535.2 86.4L531.3 84L527.3 81.5L523.4 79L519.4 76.5L515.5 74.1L511.5 71.6L507.5 69.1z"/><path fill="#c5fa00" stroke="#c5fa00" d="M507.5 69.1L511.5 71.6L515.5 74.1L519.4 76.5L523.4 79L527.3 81.5L531.3 84L535.2 86.4L539.2 88.9L543.1 91.4L547 93.9L551 96.3L554.9 98.8L558.8 101.3L562.7 103.8L566.7 106.3L570.6 108.7L571.8 107.3L567.9 104.8L564 102.3L560 99.9L556.1 97.4L552.2 94.9L548.2 92.4L544.3 89.9L540.3 87.5L536.4 85L532.4 82.5L528.5 80.1L524.5 77.6L520.5 75.1L516.6 72.6L512.6 70.2L508.6 67.7z"/><path fill="#a1f600" stroke="#a1f600" d="M508.6 67.7L512.6 70.2L516.6 72.6L520.5 75.1L524.5 77.6L528.5 80.1L532.4 82.5L536.4 85L540.3 87.5L544.3 89.9L548.2 92.4L552.2 94.9L556.1 97.4L560 99.9L564 102.3L567.9 104.8L571.8 107.3L573.1 105.8L569.1 103.3L565.2 100.9L561.2 98.4L557.3 95.9L553.3 93.4L549.4 91L545.4 88.5L541.5 86L537.5 83.5L533.5 81.1L529.6 78.6L525.6 76.1L521.6 73.6L517.7 71.2L513.7 68.7L509.7 66.2z"/><path fill="#7df300" stroke="#7df300" d="M509.7 66.2L513.7 68.7L517.7 71.2L521.6 73.6L525.6 76.1L529.6 78.6L533.5 81.1L537.5 83.5L541.5 86L545.4 88.5L549.4 91L553.3 93.4L557.3 95.9L561.2 98.4L565.2 100.9L569.1 103.3L573.1 105.8L574.3 104.3L570.3 101.8L566.4 99.3L562.4 96.9L558.5 94.4L554.5 91.9L550.5 89.4L546.6 87L542.6 84.5L538.6 82L534.7 79.6L530.7 77.1L526.7 74.6L522.7 72.1L518.7 69.7L514.8 67.2L510.8 64.7z"/><path fill="#5cf000" stroke="#5cf000" d="M510.8 64.7L514.8 67.2L518.7 69.7L522.7 72.1L526.7 74.6L530.7 77.1L534.7 79.6L538.6 82L542.6 84.5L546.6 87L550.5 89.4L554.5 91.9L558.5 94.4L562.4 96.9L566.4 99.3L570.3 101.8L574.3 104.3L575.5 102.7L571.5 100.3L567.6 97.8L563.6 95.3L559.7 92.9L555.7 90.4L551.7 87.9L547.7 85.4L543.8 83L539.8 80.5L535.8 78L531.8 75.6L527.8 73.1L523.8 70.6L519.8 68.1L515.8 65.7L511.9 63.2z"/><path fill="#48f000" stroke="#48f000" d="M511.9 63.2L515.8 65.7L519.8 68.1L523.8 70.6L527.8 73.1L531.8 75.6L535.8 78L539.8 80.5L543.8 83L547.7 85.4L551.7 87.9L555.7 90.4L559.7 92.9L563.6 95.3L567.6 97.8L571.5 100.3L575.5 102.7L576.7 101.2L572.7 98.7L568.8 96.2L564.8 93.8L560.8 91.3L556.8 88.8L552.9 86.3L548.9 83.9L544.9 81.4L540.9 78.9L536.9 76.5L532.9 74L528.9 71.5L524.9 69.1L520.9 66.6L516.9 64.1L512.9 61.7z"/><path fill="#35f000" stroke="#35f000" d="M512.9 61.7L516.9 64.1L520.9 66.6L524.9 69.1L528.9 71.5L532.9 74L536.9 76.5L540.9 78.9L544.9 81.4L548.9 83.9L552.9 86.3L556.8 88.8L560.8 91.3L564.8 93.8L568.8 96.2L572.7 98.7L576.7 101.2L577.9 99.6L573.9 97.1L570 94.6L566 92.2L562 89.7L558 87.2L554 84.7L550 82.3L546 79.8L542 77.3L538 74.9L534 72.4L530 69.9L526 67.5L522 65L518 62.5L514 60.1z"/><path fill="#22f000" stroke="#22f000" d="M514 60.1L518 62.5L522 65L526 67.5L530 69.9L534 72.4L538 74.9L542 77.3L546 79.8L550 82.3L554 84.7L558 87.2L562 89.7L566 92.2L570 94.6L573.9 97.1L577.9 99.6L579.1 97.9L575.1 95.5L571.1 93L567.2 90.5L563.2 88.1L559.2 85.6L555.2 83.1L551.2 80.6L547.2 78.2L543.2 75.7L539.2 73.2L535.1 70.8L531.1 68.3L527.1 65.8L523.1 63.4L519.1 60.9L515.1 58.4z"/><path fill="#11f000" stroke="#11f000" d="M515.1 58.4L519.1 60.9L523.1 63.4L527.1 65.8L531.1 68.3L535.1 70.8L539.2 73.2L543.2 75.7L547.2 78.2L551.2 80.6L555.2 83.1L559.2 85.6L563.2 88.1L567.2 90.5L571.1 93L575.1 95.5L579.1 97.9L580.3 96.3L576.3 93.8L572.3 91.3L568.3 88.9L564.3 86.4L560.3 83.9L556.3 81.5L552.3 79L548.3 76.5L544.3 74.1L540.3 71.6L536.3 69.1L532.2 66.6L528.2 64.2L524.2 61.7L520.2 59.2L516.2 56.8z"/><path fill="#00f001" stroke="#00f001" d="M516.2 56.8L520.2 59.2L524.2 61.7L528.2 64.2L532.2 66.6L536.3 69.1L540.3 71.6L544.3 74.1L548.3 76.5L552.3 79L556.3 81.5L560.3 83.9L564.3 86.4L568.3 88.9L572.3 91.3L576.3 93.8L580.3 96.3L581.5 94.6L577.5 92.1L573.5 89.6L569.5 87.2L565.5 84.7L561.5 82.2L557.5 79.8L553.4 77.3L549.4 74.8L545.4 72.4L541.4 69.9L537.4 67.4L533.3 65L529.3 62.5L525.3 60L521.3 57.6L517.2 55.1z"/><path fill="#00f00d" stroke="#00f00d" d="M517.2 55.1L521.3 57.6L525.3 60L529.3 62.5L533.3 65L537.4 67.4L541.4 69.9L545.4 72.4L549.4 74.8L553.4 77.3L557.5 79.8L561.5 82.2L565.5 84.7L569.5 87.2L573.5 89.6L577.5 92.1L581.5 94.6L582.7 92.9L578.7 90.4L574.7 87.9L570.6 85.5L566.6 83L562.6 80.5L558.6 78L554.6 75.6L550.5 73.1L546.5 70.6L542.5 68.2L538.5 65.7L534.4 63.2L530.4 60.8L526.4 58.3L522.4 55.8L518.3 53.4z"/><path fill="#00f01a" stroke="#00f01a" d="M518.3 53.4L522.4 55.8L526.4 58.3L530.4 60.8L534.4 63.2L538.5 65.7L542.5 68.2L546.5 70.6L550.5 73.1L554.6 75.6L558.6 78L562.6 80.5L566.6 83L570.6 85.5L574.7 87.9L578.7 90.4L582.7 92.9L583.9 91.1L579.8 88.6L575.8 86.2L571.8 83.7L567.8 81.2L563.8 78.8L559.7 76.3L555.7 73.8L551.7 71.4L547.6 68.9L543.6 66.4L539.6 64L535.5 61.5L531.5 59L527.5 56.6L523.4 54.1L519.4 51.6z"/><path fill="#00f033" stroke="#00f033" d="M519.4 51.6L523.4 54.1L527.5 56.6L531.5 59L535.5 61.5L539.6 64L543.6 66.4L547.6 68.9L551.7 71.4L555.7 73.8L559.7 76.3L563.8 78.8L567.8 81.2L571.8 83.7L575.8 86.2L579.8 88.6L583.9 91.1L585 89.3L581 86.8L577 84.4L573 81.9L568.9 79.4L564.9 77L560.9 74.5L556.8 72L552.8 69.6L548.8 67.1L544.7 64.6L540.7 62.2L536.6 59.7L532.6 57.2L528.6 54.8L524.5 52.3L520.5 49.8z"/><path fill="#00f054" stroke="#00f054" d="M520.5 49.8L524.5 52.3L528.6 54.8L532.6 57.2L536.6 59.7L540.7 62.2L544.7 64.6L548.8 67.1L552.8 69.6L556.8 72L560.9 74.5L564.9 77L568.9 79.4L573 81.9L577 84.4L581 86.8L585 89.3L586.2 87.5L582.2 85L578.1 82.6L574.1 80.1L570.1 77.6L566 75.2L562 72.7L558 70.2L553.9 67.8L549.9 65.3L545.8 62.8L541.8 60.4L537.7 57.9L533.7 55.4L529.6 53L525.6 50.5L521.5 48z"/><path fill="#00f170" stroke="#00f170" d="M521.5 48L525.6 50.5L529.6 53L533.7 55.4L537.7 57.9L541.8 60.4L545.8 62.8L549.9 65.3L553.9 67.8L558 70.2L562 72.7L566 75.2L570.1 77.6L574.1 80.1L578.1 82.6L582.2 85L586.2 87.5L587.4 85.7L583.3 83.2L579.3 80.7L575.3 78.2L571.2 75.8L567.2 73.3L563.1 70.8L559.1 68.4L555 65.9L551 63.4L546.9 61L542.9 58.5L538.8 56L534.8 53.6L530.7 51.1L526.7 48.6L522.6 46.2z"/><path fill="#00f285" stroke="#00f285" d="M522.6 46.2L526.7 48.6L530.7 51.1L534.8 53.6L538.8 56L542.9 58.5L546.9 61L551 63.4L555 65.9L559.1 68.4L563.1 70.8L567.2 73.3L571.2 75.8L575.3 78.2L579.3 80.7L583.3 83.2L587.4 85.7L588.5 83.8L584.5 81.3L580.4 78.8L576.4 76.4L572.3 73.9L568.3 71.4L564.3 69L560.2 66.5L556.2 64L552.1 61.6L548 59.1L544 56.6L539.9 54.2L535.9 51.7L531.8 49.2L527.8 46.8L523.7 44.3z"/><path fill="#00f39f" stroke="#00f39f" d="M523.7 44.3L527.8 46.8L531.8 49.2L535.9 51.7L539.9 54.2L544 56.6L548 59.1L552.1 61.6L556.2 64L560.2 66.5L564.3 69L568.3 71.4L572.3 73.9L576.4 76.4L580.4 78.8L584.5 81.3L588.5 83.8L589.7 81.9L585.6 79.4L581.6 76.9L577.5 74.5L573.5 72L569.4 69.5L565.4 67.1L561.3 64.6L557.3 62.1L553.2 59.7L549.2 57.2L545.1 54.7L541 52.2L537 49.8L532.9 47.3L528.8 44.8L524.8 42.4z"/><path fill="#00f6ce" stroke="#00f6ce" d="M524.8 42.4L528.8 44.8L532.9 47.3L537 49.8L541 52.2L545.1 54.7L549.2 57.2L553.2 59.7L557.3 62.1L561.3 64.6L565.4 67.1L569.4 69.5L573.5 72L577.5 74.5L581.6 76.9L585.6 79.4L589.7 81.9L590.8 79.9L586.8 77.5L582.7 75L578.7 72.5L574.6 70.1L570.6 67.6L566.5 65.1L562.4 62.6L558.4 60.2L554.3 57.7L550.3 55.2L546.2 52.8L542.1 50.3L538.1 47.8L534 45.4L529.9 42.9L525.9 40.4z"/><path fill="#00f8f8" stroke="#00f8f8" d="M525.9 40.4L529.9 42.9L534 45.4L538.1 47.8L542.1 50.3L546.2 52.8L550.3 55.2L554.3 57.7L558.4 60.2L562.4 62.6L566.5 65.1L570.6 67.6L574.6 70.1L578.7 72.5L582.7 75L586.8 77.5L590.8 79.9L592 78L587.9 75.5L583.9 73L579.8 70.6L575.8 68.1L571.7 65.6L567.6 63.1L563.6 60.7L559.5 58.2L555.4 55.7L551.4 53.3L547.3 50.8L543.2 48.3L539.1 45.9L535.1 43.4L531 40.9L526.9 38.4z"/><path fill="#00f5fa" stroke="#00f5fa" d="M526.9 38.4L531 40.9L535.1 43.4L539.1 45.9L543.2 48.3L547.3 50.8L551.4 53.3L555.4 55.7L559.5 58.2L563.6 60.7L567.6 63.1L571.7 65.6L575.8 68.1L579.8 70.6L583.9 73L587.9 75.5L592 78L593.1 76L589.1 73.5L585 71L580.9 68.5L576.9 66.1L572.8 63.6L568.7 61.1L564.7 58.7L560.6 56.2L556.5 53.7L552.5 51.3L548.4 48.8L544.3 46.3L540.2 43.8L536.2 41.4L532.1 38.9L528 36.4z"/><path fill="#00f2fc" stroke="#00f2fc" d="M528 36.4L532.1 38.9L536.2 41.4L540.2 43.8L544.3 46.3L548.4 48.8L552.5 51.3L556.5 53.7L560.6 56.2L564.7 58.7L568.7 61.1L572.8 63.6L576.9 66.1L580.9 68.5L585 71L589.1 73.5L593.1 76L594.3 73.9L590.2 71.5L586.1 69L582.1 66.5L578 64L573.9 61.6L569.9 59.1L565.8 56.6L561.7 54.2L557.6 51.7L553.6 49.2L549.5 46.7L545.4 44.3L541.3 41.8L537.2 39.3L533.2 36.9L529.1 34.4z"/><path fill="#00effe" stroke="#00effe" d="M529.1 34.4L533.2 36.9L537.2 39.3L541.3 41.8L545.4 44.3L549.5 46.7L553.6 49.2L557.6 51.7L561.7 54.2L565.8 56.6L569.9 59.1L573.9 61.6L578 64L582.1 66.5L586.1 69L590.2 71.5L594.3 73.9L595.4 71.9L591.4 69.4L587.3 66.9L583.2 64.4L579.1 62L575.1 59.5L571 57L566.9 54.6L562.8 52.1L558.7 49.6L554.7 47.2L550.6 44.7L546.5 42.2L542.4 39.7L538.3 37.3L534.2 34.8L530.2 32.3z"/><path fill="#00ebff" stroke="#00ebff" d="M530.2 32.3L534.2 34.8L538.3 37.3L542.4 39.7L546.5 42.2L550.6 44.7L554.7 47.2L558.7 49.6L562.8 52.1L566.9 54.6L571 57L575.1 59.5L579.1 62L583.2 64.4L587.3 66.9L591.4 69.4L595.4 71.9L596.6 69.8L592.5 67.3L588.4 64.8L584.3 62.4L580.3 59.9L576.2 57.4L572.1 54.9L568 52.5L563.9 50L559.8 47.5L555.8 45L551.7 42.6L547.6 40.1L543.5 37.6L539.4 35.2L535.3 32.7L531.2 30.2z"/><path fill="#02e0fd" stroke="#02e0fd" d="M531.2 30.2L535.3 32.7L539.4 35.2L543.5 37.6L547.6 40.1L551.7 42.6L555.8 45L559.8 47.5L563.9 50L568 52.5L572.1 54.9L576.2 57.4L580.3 59.9L584.3 62.4L588.4 64.8L592.5 67.3L596.6 69.8L597.7 67.6L593.6 65.2L589.5 62.7L585.5 60.2L581.4 57.8L577.3 55.3L573.2 52.8L569.1 50.3L565 47.9L560.9 45.4L556.9 42.9L552.8 40.4L548.7 38L544.6 35.5L540.5 33L536.4 30.5L532.3 28.1z"/><path fill="#05c7fa" stroke="#05c7fa" d="M532.3 28.1L536.4 30.5L540.5 33L544.6 35.5L548.7 38L552.8 40.4L556.9 42.9L560.9 45.4L565 47.9L569.1 50.3L573.2 52.8L577.3 55.3L581.4 57.8L585.5 60.2L589.5 62.7L593.6 65.2L597.7 67.6L598.9 65.5L594.8 63L590.7 60.5L586.6 58.1L582.5 55.6L578.4 53.1L574.3 50.6L570.2 48.2L566.1 45.7L562.1 43.2L558 40.8L553.9 38.3L549.8 35.8L545.6 33.5L541.2 31.6L536.8 29.8L532.4 27.9z"/><path fill="#0c82f4" stroke="#0c82f4" d="M545.6 33.5L549.8 35.8L553.9 38.3L558 40.8L562.1 43.2L566.1 45.7L570.2 48.2L574.3 50.6L578.4 53.1L582.5 55.6L586.6 58.1L590.7 60.5L594.8 63L598.9 65.5L600 63.3L595.9 60.8L591.8 58.4L587.7 55.9L583.6 53.4L579.5 50.9L575.4 48.5L571.3 46L567.2 43.5L563.2 41L558.8 39.1L554.4 37.2L550 35.4L545.6 33.5z"/><path fill="#0e4ef0" stroke="#0e4ef0" d="M558.8 39.1L563.2 41L567.2 43.5L571.3 46L575.4 48.5L579.5 50.9L583.6 53.4L587.7 55.9L591.8 58.4L595.9 60.8L600 63.3L601.1 61.1L597 58.6L592.9 56.1L588.8 53.7L584.7 51.2L580.6 48.7L576.4 46.6L572 44.7L567.6 42.8L563.2 41L558.8 39.1z"/><path fill="#0a36f0" stroke="#0a36f0" d="M576.4 46.6L580.6 48.7L584.7 51.2L588.8 53.7L592.9 56.1L597 58.6L601.1 61.1L602.3 58.8L598.2 56.4L594 54.1L589.6 52.2L585.2 50.3L580.8 48.4L576.4 46.6z"/><path fill="#051df0" stroke="#051df0" d="M594 54.1L598.2 56.4L602.3 58.8L602.8 57.8L598.4 55.9L594 54.1z"/><path fill="#ff0b00" stroke="#ff0b00" d="M465.5 100L469.8 102L469.8 102L464.4 100.1z"/><path fill="#ff0c00" stroke="#ff0c00" d="M464.4 100.1L469.8 102L469.8 102L463.3 100.3z"/><path fill="#ff0c00" stroke="#ff0c00" d="M463.3 100.3L469.8 102L469.8 102L462.3 100.3z"/><path fill="#ff0d00" stroke="#ff0d00" d="M462.3 100.3L469.8 102L469.8 102L461.2 100.4z"/><path fill="#ff0e00" stroke="#ff0e00" d="M461.2 100.4L469.8 102L469.8 102L460.1 100.4z"/><path fill="#ff1000" stroke="#ff1000" d="M460.1 100.4L469.8 102L474.1 104L474.1 104L466.3 102.4L459 100.4z"/><path fill="#ff1200" stroke="#ff1200" d="M459 100.4L466.3 102.4L474.1 104L474.1 104L464.6 102.4L457.9 100.4z"/><path fill="#ff1400" stroke="#ff1400" d="M457.9 100.4L464.6 102.4L474.1 104L478.5 106L478.5 106L470.2 104.4L463.1 102.4L456.9 100.3z"/><path fill="#ff1600" stroke="#ff1600" d="M456.9 100.3L463.1 102.4L470.2 104.4L478.5 106L482.8 108L482.8 108L476 106.3L468.2 104.5L461.8 102.4L455.8 100.2z"/><path fill="#ff1900" stroke="#ff1900" d="M455.8 100.2L461.8 102.4L468.2 104.5L476 106.3L482.8 108L482.8 108L473.2 106.5L466.6 104.4L460.5 102.3L454.7 100.1z"/><path fill="#ff1c00" stroke="#ff1c00" d="M454.7 100.1L460.5 102.3L466.6 104.4L473.2 106.5L482.8 108L487.1 110.1L487.1 110.1L478 108.5L471.2 106.4L465.1 104.3L459.3 102.1L453.6 99.9z"/><path fill="#ff2000" stroke="#ff2000" d="M453.6 99.9L459.3 102.1L465.1 104.3L471.2 106.4L478 108.5L487.1 110.1L491.4 112.1L491.4 112.1L482.6 110.5L475.7 108.5L469.6 106.3L463.7 104.2L458.1 101.9L452.6 99.7z"/><path fill="#ff2300" stroke="#ff2300" d="M452.6 99.7L458.1 101.9L463.7 104.2L469.6 106.3L475.7 108.5L482.6 110.5L491.4 112.1L495.8 114.1L495.8 114.1L487 112.5L480.1 110.5L473.9 108.4L468.1 106.2L462.4 104L456.9 101.7L451.5 99.5z"/><path fill="#ff2a00" stroke="#ff2a00" d="M451.5 99.5L456.9 101.7L462.4 104L468.1 106.2L473.9 108.4L480.1 110.5L487 112.5L495.8 114.1L500.1 116.1L500.1 116.1L491.1 114.5L484.3 112.5L478.1 110.4L472.3 108.2L466.7 106L461.2 103.7L455.7 101.5L450.4 99.2z"/><path fill="#ff3200" stroke="#ff3200" d="M450.4 99.2L455.7 101.5L461.2 103.7L466.7 106L472.3 108.2L478.1 110.4L484.3 112.5L491.1 114.5L500.1 116.1L504.4 118.1L504.4 118.1L495 116.6L488.3 114.5L482.2 112.4L476.4 110.2L470.8 108L465.3 105.7L459.9 103.5L454.6 101.2L449.3 98.9z"/><path fill="#ff3b00" stroke="#ff3b00" d="M449.3 98.9L454.6 101.2L459.9 103.5L465.3 105.7L470.8 108L476.4 110.2L482.2 112.4L488.3 114.5L495 116.6L504.4 118.1L508.8 120.1L513.1 122.2L513.1 122.2L506.8 120.4L498.7 118.6L492.2 116.5L486.2 114.4L480.5 112.2L474.9 109.9L469.4 107.7L464 105.4L458.7 103.2L453.5 100.9L448.3 98.6z"/><path fill="#ff4400" stroke="#ff4400" d="M448.3 98.6L453.5 100.9L458.7 103.2L464 105.4L469.4 107.7L474.9 109.9L480.5 112.2L486.2 114.4L492.2 116.5L498.7 118.6L506.8 120.4L513.1 122.2L517.4 124.2L517.4 124.2L509.5 122.6L502.3 120.6L496 118.5L490.1 116.3L484.4 114.1L478.8 111.9L473.4 109.6L468 107.4L462.8 105.1L457.5 102.8L452.3 100.5L447.2 98.2z"/><path fill="#ff4e00" stroke="#ff4e00" d="M447.2 98.2L452.3 100.5L457.5 102.8L462.8 105.1L468 107.4L473.4 109.6L478.8 111.9L484.4 114.1L490.1 116.3L496 118.5L502.3 120.6L509.5 122.6L517.4 124.2L521.7 126.2L521.7 126.2L512.5 124.6L505.8 122.6L499.7 120.5L493.9 118.3L488.2 116.1L482.7 113.8L477.3 111.6L472 109.3L466.7 107L461.5 104.7L456.3 102.5L451.2 100.2L446.1 97.9z"/><path fill="#ff5800" stroke="#ff5800" d="M446.1 97.9L451.2 100.2L456.3 102.5L461.5 104.7L466.7 107L472 109.3L477.3 111.6L482.7 113.8L488.2 116.1L493.9 118.3L499.7 120.5L505.8 122.6L512.5 124.6L521.7 126.2L526.1 128.2L530.4 130.2L530.4 130.2L523.2 128.6L515.6 126.7L509.2 124.6L503.3 122.4L497.6 120.2L492 118L486.6 115.7L481.2 113.5L475.9 111.2L470.6 108.9L465.5 106.6L460.3 104.4L455.2 102.1L450.1 99.7L445 97.4z"/><path fill="#ff6300" stroke="#ff6300" d="M445 97.4L450.1 99.7L455.2 102.1L460.3 104.4L465.5 106.6L470.6 108.9L475.9 111.2L481.2 113.5L486.6 115.7L492 118L497.6 120.2L503.3 122.4L509.2 124.6L515.6 126.7L523.2 128.6L530.4 130.2L534.7 132.2L534.7 132.2L525.5 130.7L518.8 128.6L512.7 126.5L506.8 124.3L501.2 122.1L495.7 119.9L490.3 117.6L485 115.4L479.7 113.1L474.5 110.8L469.3 108.5L464.2 106.2L459.1 103.9L454 101.6L449 99.3L444 97z"/><path fill="#ff6e00" stroke="#ff6e00" d="M444 97L449 99.3L454 101.6L459.1 103.9L464.2 106.2L469.3 108.5L474.5 110.8L479.7 113.1L485 115.4L490.3 117.6L495.7 119.9L501.2 122.1L506.8 124.3L512.7 126.5L518.8 128.6L525.5 130.7L534.7 132.2L528.2 132.7L521.9 130.6L516 128.4L510.3 126.2L504.8 124L499.4 121.7L494 119.5L488.7 117.2L483.5 114.9L478.3 112.7L473.2 110.4L468 108.1L463 105.8L457.9 103.5L452.9 101.1L447.9 98.8L442.9 96.5z"/><path fill="#ff7a00" stroke="#ff7a00" d="M442.9 96.5L447.9 98.8L452.9 101.1L457.9 103.5L463 105.8L468 108.1L473.2 110.4L478.3 112.7L483.5 114.9L488.7 117.2L494 119.5L499.4 121.7L504.8 124L510.3 126.2L516 128.4L521.9 130.6L528.2 132.7L525.1 132.5L519.4 130.3L513.8 128.1L508.4 125.9L503 123.6L497.7 121.3L492.4 119.1L487.2 116.8L482.1 114.5L476.9 112.2L471.9 109.9L466.8 107.6L461.8 105.3L456.7 103L451.7 100.6L446.8 98.3L441.8 96z"/><path fill="#ff8700" stroke="#ff8700" d="M441.8 96L446.8 98.3L451.7 100.6L456.7 103L461.8 105.3L466.8 107.6L471.9 109.9L476.9 112.2L482.1 114.5L487.2 116.8L492.4 119.1L497.7 121.3L503 123.6L508.4 125.9L513.8 128.1L519.4 130.3L525.1 132.5L522.7 132.2L517.3 129.9L511.9 127.7L506.5 125.4L501.3 123.2L496.1 120.9L490.9 118.6L485.8 116.3L480.7 114L475.6 111.7L470.6 109.4L465.5 107.1L460.5 104.7L455.6 102.4L450.6 100.1L445.7 97.8L440.7 95.4z"/><path fill="#ff9500" stroke="#ff9500" d="M440.7 95.4L445.7 97.8L450.6 100.1L455.6 102.4L460.5 104.7L465.5 107.1L470.6 109.4L475.6 111.7L480.7 114L485.8 116.3L490.9 118.6L496.1 120.9L501.3 123.2L506.5 125.4L511.9 127.7L517.3 129.9L522.7 132.2L520.7 131.8L515.3 129.5L510.1 127.2L504.9 124.9L499.7 122.7L494.5 120.4L489.4 118.1L484.4 115.8L479.3 113.5L474.3 111.1L469.3 108.8L464.3 106.5L459.4 104.2L454.4 101.9L449.5 99.5L444.6 97.2L439.7 94.9z"/><path fill="#ffa300" stroke="#ffa300" d="M439.7 94.9L444.6 97.2L449.5 99.5L454.4 101.9L459.4 104.2L464.3 106.5L469.3 108.8L474.3 111.1L479.3 113.5L484.4 115.8L489.4 118.1L494.5 120.4L499.7 122.7L504.9 124.9L510.1 127.2L515.3 129.5L520.7 131.8L518.8 131.3L513.6 129L508.4 126.7L503.3 124.4L498.2 122.1L493.1 119.8L488 117.5L483 115.2L478 112.9L473 110.6L468.1 108.2L463.1 105.9L458.2 103.6L453.3 101.3L448.4 98.9L443.5 96.6L438.6 94.3z"/><path fill="#ffb200" stroke="#ffb200" d="M438.6 94.3L443.5 96.6L448.4 98.9L453.3 101.3L458.2 103.6L463.1 105.9L468.1 108.2L473 110.6L478 112.9L483 115.2L488 117.5L493.1 119.8L498.2 122.1L503.3 124.4L508.4 126.7L513.6 129L518.8 131.3L517 130.7L511.9 128.5L506.8 126.2L501.7 123.9L496.7 121.5L491.7 119.2L486.7 116.9L481.7 114.6L476.7 112.3L471.8 110L466.8 107.6L461.9 105.3L457 103L452.1 100.6L447.2 98.3L442.4 96L437.5 93.6z"/><path fill="#ffc200" stroke="#ffc200" d="M437.5 93.6L442.4 96L447.2 98.3L452.1 100.6L457 103L461.9 105.3L466.8 107.6L471.8 110L476.7 112.3L481.7 114.6L486.7 116.9L491.7 119.2L496.7 121.5L501.7 123.9L506.8 126.2L511.9 128.5L517 130.7L515.4 130.2L510.3 127.9L505.3 125.6L500.3 123.2L495.3 120.9L490.3 118.6L485.3 116.3L480.4 114L475.4 111.6L470.5 109.3L465.6 107L460.7 104.6L455.9 102.3L451 100L446.1 97.6L441.3 95.3L436.4 92.9z"/><path fill="#ffd300" stroke="#ffd300" d="M436.4 92.9L441.3 95.3L446.1 97.6L451 100L455.9 102.3L460.7 104.6L465.6 107L470.5 109.3L475.4 111.6L480.4 114L485.3 116.3L490.3 118.6L495.3 120.9L500.3 123.2L505.3 125.6L510.3 127.9L515.4 130.2L513.8 129.5L508.8 127.2L503.8 124.9L498.8 122.6L493.9 120.3L488.9 117.9L484 115.6L479.1 113.3L474.2 111L469.3 108.6L464.4 106.3L459.6 104L454.7 101.6L449.9 99.3L445 96.9L440.2 94.6L435.4 92.2z"/><path fill="#ffe400" stroke="#ffe400" d="M435.4 92.2L440.2 94.6L445 96.9L449.9 99.3L454.7 101.6L459.6 104L464.4 106.3L469.3 108.6L474.2 111L479.1 113.3L484 115.6L488.9 117.9L493.9 120.3L498.8 122.6L503.8 124.9L508.8 127.2L513.8 129.5L512.3 128.9L507.3 126.5L502.4 124.2L497.4 121.9L492.5 119.6L487.6 117.2L482.7 114.9L477.8 112.6L473 110.2L468.1 107.9L463.2 105.6L458.4 103.2L453.6 100.9L448.7 98.5L443.9 96.2L439.1 93.9L434.3 91.5z"/><path fill="#fff300" stroke="#fff300" d="M434.3 91.5L439.1 93.9L443.9 96.2L448.7 98.5L453.6 100.9L458.4 103.2L463.2 105.6L468.1 107.9L473 110.2L477.8 112.6L482.7 114.9L487.6 117.2L492.5 119.6L497.4 121.9L502.4 124.2L507.3 126.5L512.3 128.9L510.8 128.2L505.9 125.8L501 123.5L496.1 121.2L491.2 118.8L486.3 116.5L481.4 114.2L476.6 111.8L471.7 109.5L466.9 107.2L462.1 104.8L457.2 102.5L452.4 100.1L447.6 97.8L442.8 95.4L438 93.1L433.2 90.7z"/><path fill="#fff500" stroke="#fff500" d="M433.2 90.7L438 93.1L442.8 95.4L447.6 97.8L452.4 100.1L457.2 102.5L462.1 104.8L466.9 107.2L471.7 109.5L476.6 111.8L481.4 114.2L486.3 116.5L491.2 118.8L496.1 121.2L501 123.5L505.9 125.8L510.8 128.2L509.4 127.4L504.5 125.1L499.6 122.8L494.8 120.4L489.9 118.1L485 115.7L480.2 113.4L475.3 111.1L470.5 108.7L465.7 106.4L460.9 104L456.1 101.7L451.3 99.3L446.5 97L441.7 94.6L436.9 92.3L432.1 89.9z"/><path fill="#fff800" stroke="#fff800" d="M432.1 89.9L436.9 92.3L441.7 94.6L446.5 97L451.3 99.3L456.1 101.7L460.9 104L465.7 106.4L470.5 108.7L475.3 111.1L480.2 113.4L485 115.7L489.9 118.1L494.8 120.4L499.6 122.8L504.5 125.1L509.4 127.4L508 126.6L503.2 124.3L498.3 122L493.4 119.6L488.6 117.3L483.8 114.9L478.9 112.6L474.1 110.3L469.3 107.9L464.5 105.6L459.7 103.2L454.9 100.9L450.1 98.5L445.4 96.2L440.6 93.8L435.8 91.5L431.1 89.1z"/><path fill="#fffb00" stroke="#fffb00" d="M431.1 89.1L435.8 91.5L440.6 93.8L445.4 96.2L450.1 98.5L454.9 100.9L459.7 103.2L464.5 105.6L469.3 107.9L474.1 110.3L478.9 112.6L483.8 114.9L488.6 117.3L493.4 119.6L498.3 122L503.2 124.3L508 126.6L506.7 125.8L501.8 123.5L497 121.1L492.2 118.8L487.3 116.4L482.5 114.1L477.7 111.8L472.9 109.4L468.1 107.1L463.3 104.7L458.6 102.4L453.8 100L449 97.7L444.2 95.3L439.5 93L434.7 90.6L430 88.2z"/><path fill="#fffc00" stroke="#fffc00" d="M430 88.2L434.7 90.6L439.5 93L444.2 95.3L449 97.7L453.8 100L458.6 102.4L463.3 104.7L468.1 107.1L472.9 109.4L477.7 111.8L482.5 114.1L487.3 116.4L492.2 118.8L497 121.1L501.8 123.5L506.7 125.8L505.3 125L500.5 122.6L495.7 120.3L490.9 117.9L486.1 115.6L481.3 113.2L476.5 110.9L471.7 108.5L466.9 106.2L462.2 103.8L457.4 101.5L452.6 99.1L447.9 96.8L443.1 94.4L438.4 92.1L433.7 89.7L428.9 87.3z"/><path fill="#fffd00" stroke="#fffd00" d="M428.9 87.3L433.7 89.7L438.4 92.1L443.1 94.4L447.9 96.8L452.6 99.1L457.4 101.5L462.2 103.8L466.9 106.2L471.7 108.5L476.5 110.9L481.3 113.2L486.1 115.6L490.9 117.9L495.7 120.3L500.5 122.6L505.3 125L504 124.1L499.2 121.7L494.4 119.4L489.6 117L484.8 114.7L480.1 112.3L475.3 110L470.5 107.6L465.8 105.3L461 102.9L456.3 100.6L451.5 98.2L446.8 95.9L442 93.5L437.3 91.1L432.6 88.8L427.8 86.4z"/><path fill="#fffe00" stroke="#fffe00" d="M427.8 86.4L432.6 88.8L437.3 91.1L442 93.5L446.8 95.9L451.5 98.2L456.3 100.6L461 102.9L465.8 105.3L470.5 107.6L475.3 110L480.1 112.3L484.8 114.7L489.6 117L494.4 119.4L499.2 121.7L504 124.1L502.7 123.1L497.9 120.8L493.1 118.4L488.4 116.1L483.6 113.7L478.8 111.4L474.1 109L469.3 106.7L464.6 104.3L459.9 102L455.1 99.6L450.4 97.3L445.6 94.9L440.9 92.5L436.2 90.2L431.5 87.8L426.8 85.5z"/><path fill="#fcff00" stroke="#fcff00" d="M426.8 85.5L431.5 87.8L436.2 90.2L440.9 92.5L445.6 94.9L450.4 97.3L455.1 99.6L459.9 102L464.6 104.3L469.3 106.7L474.1 109L478.8 111.4L483.6 113.7L488.4 116.1L493.1 118.4L497.9 120.8L502.7 123.1L501.4 122.2L496.7 119.8L491.9 117.5L487.1 115.1L482.4 112.8L477.6 110.4L472.9 108.1L468.2 105.7L463.4 103.3L458.7 101L454 98.6L449.3 96.3L444.5 93.9L439.8 91.6L435.1 89.2L430.4 86.8L425.7 84.5z"/><path fill="#ebfd00" stroke="#ebfd00" d="M425.7 84.5L430.4 86.8L435.1 89.2L439.8 91.6L444.5 93.9L449.3 96.3L454 98.6L458.7 101L463.4 103.3L468.2 105.7L472.9 108.1L477.6 110.4L482.4 112.8L487.1 115.1L491.9 117.5L496.7 119.8L501.4 122.2L500.2 121.2L495.4 118.8L490.7 116.5L485.9 114.1L481.2 111.8L476.4 109.4L471.7 107L467 104.7L462.3 102.3L457.6 100L452.8 97.6L448.1 95.3L443.4 92.9L438.7 90.5L434 88.2L429.3 85.8L424.6 83.5z"/><path fill="#d9fc00" stroke="#d9fc00" d="M424.6 83.5L429.3 85.8L434 88.2L438.7 90.5L443.4 92.9L448.1 95.3L452.8 97.6L457.6 100L462.3 102.3L467 104.7L471.7 107L476.4 109.4L481.2 111.8L485.9 114.1L490.7 116.5L495.4 118.8L500.2 121.2L498.9 120.1L494.2 117.8L489.4 115.4L484.7 113.1L480 110.7L475.3 108.4L470.5 106L465.8 103.6L461.1 101.3L456.4 98.9L451.7 96.6L447 94.2L442.3 91.8L437.6 89.5L432.9 87.1L428.2 84.8L423.6 82.4z"/><path fill="#c5fa00" stroke="#c5fa00" d="M423.6 82.4L428.2 84.8L432.9 87.1L437.6 89.5L442.3 91.8L447 94.2L451.7 96.6L456.4 98.9L461.1 101.3L465.8 103.6L470.5 106L475.3 108.4L480 110.7L484.7 113.1L489.4 115.4L494.2 117.8L498.9 120.1L497.7 119.1L492.9 116.7L488.2 114.4L483.5 112L478.8 109.6L474.1 107.3L469.4 104.9L464.7 102.6L460 100.2L455.3 97.9L450.6 95.5L445.9 93.1L441.2 90.8L436.5 88.4L431.8 86L427.2 83.7L422.5 81.3z"/><path fill="#a1f600" stroke="#a1f600" d="M422.5 81.3L427.2 83.7L431.8 86L436.5 88.4L441.2 90.8L445.9 93.1L450.6 95.5L455.3 97.9L460 100.2L464.7 102.6L469.4 104.9L474.1 107.3L478.8 109.6L483.5 112L488.2 114.4L492.9 116.7L497.7 119.1L496.4 118L491.7 115.6L487 113.3L482.3 110.9L477.6 108.5L472.9 106.2L468.2 103.8L463.5 101.5L458.8 99.1L454.1 96.7L449.5 94.4L444.8 92L440.1 89.7L435.4 87.3L430.7 84.9L426.1 82.6L421.4 80.2z"/><path fill="#7df300" stroke="#7df300" d="M421.4 80.2L426.1 82.6L430.7 84.9L435.4 87.3L440.1 89.7L444.8 92L449.5 94.4L454.1 96.7L458.8 99.1L463.5 101.5L468.2 103.8L472.9 106.2L477.6 108.5L482.3 110.9L487 113.3L491.7 115.6L496.4 118L495.2 116.8L490.5 114.5L485.8 112.1L481.1 109.8L476.4 107.4L471.7 105L467 102.7L462.4 100.3L457.7 98L453 95.6L448.3 93.2L443.7 90.9L439 88.5L434.3 86.1L429.7 83.8L425 81.4L420.3 79.1z"/><path fill="#5cf000" stroke="#5cf000" d="M420.3 79.1L425 81.4L429.7 83.8L434.3 86.1L439 88.5L443.7 90.9L448.3 93.2L453 95.6L457.7 98L462.4 100.3L467 102.7L471.7 105L476.4 107.4L481.1 109.8L485.8 112.1L490.5 114.5L495.2 116.8L494 115.7L489.3 113.3L484.6 111L479.9 108.6L475.2 106.2L470.6 103.9L465.9 101.5L461.2 99.2L456.5 96.8L451.9 94.4L447.2 92.1L442.5 89.7L437.9 87.3L433.2 85L428.6 82.6L423.9 80.2L419.3 77.9z"/><path fill="#48f000" stroke="#48f000" d="M419.3 77.9L423.9 80.2L428.6 82.6L433.2 85L437.9 87.3L442.5 89.7L447.2 92.1L451.9 94.4L456.5 96.8L461.2 99.2L465.9 101.5L470.6 103.9L475.2 106.2L479.9 108.6L484.6 111L489.3 113.3L494 115.7L492.8 114.5L488.1 112.1L483.4 109.8L478.7 107.4L474.1 105L469.4 102.7L464.7 100.3L460.1 97.9L455.4 95.6L450.8 93.2L446.1 90.9L441.4 88.5L436.8 86.1L432.1 83.8L427.5 81.4L422.8 79L418.2 76.7z"/><path fill="#35f000" stroke="#35f000" d="M418.2 76.7L422.8 79L427.5 81.4L432.1 83.8L436.8 86.1L441.4 88.5L446.1 90.9L450.8 93.2L455.4 95.6L460.1 97.9L464.7 100.3L469.4 102.7L474.1 105L478.7 107.4L483.4 109.8L488.1 112.1L492.8 114.5L491.6 113.2L486.9 110.9L482.2 108.5L477.6 106.2L472.9 103.8L468.2 101.4L463.6 99.1L458.9 96.7L454.3 94.3L449.6 92L445 89.6L440.3 87.2L435.7 84.9L431 82.5L426.4 80.2L421.8 77.8L417.1 75.4z"/><path fill="#22f000" stroke="#22f000" d="M417.1 75.4L421.8 77.8L426.4 80.2L431 82.5L435.7 84.9L440.3 87.2L445 89.6L449.6 92L454.3 94.3L458.9 96.7L463.6 99.1L468.2 101.4L472.9 103.8L477.6 106.2L482.2 108.5L486.9 110.9L491.6 113.2L490.4 112L485.7 109.6L481.1 107.2L476.4 104.9L471.7 102.5L467.1 100.2L462.4 97.8L457.8 95.4L453.2 93.1L448.5 90.7L443.9 88.3L439.2 86L434.6 83.6L430 81.2L425.3 78.9L420.7 76.5L416.1 74.2z"/><path fill="#11f000" stroke="#11f000" d="M416.1 74.2L420.7 76.5L425.3 78.9L430 81.2L434.6 83.6L439.2 86L443.9 88.3L448.5 90.7L453.2 93.1L457.8 95.4L462.4 97.8L467.1 100.2L471.7 102.5L476.4 104.9L481.1 107.2L485.7 109.6L490.4 112L489.2 110.7L484.5 108.3L479.9 105.9L475.2 103.6L470.6 101.2L465.9 98.9L461.3 96.5L456.7 94.1L452 91.8L447.4 89.4L442.8 87L438.1 84.7L433.5 82.3L428.9 79.9L424.2 77.6L419.6 75.2L415 72.8z"/><path fill="#00f001" stroke="#00f001" d="M415 72.8L419.6 75.2L424.2 77.6L428.9 79.9L433.5 82.3L438.1 84.7L442.8 87L447.4 89.4L452 91.8L456.7 94.1L461.3 96.5L465.9 98.9L470.6 101.2L475.2 103.6L479.9 105.9L484.5 108.3L489.2 110.7L488 109.3L483.4 107L478.7 104.6L474.1 102.2L469.4 99.9L464.8 97.5L460.2 95.2L455.5 92.8L450.9 90.4L446.3 88.1L441.6 85.7L437 83.3L432.4 81L427.8 78.6L423.2 76.2L418.5 73.9L413.9 71.5z"/><path fill="#00f00d" stroke="#00f00d" d="M413.9 71.5L418.5 73.9L423.2 76.2L427.8 78.6L432.4 81L437 83.3L441.6 85.7L446.3 88.1L450.9 90.4L455.5 92.8L460.2 95.2L464.8 97.5L469.4 99.9L474.1 102.2L478.7 104.6L483.4 107L488 109.3L486.8 108L482.2 105.6L477.6 103.2L472.9 100.9L468.3 98.5L463.7 96.2L459 93.8L454.4 91.4L449.8 89.1L445.2 86.7L440.5 84.3L435.9 82L431.3 79.6L426.7 77.2L422.1 74.9L417.5 72.5L412.8 70.1z"/><path fill="#00f01a" stroke="#00f01a" d="M412.8 70.1L417.5 72.5L422.1 74.9L426.7 77.2L431.3 79.6L435.9 82L440.5 84.3L445.2 86.7L449.8 89.1L454.4 91.4L459 93.8L463.7 96.2L468.3 98.5L472.9 100.9L477.6 103.2L482.2 105.6L486.8 108L485.6 106.6L481 104.2L476.4 101.8L471.8 99.5L467.1 97.1L462.5 94.8L457.9 92.4L453.3 90L448.7 87.7L444.1 85.3L439.4 82.9L434.8 80.6L430.2 78.2L425.6 75.8L421 73.5L416.4 71.1L411.8 68.7z"/><path fill="#00f033" stroke="#00f033" d="M411.8 68.7L416.4 71.1L421 73.5L425.6 75.8L430.2 78.2L434.8 80.6L439.4 82.9L444.1 85.3L448.7 87.7L453.3 90L457.9 92.4L462.5 94.8L467.1 97.1L471.8 99.5L476.4 101.8L481 104.2L485.6 106.6L484.5 105.1L479.9 102.8L475.2 100.4L470.6 98L466 95.7L461.4 93.3L456.8 91L452.2 88.6L447.6 86.2L442.9 83.9L438.3 81.5L433.7 79.1L429.1 76.8L424.5 74.4L419.9 72L415.3 69.7L410.7 67.3z"/><path fill="#00f054" stroke="#00f054" d="M410.7 67.3L415.3 69.7L419.9 72L424.5 74.4L429.1 76.8L433.7 79.1L438.3 81.5L442.9 83.9L447.6 86.2L452.2 88.6L456.8 91L461.4 93.3L466 95.7L470.6 98L475.2 100.4L479.9 102.8L484.5 105.1L483.3 103.7L478.7 101.3L474.1 98.9L469.5 96.6L464.9 94.2L460.3 91.9L455.6 89.5L451 87.1L446.4 84.8L441.8 82.4L437.2 80L432.6 77.7L428 75.3L423.4 72.9L418.8 70.6L414.2 68.2L409.6 65.8z"/><path fill="#00f170" stroke="#00f170" d="M409.6 65.8L414.2 68.2L418.8 70.6L423.4 72.9L428 75.3L432.6 77.7L437.2 80L441.8 82.4L446.4 84.8L451 87.1L455.6 89.5L460.3 91.9L464.9 94.2L469.5 96.6L474.1 98.9L478.7 101.3L483.3 103.7L482.2 102.2L477.5 99.8L472.9 97.4L468.3 95.1L463.7 92.7L459.1 90.4L454.5 88L449.9 85.6L445.3 83.3L440.7 80.9L436.1 78.5L431.5 76.2L426.9 73.8L422.3 71.4L417.8 69.1L413.2 66.7L408.6 64.4z"/><path fill="#00f285" stroke="#00f285" d="M408.6 64.4L413.2 66.7L417.8 69.1L422.3 71.4L426.9 73.8L431.5 76.2L436.1 78.5L440.7 80.9L445.3 83.3L449.9 85.6L454.5 88L459.1 90.4L463.7 92.7L468.3 95.1L472.9 97.4L477.5 99.8L482.2 102.2L481 100.6L476.4 98.3L471.8 95.9L467.2 93.5L462.6 91.2L458 88.8L453.4 86.5L448.8 84.1L444.2 81.7L439.6 79.4L435 77L430.4 74.6L425.8 72.3L421.3 69.9L416.7 67.6L412.1 65.2L407.5 62.8z"/><path fill="#00f39f" stroke="#00f39f" d="M407.5 62.8L412.1 65.2L416.7 67.6L421.3 69.9L425.8 72.3L430.4 74.6L435 77L439.6 79.4L444.2 81.7L448.8 84.1L453.4 86.5L458 88.8L462.6 91.2L467.2 93.5L471.8 95.9L476.4 98.3L481 100.6L479.8 99.1L475.2 96.7L470.7 94.3L466.1 92L461.5 89.6L456.9 87.3L452.3 84.9L447.7 82.5L443.1 80.2L438.5 77.8L433.9 75.4L429.3 73.1L424.8 70.7L420.2 68.4L415.6 66L411 63.6L406.4 61.3z"/><path fill="#00f6ce" stroke="#00f6ce" d="M406.4 61.3L411 63.6L415.6 66L420.2 68.4L424.8 70.7L429.3 73.1L433.9 75.4L438.5 77.8L443.1 80.2L447.7 82.5L452.3 84.9L456.9 87.3L461.5 89.6L466.1 92L470.7 94.3L475.2 96.7L479.8 99.1L478.7 97.5L474.1 95.1L469.5 92.7L464.9 90.4L460.3 88L455.8 85.7L451.2 83.3L446.6 80.9L442 78.6L437.4 76.2L432.8 73.9L428.3 71.5L423.7 69.1L419.1 66.8L414.5 64.4L409.9 62L405.4 59.7z"/><path fill="#00f8f8" stroke="#00f8f8" d="M405.4 59.7L409.9 62L414.5 64.4L419.1 66.8L423.7 69.1L428.3 71.5L432.8 73.9L437.4 76.2L442 78.6L446.6 80.9L451.2 83.3L455.8 85.7L460.3 88L464.9 90.4L469.5 92.7L474.1 95.1L478.7 97.5L477.5 95.8L473 93.5L468.4 91.1L463.8 88.8L459.2 86.4L454.6 84L450.1 81.7L445.5 79.3L440.9 77L436.3 74.6L431.7 72.2L427.2 69.9L422.6 67.5L418 65.1L413.4 62.8L408.9 60.4L404.3 58.1z"/><path fill="#00f5fa" stroke="#00f5fa" d="M404.3 58.1L408.9 60.4L413.4 62.8L418 65.1L422.6 67.5L427.2 69.9L431.7 72.2L436.3 74.6L440.9 77L445.5 79.3L450.1 81.7L454.6 84L459.2 86.4L463.8 88.8L468.4 91.1L473 93.5L477.5 95.8L476.4 94.2L471.8 91.8L467.2 89.5L462.7 87.1L458.1 84.7L453.5 82.4L448.9 80L444.4 77.7L439.8 75.3L435.2 72.9L430.6 70.6L426.1 68.2L421.5 65.9L416.9 63.5L412.4 61.1L407.8 58.8L403.2 56.4z"/><path fill="#00f2fc" stroke="#00f2fc" d="M403.2 56.4L407.8 58.8L412.4 61.1L416.9 63.5L421.5 65.9L426.1 68.2L430.6 70.6L435.2 72.9L439.8 75.3L444.4 77.7L448.9 80L453.5 82.4L458.1 84.7L462.7 87.1L467.2 89.5L471.8 91.8L476.4 94.2L475.3 92.5L470.7 90.1L466.1 87.8L461.5 85.4L457 83L452.4 80.7L447.8 78.3L443.3 76L438.7 73.6L434.1 71.2L429.6 68.9L425 66.5L420.4 64.2L415.9 61.8L411.3 59.4L406.7 57.1L402.2 54.7z"/><path fill="#00effe" stroke="#00effe" d="M402.2 54.7L406.7 57.1L411.3 59.4L415.9 61.8L420.4 64.2L425 66.5L429.6 68.9L434.1 71.2L438.7 73.6L443.3 76L447.8 78.3L452.4 80.7L457 83L461.5 85.4L466.1 87.8L470.7 90.1L475.3 92.5L474.1 90.7L469.6 88.4L465 86L460.4 83.7L455.8 81.3L451.3 79L446.7 76.6L442.1 74.2L437.6 71.9L433 69.5L428.5 67.2L423.9 64.8L419.3 62.4L414.8 60.1L410.2 57.7L405.7 55.4L401.1 53z"/><path fill="#00ebff" stroke="#00ebff" d="M401.1 53L405.7 55.4L410.2 57.7L414.8 60.1L419.3 62.4L423.9 64.8L428.5 67.2L433 69.5L437.6 71.9L442.1 74.2L446.7 76.6L451.3 79L455.8 81.3L460.4 83.7L465 86L469.6 88.4L474.1 90.7L473 89L468.4 86.6L463.9 84.3L459.3 81.9L454.7 79.6L450.2 77.2L445.6 74.8L441 72.5L436.5 70.1L431.9 67.8L427.4 65.4L422.8 63.1L418.3 60.7L413.7 58.3L409.1 56L404.6 53.6L400 51.3z"/><path fill="#02e0fd" stroke="#02e0fd" d="M400 51.3L404.6 53.6L409.1 56L413.7 58.3L418.3 60.7L422.8 63.1L427.4 65.4L431.9 67.8L436.5 70.1L441 72.5L445.6 74.8L450.2 77.2L454.7 79.6L459.3 81.9L463.9 84.3L468.4 86.6L473 89L471.9 87.2L467.3 84.8L462.7 82.5L458.2 80.1L453.6 77.8L449.1 75.4L444.5 73.1L439.9 70.7L435.4 68.3L430.8 66L426.3 63.6L421.7 61.3L417.2 58.9L412.6 56.6L408.1 54.2L403.5 51.8L399 49.5z"/><path fill="#05c7fa" stroke="#05c7fa" d="M399 49.5L403.5 51.8L408.1 54.2L412.6 56.6L417.2 58.9L421.7 61.3L426.3 63.6L430.8 66L435.4 68.3L439.9 70.7L444.5 73.1L449.1 75.4L453.6 77.8L458.2 80.1L462.7 82.5L467.3 84.8L471.9 87.2L470.7 85.4L466.2 83L461.6 80.6L457.1 78.3L452.5 75.9L447.9 73.6L443.4 71.2L438.8 68.9L434.3 66.5L429.7 64.2L425.2 61.8L420.6 59.5L416.1 57.1L411.5 54.7L407 52.4L402.4 50L398 47.8z"/><path fill="#0c82f4" stroke="#0c82f4" d="M398 47.8L402.4 50L407 52.4L411.5 54.7L416.1 57.1L420.6 59.5L425.2 61.8L429.7 64.2L434.3 66.5L438.8 68.9L443.4 71.2L447.9 73.6L452.5 75.9L457.1 78.3L461.6 80.6L466.2 83L470.7 85.4L469.6 83.5L465 81.1L460.5 78.8L455.9 76.4L451.4 74.1L446.8 71.7L442.3 69.4L437.7 67L433.2 64.7L428.6 62.3L424.1 60L419.7 57.8L415.3 55.8L411 53.8L406.7 51.8L402.3 49.8L398 47.8z"/><path fill="#0e4ef0" stroke="#0e4ef0" d="M419.7 57.8L424.1 60L428.6 62.3L433.2 64.7L437.7 67L442.3 69.4L446.8 71.7L451.4 74.1L455.9 76.4L460.5 78.8L465 81.1L469.6 83.5L468.5 81.6L463.9 79.3L459.4 76.9L454.8 74.5L450.3 72.2L445.7 69.8L441.3 67.8L437 65.8L432.7 63.8L428.3 61.8L424 59.8L419.7 57.8z"/><path fill="#0a36f0" stroke="#0a36f0" d="M441.3 67.8L445.7 69.8L450.3 72.2L454.8 74.5L459.4 76.9L463.9 79.3L468.5 81.6L467.4 79.7L463 77.7L458.7 75.7L454.4 73.8L450 71.8L445.7 69.8L441.3 67.8z"/></g><path d="M398 47.8L400.2 51.6L402.5 55.3L404.8 58.8L407 62.2L409.3 65.4L411.6 68.5L413.8 71.4L416.1 74.2L418.4 76.9L420.6 79.4L422.9 81.7L425.2 84L427.4 86.1L429.7 88L432 89.8L434.3 91.5L436.5 93L438.8 94.4L441.1 95.6L443.4 96.7L445.7 97.7L447.9 98.5L450.2 99.2L452.5 99.7L454.8 100.1L457.1 100.3L459.3 100.4L461.6 100.4L463.9 100.2L466.2 99.9L468.5 99.4L470.8 98.8L473 98L475.3 97.1L477.6 96.1L479.9 94.9L482.2 93.6L484.5 92.1L486.7 90.5L489 88.7L491.3 86.8L493.6 84.7L495.9 82.6L498.2 80.2L500.5 77.7L502.7 75.1L505 72.3L507.3 69.4L509.6 66.4L511.9 63.2L514.2 59.8L516.4 56.3L518.7 52.7L521 48.9L523.3 45L525.6 41L527.8 36.7L530.1 32.4L532.4 27.9L538.8 30.6L545.2 33.3L551.6 36L558 38.7L564.4 41.5L570.8 44.2L577.2 46.9L583.6 49.6L590 52.3L596.4 55.1L602.8 57.8L600.5 62.4L598.2 66.8L595.9 71.1L593.6 75.2L591.3 79.2L589 83.1L586.7 86.8L584.3 90.4L582 93.8L579.7 97.1L577.4 100.2L575.2 103.2L572.9 106.1L570.6 108.8L568.3 111.3L566 113.7L563.7 116L561.4 118.1L559.1 120.1L556.8 122L554.5 123.7L552.2 125.2L549.9 126.6L547.6 127.9L545.3 129L543 130L540.7 130.8L538.4 131.5L536.1 132L533.8 132.4L531.5 132.6L529.2 132.7L527 132.7L524.7 132.5L522.4 132.1L520.1 131.6L517.8 131L515.5 130.2L513.2 129.3L510.9 128.2L508.6 127L506.3 125.6L504 124.1L501.7 122.4L499.5 120.6L497.2 118.6L494.9 116.5L492.6 114.3L490.3 111.9L488 109.3L485.7 106.6L483.4 103.8L481.1 100.8L478.8 97.7L476.5 94.4L474.2 90.9L471.9 87.3L469.7 83.6L467.4 79.7L461.1 76.8L454.7 73.9L448.4 71L442.1 68.1L435.8 65.2L429.5 62.3L423.2 59.4L416.9 56.6L410.6 53.6L404.3 50.7L398 47.8z" fill="none" stroke="#1a1ac8" stroke-width="0.9" stroke-linejoin="round"/><g font-size="4.3" text-anchor="middle" fill="#1c2a1c" stroke="none" letter-spacing="0"><text x="520.4" y="127.0">0.05</text><text x="525.7" y="103.3">0.1</text><text x="535.6" y="95.0">0.15</text><text x="541.0" y="85.9">0.2</text><text x="546.8" y="77.2">0.25</text><text x="551.8" y="68.6">0.3</text><text x="557.0" y="61.0">0.35</text><text x="562.2" y="53.4">0.4</text><text x="582.0" y="54.4">0.45</text><text x="437.0" y="72.3">0.4</text><text x="453.1" y="76.5">0.45</text><text x="439.8" y="79.0">0.35</text><text x="446.5" y="86.5">0.3</text><text x="452.1" y="93.2">0.25</text><text x="457.3" y="98.9">0.2</text><text x="465.3" y="106.3">0.15</text><text x="472.4" y="112.2">0.1</text></g><path d="M392.2 34.6L466.7 75.5M394.1 35.6l2.1 -0.3M397.6 37.6l1.2 -0.2M401.1 39.5l2.1 -0.3M404.7 41.5l1.2 -0.2M408.2 43.4l2.1 -0.3M411.8 45.3l1.2 -0.2M415.3 47.3l2.1 -0.3M418.8 49.2l1.2 -0.2M422.4 51.2l2.1 -0.3M425.9 53.1l1.2 -0.2M429.4 55.0l2.1 -0.3M433.0 57.0l1.2 -0.2M436.5 58.9l2.1 -0.3M440.1 60.9l1.2 -0.2M443.6 62.8l2.1 -0.3M447.1 64.8l1.2 -0.2M450.7 66.7l2.1 -0.3M454.2 68.6l1.2 -0.2M457.8 70.6l2.1 -0.3M461.3 72.5l1.2 -0.2M464.8 74.5l2.1 -0.3M466.7 75.5L608.7 53.7M470.2 75.0l-1.8 -1.0M477.0 73.9l-1.1 -0.6M483.7 72.9l-1.8 -1.0M490.5 71.8l-1.1 -0.6M497.2 70.8l-1.8 -1.0M504.0 69.8l-1.1 -0.6M510.7 68.7l-1.8 -1.0M517.5 67.7l-1.1 -0.6M524.2 66.7l-1.8 -1.0M531.0 65.6l-1.1 -0.6M537.7 64.6l-1.8 -1.0M544.4 63.6l-1.1 -0.6M551.2 62.5l-1.8 -1.0M557.9 61.5l-1.1 -0.6M564.7 60.5l-1.8 -1.0M571.4 59.4l-1.1 -0.6M578.2 58.4l-1.8 -1.0M584.9 57.4l-1.1 -0.6M591.7 56.3l-1.8 -1.0M598.4 55.3l-1.1 -0.6M605.2 54.2l-1.8 -1.0M466.7 155.3L466.7 75.5M466.7 152.9l-1.8 -1.0M466.7 145.4l-1.1 -0.6M466.7 138.0l-1.8 -1.0M466.7 130.5l-1.1 -0.6M466.7 123.1l-1.8 -1.0M466.7 115.6l-1.1 -0.6M466.7 108.1l-1.8 -1.0M466.7 100.7l-1.1 -0.6M466.7 93.2l-1.8 -1.0M466.7 85.8l-1.1 -0.6M466.7 78.3l-1.8 -1.0" fill="none" stroke="#0c0c0c" stroke-width="0.95"/></g><g id="plot-c"><path d="M208.3 323.1L335.0 291.7M211.5 322.3l1.9 0.8M217.5 320.8l1.2 0.5M223.5 319.3l1.9 0.8M229.5 317.8l1.2 0.5M235.5 316.3l1.9 0.8M241.6 314.9l1.2 0.5M247.6 313.4l1.9 0.8M253.6 311.9l1.2 0.5M259.6 310.4l1.9 0.8M265.6 308.9l1.2 0.5M271.6 307.4l1.9 0.8M277.7 305.9l1.2 0.5M283.7 304.4l1.9 0.8M289.7 302.9l1.2 0.5M295.7 301.4l1.9 0.8M301.7 299.9l1.2 0.5M307.8 298.5l1.9 0.8M313.8 297.0l1.2 0.5M319.8 295.5l1.9 0.8M325.8 294.0l1.2 0.5M331.8 292.5l1.9 0.8M335.0 291.7L432.8 331.9M337.4 292.7l-2.0 0.5M342.1 294.6l-1.2 0.3M346.7 296.5l-2.0 0.5M351.4 298.4l-1.2 0.3M356.0 300.3l-2.0 0.5M360.7 302.3l-1.2 0.3M365.3 304.2l-2.0 0.5M370.0 306.1l-1.2 0.3M374.6 308.0l-2.0 0.5M379.3 309.9l-1.2 0.3M383.9 311.8l-2.0 0.5M388.5 313.7l-1.2 0.3M393.2 315.6l-2.0 0.5M397.8 317.5l-1.2 0.3M402.5 319.4l-2.0 0.5M407.1 321.3l-1.2 0.3M411.8 323.3l-2.0 0.5M416.4 325.2l-1.2 0.3M421.1 327.1l-2.0 0.5M425.7 329.0l-1.2 0.3M430.4 330.9l-2.0 0.5M335.0 291.7L334.5 216.4M335.0 289.4l1.9 0.8M335.0 284.7l1.2 0.5M334.9 280.1l1.2 0.5M334.9 275.4l1.9 0.8M334.9 270.7l1.2 0.5M334.8 266.0l1.2 0.5M334.8 261.3l1.9 0.8M334.8 256.6l1.2 0.5M334.7 251.9l1.2 0.5M334.7 247.2l1.9 0.8M334.7 242.5l1.2 0.5M334.6 237.8l1.2 0.5M334.6 233.1l1.9 0.8M334.6 228.4l1.2 0.5M334.5 223.7l1.2 0.5M334.5 219.0l1.9 0.8M433.1 256.1L334.5 216.4M430.6 255.1l-2.0 0.5M426.0 253.2l-1.2 0.3M421.3 251.3l-2.0 0.5M416.6 249.5l-1.2 0.3M411.9 247.6l-2.0 0.5M407.2 245.7l-1.2 0.3M402.5 243.8l-2.0 0.5M397.9 241.9l-1.2 0.3M393.2 240.0l-2.0 0.5M388.5 238.1l-1.2 0.3M383.8 236.2l-2.0 0.5M379.1 234.4l-1.2 0.3M374.4 232.5l-2.0 0.5M369.7 230.6l-1.2 0.3M365.1 228.7l-2.0 0.5M360.4 226.8l-1.2 0.3M355.7 224.9l-2.0 0.5M351.0 223.0l-1.2 0.3M346.3 221.2l-2.0 0.5M341.6 219.3l-1.2 0.3M337.0 217.4l-2.0 0.5M334.5 216.4L208.4 247.1M331.3 217.2l2.0 0.8M325.4 218.6l1.2 0.5M319.4 220.1l2.0 0.8M313.4 221.5l1.2 0.5M307.4 223.0l2.0 0.8M301.4 224.5l1.2 0.5M295.4 225.9l2.0 0.8M289.4 227.4l1.2 0.5M283.4 228.8l2.0 0.8M277.4 230.3l1.2 0.5M271.4 231.8l2.0 0.8M265.5 233.2l1.2 0.5M259.5 234.7l2.0 0.8M253.5 236.1l1.2 0.5M247.5 237.6l2.0 0.8M241.5 239.0l1.2 0.5M235.5 240.5l2.0 0.8M229.5 242.0l1.2 0.5M223.5 243.4l2.0 0.8M217.5 244.9l1.2 0.5M211.6 246.3l2.0 0.8M208.3 323.1L208.4 247.1M208.3 320.8l1.9 0.8M208.3 316.1l1.2 0.5M208.3 311.3l1.2 0.5M208.3 306.6l1.9 0.8M208.3 301.9l1.2 0.5M208.3 297.1l1.2 0.5M208.3 292.4l1.9 0.8M208.3 287.7l1.2 0.5M208.4 282.9l1.2 0.5M208.4 278.2l1.9 0.8M208.4 273.4l1.2 0.5M208.4 268.7l1.2 0.5M208.4 264.0l1.9 0.8M208.4 259.2l1.2 0.5M208.4 254.5l1.2 0.5M208.4 249.8l1.9 0.8M432.8 331.9L433.1 256.1M432.8 329.6l-1.9 -0.8M432.8 324.9l-1.2 -0.5M432.8 320.2l-1.2 -0.5M432.9 315.5l-1.9 -0.8M432.9 310.7l-1.2 -0.5M432.9 306.0l-1.2 -0.5M432.9 301.3l-1.9 -0.8M432.9 296.6l-1.2 -0.5M433.0 291.8l-1.2 -0.5M433.0 287.1l-1.9 -0.8M433.0 282.4l-1.2 -0.5M433.0 277.7l-1.2 -0.5M433.0 272.9l-1.9 -0.8M433.1 268.2l-1.2 -0.5M433.1 263.5l-1.2 -0.5M433.1 258.8l-1.9 -0.8M208.3 323.1L307.4 363.5M210.8 324.1l2.0 -0.5M215.5 326.0l1.2 -0.3M220.2 327.9l2.0 -0.5M224.9 329.9l1.2 -0.3M229.6 331.8l2.0 -0.5M234.3 333.7l1.2 -0.3M239.0 335.6l2.0 -0.5M243.7 337.5l1.2 -0.3M248.4 339.5l2.0 -0.5M253.1 341.4l1.2 -0.3M257.9 343.3l2.0 -0.5M262.6 345.2l1.2 -0.3M267.3 347.1l2.0 -0.5M272.0 349.1l1.2 -0.3M276.7 351.0l2.0 -0.5M281.4 352.9l1.2 -0.3M286.1 354.8l2.0 -0.5M290.8 356.7l1.2 -0.3M295.5 358.7l2.0 -0.5M300.2 360.6l1.2 -0.3M304.9 362.5l2.0 -0.5M307.4 363.5L432.8 331.9M310.5 362.7l-1.9 -0.8M316.5 361.2l-1.2 -0.5M322.4 359.7l-1.9 -0.8M328.4 358.2l-1.2 -0.5M334.4 356.7l-1.9 -0.8M340.3 355.2l-1.2 -0.5M346.3 353.7l-1.9 -0.8M352.2 352.2l-1.2 -0.5M358.2 350.7l-1.9 -0.8M364.1 349.2l-1.2 -0.5M370.1 347.7l-1.9 -0.8M376.1 346.2l-1.2 -0.5M382.0 344.7l-1.9 -0.8M388.0 343.2l-1.2 -0.5M393.9 341.7l-1.9 -0.8M399.9 340.2l-1.2 -0.5M405.8 338.7l-1.9 -0.8M411.8 337.2l-1.2 -0.5M417.8 335.7l-1.9 -0.8M423.7 334.2l-1.2 -0.5M429.7 332.7l-1.9 -0.8" fill="none" stroke="#2a2a2a" stroke-width="0.8"/><g stroke-width=".9" stroke-linejoin="round"><path fill="#ff2b00" stroke="#ff2b00" d="M276.2 301.9L281.9 304L281.9 304L277.2 301.6z"/><path fill="#ff2c00" stroke="#ff2c00" d="M277.2 301.6L281.9 304L281.9 304L278.1 301.4z"/><path fill="#ff2d00" stroke="#ff2d00" d="M278.1 301.4L281.9 304L281.9 304L279.1 301.1z"/><path fill="#ff2e00" stroke="#ff2e00" d="M279.1 301.1L281.9 304L281.9 304L280.1 300.7z"/><path fill="#ff3000" stroke="#ff3000" d="M280.1 300.7L281.9 304L287.7 306.2L287.7 306.2L284.2 303.4L281 300.4z"/><path fill="#ff3200" stroke="#ff3200" d="M281 300.4L284.2 303.4L287.7 306.2L287.7 306.2L285.9 302.9L282 300z"/><path fill="#ff3500" stroke="#ff3500" d="M282 300L285.9 302.9L287.7 306.2L293.4 308.4L293.4 308.4L290.8 305.3L287.2 302.4L282.9 299.6z"/><path fill="#ff3800" stroke="#ff3800" d="M282.9 299.6L287.2 302.4L290.8 305.3L293.4 308.4L299.1 310.5L299.1 310.5L295.8 307.7L292.5 304.7L288.3 301.9L283.9 299.2z"/><path fill="#ff3c00" stroke="#ff3c00" d="M283.9 299.2L288.3 301.9L292.5 304.7L295.8 307.7L299.1 310.5L304.8 312.7L304.8 312.7L301 310L298 306.9L293.9 304.1L289.5 301.4L284.8 298.8z"/><path fill="#ff4000" stroke="#ff4000" d="M284.8 298.8L289.5 301.4L293.9 304.1L298 306.9L301 310L304.8 312.7L310.5 314.8L310.5 314.8L306.7 312.1L303.7 309.1L299.6 306.3L295.2 303.6L290.5 300.9L285.8 298.3z"/><path fill="#ff4500" stroke="#ff4500" d="M285.8 298.3L290.5 300.9L295.2 303.6L299.6 306.3L303.7 309.1L306.7 312.1L310.5 314.8L316.2 317L316.2 317L312.8 314.2L309.6 311.2L305.4 308.4L301 305.7L296.3 303L291.6 300.4L286.7 297.8z"/><path fill="#ff4a00" stroke="#ff4a00" d="M286.7 297.8L291.6 300.4L296.3 303L301 305.7L305.4 308.4L309.6 311.2L312.8 314.2L316.2 317L321.9 319.1L321.9 319.1L319.2 316.1L315.6 313.2L311.4 310.4L306.9 307.7L302.2 305.1L297.5 302.5L292.6 299.8L287.7 297.3z"/><path fill="#ff5000" stroke="#ff5000" d="M287.7 297.3L292.6 299.8L297.5 302.5L302.2 305.1L306.9 307.7L311.4 310.4L315.6 313.2L319.2 316.1L321.9 319.1L327.6 321.3L327.6 321.3L325.7 318L321.8 315.1L317.5 312.4L313 309.7L308.3 307.1L303.5 304.5L298.6 301.9L293.6 299.3L288.7 296.7z"/><path fill="#ff5600" stroke="#ff5600" d="M288.7 296.7L293.6 299.3L298.6 301.9L303.5 304.5L308.3 307.1L313 309.7L317.5 312.4L321.8 315.1L325.7 318L327.6 321.3L333.3 323.4L339.1 325.6L339.1 325.6L335.2 322.9L332.2 319.8L328.1 317L323.7 314.3L319.1 311.7L314.3 309L309.5 306.4L304.6 303.8L299.6 301.3L294.6 298.7L289.6 296.1z"/><path fill="#ff5c00" stroke="#ff5c00" d="M289.6 296.1L294.6 298.7L299.6 301.3L304.6 303.8L309.5 306.4L314.3 309L319.1 311.7L323.7 314.3L328.1 317L332.2 319.8L335.2 322.9L339.1 325.6L344.8 327.7L344.8 327.7L342.6 324.5L338.8 321.6L334.5 318.9L330 316.2L325.3 313.6L320.5 311L315.6 308.4L310.7 305.8L305.7 303.2L300.7 300.6L295.6 298.1L290.6 295.5z"/><path fill="#ff6300" stroke="#ff6300" d="M290.6 295.5L295.6 298.1L300.7 300.6L305.7 303.2L310.7 305.8L315.6 308.4L320.5 311L325.3 313.6L330 316.2L334.5 318.9L338.8 321.6L342.6 324.5L344.8 327.7L350.5 329.9L356.2 332L356.2 332L352.9 329.2L349.6 326.2L345.5 323.4L341 320.7L336.4 318.1L331.6 315.4L326.8 312.8L321.8 310.2L316.9 307.7L311.9 305.1L306.8 302.5L301.7 300L296.6 297.5L291.5 294.9z"/><path fill="#ff6b00" stroke="#ff6b00" d="M291.5 294.9L296.6 297.5L301.7 300L306.8 302.5L311.9 305.1L316.9 307.7L321.8 310.2L326.8 312.8L331.6 315.4L336.4 318.1L341 320.7L345.5 323.4L349.6 326.2L352.9 329.2L356.2 332L361.9 334.2L367.6 336.3L367.6 336.3L362.8 333.9L360.5 330.7L356.5 327.9L352.1 325.2L347.5 322.5L342.8 319.9L337.9 317.3L333 314.7L328.1 312.1L323.1 309.5L318.1 307L313 304.4L307.9 301.9L302.8 299.3L297.6 296.8L292.5 294.3z"/><path fill="#ff7300" stroke="#ff7300" d="M292.5 294.3L297.6 296.8L302.8 299.3L307.9 301.9L313 304.4L318.1 307L323.1 309.5L328.1 312.1L333 314.7L337.9 317.3L342.8 319.9L347.5 322.5L352.1 325.2L356.5 327.9L360.5 330.7L362.8 333.9L367.6 336.3L371.5 335.1L367.6 332.3L363.3 329.6L358.7 326.9L354 324.2L349.2 321.6L344.3 319L339.4 316.5L334.4 313.9L329.4 311.3L324.3 308.8L319.2 306.2L314.1 303.7L309 301.2L303.8 298.6L298.6 296.1L293.4 293.6z"/><path fill="#ff7b00" stroke="#ff7b00" d="M293.4 293.6L298.6 296.1L303.8 298.6L309 301.2L314.1 303.7L319.2 306.2L324.3 308.8L329.4 311.3L334.4 313.9L339.4 316.5L344.3 319L349.2 321.6L354 324.2L358.7 326.9L363.3 329.6L367.6 332.3L371.5 335.1L374.6 333.9L370.1 331.2L365.4 328.6L360.6 326L355.7 323.4L350.8 320.8L345.8 318.2L340.8 315.7L335.7 313.1L330.6 310.6L325.5 308L320.3 305.5L315.2 303L310 300.4L304.8 297.9L299.6 295.4L294.4 292.9z"/><path fill="#ff8400" stroke="#ff8400" d="M294.4 292.9L299.6 295.4L304.8 297.9L310 300.4L315.2 303L320.3 305.5L325.5 308L330.6 310.6L335.7 313.1L340.8 315.7L345.8 318.2L350.8 320.8L355.7 323.4L360.6 326L365.4 328.6L370.1 331.2L374.6 333.9L376.8 332.8L372 330.2L367.2 327.6L362.2 325.1L357.2 322.5L352.2 319.9L347.1 317.4L342.1 314.8L336.9 312.3L331.8 309.8L326.6 307.3L321.5 304.7L316.3 302.2L311 299.7L305.8 297.2L300.6 294.7L295.3 292.2z"/><path fill="#ff8e00" stroke="#ff8e00" d="M295.3 292.2L300.6 294.7L305.8 297.2L311 299.7L316.3 302.2L321.5 304.7L326.6 307.3L331.8 309.8L336.9 312.3L342.1 314.8L347.1 317.4L352.2 319.9L357.2 322.5L362.2 325.1L367.2 327.6L372 330.2L376.8 332.8L378.7 331.9L373.8 329.3L368.8 326.7L363.7 324.2L358.7 321.6L353.6 319.1L348.4 316.5L343.3 314L338.1 311.5L333 309L327.8 306.5L322.5 304L317.3 301.4L312.1 298.9L306.8 296.4L301.6 293.9L296.3 291.4z"/><path fill="#ff9800" stroke="#ff9800" d="M296.3 291.4L301.6 293.9L306.8 296.4L312.1 298.9L317.3 301.4L322.5 304L327.8 306.5L333 309L338.1 311.5L343.3 314L348.4 316.5L353.6 319.1L358.7 321.6L363.7 324.2L368.8 326.7L373.8 329.3L378.7 331.9L380.4 330.9L375.3 328.4L370.2 325.8L365.1 323.3L360 320.7L354.9 318.2L349.7 315.7L344.5 313.2L339.3 310.7L334.1 308.2L328.9 305.7L323.6 303.1L318.4 300.6L313.1 298.2L307.8 295.7L302.5 293.2L297.2 290.7z"/><path fill="#ffa300" stroke="#ffa300" d="M297.2 290.7L302.5 293.2L307.8 295.7L313.1 298.2L318.4 300.6L323.6 303.1L328.9 305.7L334.1 308.2L339.3 310.7L344.5 313.2L349.7 315.7L354.9 318.2L360 320.7L365.1 323.3L370.2 325.8L375.3 328.4L380.4 330.9L381.9 330L376.8 327.4L371.6 324.9L366.5 322.4L361.3 319.9L356.1 317.3L350.9 314.8L345.7 312.3L340.5 309.8L335.2 307.3L329.9 304.8L324.7 302.3L319.4 299.8L314.1 297.3L308.8 294.9L303.5 292.4L298.2 289.9z"/><path fill="#ffae00" stroke="#ffae00" d="M298.2 289.9L303.5 292.4L308.8 294.9L314.1 297.3L319.4 299.8L324.7 302.3L329.9 304.8L335.2 307.3L340.5 309.8L345.7 312.3L350.9 314.8L356.1 317.3L361.3 319.9L366.5 322.4L371.6 324.9L376.8 327.4L381.9 330L383.3 329L378.2 326.5L373 324L367.8 321.5L362.6 319L357.3 316.5L352.1 313.9L346.8 311.4L341.6 309L336.3 306.5L331 304L325.7 301.5L320.4 299L315.1 296.5L309.8 294L304.5 291.5L299.1 289.1z"/><path fill="#ffba00" stroke="#ffba00" d="M299.1 289.1L304.5 291.5L309.8 294L315.1 296.5L320.4 299L325.7 301.5L331 304L336.3 306.5L341.6 309L346.8 311.4L352.1 313.9L357.3 316.5L362.6 319L367.8 321.5L373 324L378.2 326.5L383.3 329L384.7 328.1L379.5 325.5L374.3 323L369 320.5L363.8 318L358.5 315.5L353.3 313L348 310.6L342.7 308.1L337.4 305.6L332.1 303.1L326.8 300.6L321.4 298.1L316.1 295.6L310.8 293.2L305.4 290.7L300.1 288.2z"/><path fill="#ffc700" stroke="#ffc700" d="M300.1 288.2L305.4 290.7L310.8 293.2L316.1 295.6L321.4 298.1L326.8 300.6L332.1 303.1L337.4 305.6L342.7 308.1L348 310.6L353.3 313L358.5 315.5L363.8 318L369 320.5L374.3 323L379.5 325.5L384.7 328.1L386 327.1L380.8 324.6L375.5 322.1L370.3 319.6L365 317.1L359.7 314.6L354.4 312.1L349.1 309.6L343.8 307.2L338.5 304.7L333.1 302.2L327.8 299.7L322.5 297.2L317.1 294.8L311.8 292.3L306.4 289.8L301.1 287.3z"/><path fill="#ffd400" stroke="#ffd400" d="M301.1 287.3L306.4 289.8L311.8 292.3L317.1 294.8L322.5 297.2L327.8 299.7L333.1 302.2L338.5 304.7L343.8 307.2L349.1 309.6L354.4 312.1L359.7 314.6L365 317.1L370.3 319.6L375.5 322.1L380.8 324.6L386 327.1L387.3 326.1L382 323.6L376.7 321.1L371.4 318.6L366.1 316.1L360.8 313.7L355.5 311.2L350.2 308.7L344.9 306.2L339.5 303.8L334.2 301.3L328.8 298.8L323.5 296.3L318.1 293.9L312.7 291.4L307.4 288.9L302 286.5z"/><path fill="#ffe100" stroke="#ffe100" d="M302 286.5L307.4 288.9L312.7 291.4L318.1 293.9L323.5 296.3L328.8 298.8L334.2 301.3L339.5 303.8L344.9 306.2L350.2 308.7L355.5 311.2L360.8 313.7L366.1 316.1L371.4 318.6L376.7 321.1L382 323.6L387.3 326.1L388.5 325.1L383.2 322.6L377.9 320.1L372.6 317.7L367.3 315.2L362 312.7L356.6 310.2L351.3 307.7L345.9 305.3L340.6 302.8L335.2 300.3L329.9 297.9L324.5 295.4L319.1 292.9L313.7 290.5L308.3 288L303 285.5z"/><path fill="#fff000" stroke="#fff000" d="M303 285.5L308.3 288L313.7 290.5L319.1 292.9L324.5 295.4L329.9 297.9L335.2 300.3L340.6 302.8L345.9 305.3L351.3 307.7L356.6 310.2L362 312.7L367.3 315.2L372.6 317.7L377.9 320.1L383.2 322.6L388.5 325.1L389.8 324.1L384.4 321.6L379.1 319.1L373.8 316.7L368.4 314.2L363.1 311.7L357.7 309.2L352.4 306.8L347 304.3L341.6 301.8L336.2 299.4L330.9 296.9L325.5 294.4L320.1 292L314.7 289.5L309.3 287.1L303.9 284.6z"/><path fill="#fff400" stroke="#fff400" d="M303.9 284.6L309.3 287.1L314.7 289.5L320.1 292L325.5 294.4L330.9 296.9L336.2 299.4L341.6 301.8L347 304.3L352.4 306.8L357.7 309.2L363.1 311.7L368.4 314.2L373.8 316.7L379.1 319.1L384.4 321.6L389.8 324.1L391 323L385.6 320.6L380.3 318.1L374.9 315.6L369.5 313.2L364.2 310.7L358.8 308.2L353.4 305.8L348 303.3L342.7 300.8L337.3 298.4L331.9 295.9L326.5 293.5L321.1 291L315.7 288.5L310.3 286.1L304.9 283.6z"/><path fill="#fff600" stroke="#fff600" d="M304.9 283.6L310.3 286.1L315.7 288.5L321.1 291L326.5 293.5L331.9 295.9L337.3 298.4L342.7 300.8L348 303.3L353.4 305.8L358.8 308.2L364.2 310.7L369.5 313.2L374.9 315.6L380.3 318.1L385.6 320.6L391 323L392.1 322L386.8 319.5L381.4 317.1L376 314.6L370.6 312.1L365.3 309.7L359.9 307.2L354.5 304.7L349.1 302.3L343.7 299.8L338.3 297.4L332.9 294.9L327.5 292.4L322.1 290L316.7 287.5L311.2 285.1L305.8 282.6z"/><path fill="#fff800" stroke="#fff800" d="M305.8 282.6L311.2 285.1L316.7 287.5L322.1 290L327.5 292.4L332.9 294.9L338.3 297.4L343.7 299.8L349.1 302.3L354.5 304.7L359.9 307.2L365.3 309.7L370.6 312.1L376 314.6L381.4 317.1L386.8 319.5L392.1 322L393.3 320.9L387.9 318.5L382.5 316L377.1 313.5L371.7 311.1L366.3 308.6L360.9 306.2L355.5 303.7L350.1 301.2L344.7 298.8L339.3 296.3L333.9 293.9L328.5 291.4L323.1 289L317.6 286.5L312.2 284.1L306.8 281.6z"/><path fill="#fffa00" stroke="#fffa00" d="M306.8 281.6L312.2 284.1L317.6 286.5L323.1 289L328.5 291.4L333.9 293.9L339.3 296.3L344.7 298.8L350.1 301.2L355.5 303.7L360.9 306.2L366.3 308.6L371.7 311.1L377.1 313.5L382.5 316L387.9 318.5L393.3 320.9L394.4 319.8L389 317.4L383.6 314.9L378.2 312.4L372.8 310L367.4 307.5L362 305.1L356.6 302.6L351.2 300.2L345.7 297.7L340.3 295.3L334.9 292.8L329.5 290.4L324 287.9L318.6 285.5L313.2 283L307.7 280.6z"/><path fill="#fffc00" stroke="#fffc00" d="M307.7 280.6L313.2 283L318.6 285.5L324 287.9L329.5 290.4L334.9 292.8L340.3 295.3L345.7 297.7L351.2 300.2L356.6 302.6L362 305.1L367.4 307.5L372.8 310L378.2 312.4L383.6 314.9L389 317.4L394.4 319.8L395.5 318.7L390.1 316.2L384.7 313.8L379.3 311.3L373.9 308.9L368.5 306.4L363.1 304L357.6 301.5L352.2 299.1L346.8 296.6L341.3 294.2L335.9 291.7L330.5 289.3L325 286.8L319.6 284.4L314.1 282L308.7 279.5z"/><path fill="#fffd00" stroke="#fffd00" d="M308.7 279.5L314.1 282L319.6 284.4L325 286.8L330.5 289.3L335.9 291.7L341.3 294.2L346.8 296.6L352.2 299.1L357.6 301.5L363.1 304L368.5 306.4L373.9 308.9L379.3 311.3L384.7 313.8L390.1 316.2L395.5 318.7L396.7 317.6L391.2 315.1L385.8 312.7L380.4 310.2L375 307.8L369.5 305.3L364.1 302.9L358.7 300.4L353.2 298L347.8 295.5L342.3 293.1L336.9 290.6L331.4 288.2L326 285.7L320.5 283.3L315.1 280.9L309.6 278.4z"/><path fill="#fffe00" stroke="#fffe00" d="M309.6 278.4L315.1 280.9L320.5 283.3L326 285.7L331.4 288.2L336.9 290.6L342.3 293.1L347.8 295.5L353.2 298L358.7 300.4L364.1 302.9L369.5 305.3L375 307.8L380.4 310.2L385.8 312.7L391.2 315.1L396.7 317.6L397.8 316.4L392.3 313.9L386.9 311.5L381.5 309.1L376 306.6L370.6 304.2L365.1 301.7L359.7 299.3L354.2 296.8L348.8 294.4L343.3 291.9L337.9 289.5L332.4 287.1L327 284.6L321.5 282.2L316 279.7L310.6 277.3z"/><path fill="#fffe00" stroke="#fffe00" d="M310.6 277.3L316 279.7L321.5 282.2L327 284.6L332.4 287.1L337.9 289.5L343.3 291.9L348.8 294.4L354.2 296.8L359.7 299.3L365.1 301.7L370.6 304.2L376 306.6L381.5 309.1L386.9 311.5L392.3 313.9L397.8 316.4L398.9 315.2L393.4 312.8L388 310.3L382.5 307.9L377.1 305.4L371.6 303L366.2 300.6L360.7 298.1L355.3 295.7L349.8 293.2L344.3 290.8L338.9 288.3L333.4 285.9L327.9 283.5L322.5 281L317 278.6L311.5 276.2z"/><path fill="#fcff00" stroke="#fcff00" d="M311.5 276.2L317 278.6L322.5 281L327.9 283.5L333.4 285.9L338.9 288.3L344.3 290.8L349.8 293.2L355.3 295.7L360.7 298.1L366.2 300.6L371.6 303L377.1 305.4L382.5 307.9L388 310.3L393.4 312.8L398.9 315.2L399.9 314L394.5 311.6L389 309.1L383.6 306.7L378.1 304.2L372.7 301.8L367.2 299.4L361.7 296.9L356.3 294.5L350.8 292L345.3 289.6L339.9 287.2L334.4 284.7L328.9 282.3L323.4 279.9L318 277.4L312.5 275z"/><path fill="#edfd00" stroke="#edfd00" d="M312.5 275L318 277.4L323.4 279.9L328.9 282.3L334.4 284.7L339.9 287.2L345.3 289.6L350.8 292L356.3 294.5L361.7 296.9L367.2 299.4L372.7 301.8L378.1 304.2L383.6 306.7L389 309.1L394.5 311.6L399.9 314L401 312.8L395.6 310.3L390.1 307.9L384.6 305.5L379.2 303L373.7 300.6L368.2 298.1L362.8 295.7L357.3 293.3L351.8 290.8L346.3 288.4L340.8 286L335.4 283.5L329.9 281.1L324.4 278.7L318.9 276.2L313.4 273.8z"/><path fill="#defc00" stroke="#defc00" d="M313.4 273.8L318.9 276.2L324.4 278.7L329.9 281.1L335.4 283.5L340.8 286L346.3 288.4L351.8 290.8L357.3 293.3L362.8 295.7L368.2 298.1L373.7 300.6L379.2 303L384.6 305.5L390.1 307.9L395.6 310.3L401 312.8L402.1 311.5L396.6 309.1L391.2 306.6L385.7 304.2L380.2 301.8L374.7 299.3L369.2 296.9L363.8 294.5L358.3 292L352.8 289.6L347.3 287.2L341.8 284.7L336.3 282.3L330.8 279.9L325.4 277.4L319.9 275L314.4 272.6z"/><path fill="#cffb00" stroke="#cffb00" d="M314.4 272.6L319.9 275L325.4 277.4L330.8 279.9L336.3 282.3L341.8 284.7L347.3 287.2L352.8 289.6L358.3 292L363.8 294.5L369.2 296.9L374.7 299.3L380.2 301.8L385.7 304.2L391.2 306.6L396.6 309.1L402.1 311.5L403.2 310.2L397.7 307.8L392.2 305.4L386.7 302.9L381.2 300.5L375.8 298.1L370.3 295.6L364.8 293.2L359.3 290.8L353.8 288.4L348.3 285.9L342.8 283.5L337.3 281.1L331.8 278.6L326.3 276.2L320.8 273.8L315.3 271.3z"/><path fill="#b7f800" stroke="#b7f800" d="M315.3 271.3L320.8 273.8L326.3 276.2L331.8 278.6L337.3 281.1L342.8 283.5L348.3 285.9L353.8 288.4L359.3 290.8L364.8 293.2L370.3 295.6L375.8 298.1L381.2 300.5L386.7 302.9L392.2 305.4L397.7 307.8L403.2 310.2L404.2 308.9L398.7 306.5L393.2 304.1L387.8 301.7L382.3 299.2L376.8 296.8L371.3 294.4L365.8 291.9L360.3 289.5L354.8 287.1L349.3 284.6L343.8 282.2L338.3 279.8L332.8 277.4L327.3 274.9L321.8 272.5L316.3 270.1z"/><path fill="#98f500" stroke="#98f500" d="M316.3 270.1L321.8 272.5L327.3 274.9L332.8 277.4L338.3 279.8L343.8 282.2L349.3 284.6L354.8 287.1L360.3 289.5L365.8 291.9L371.3 294.4L376.8 296.8L382.3 299.2L387.8 301.7L393.2 304.1L398.7 306.5L404.2 308.9L405.3 307.6L399.8 305.2L394.3 302.8L388.8 300.3L383.3 297.9L377.8 295.5L372.3 293.1L366.8 290.6L361.3 288.2L355.8 285.8L350.3 283.3L344.8 280.9L339.3 278.5L333.8 276.1L328.2 273.6L322.7 271.2L317.2 268.8z"/><path fill="#79f200" stroke="#79f200" d="M317.2 268.8L322.7 271.2L328.2 273.6L333.8 276.1L339.3 278.5L344.8 280.9L350.3 283.3L355.8 285.8L361.3 288.2L366.8 290.6L372.3 293.1L377.8 295.5L383.3 297.9L388.8 300.3L394.3 302.8L399.8 305.2L405.3 307.6L406.3 306.3L400.8 303.8L395.3 301.4L389.8 299L384.3 296.6L378.8 294.1L373.3 291.7L367.8 289.3L362.3 286.9L356.8 284.4L351.3 282L345.7 279.6L340.2 277.2L334.7 274.8L329.2 272.3L323.7 269.9L318.2 267.5z"/><path fill="#5cf000" stroke="#5cf000" d="M318.2 267.5L323.7 269.9L329.2 272.3L334.7 274.8L340.2 277.2L345.7 279.6L351.3 282L356.8 284.4L362.3 286.9L367.8 289.3L373.3 291.7L378.8 294.1L384.3 296.6L389.8 299L395.3 301.4L400.8 303.8L406.3 306.3L407.4 304.9L401.9 302.5L396.4 300.1L390.8 297.6L385.3 295.2L379.8 292.8L374.3 290.4L368.8 287.9L363.3 285.5L357.8 283.1L352.2 280.7L346.7 278.3L341.2 275.8L335.7 273.4L330.2 271L324.6 268.6L319.1 266.1z"/><path fill="#4cf000" stroke="#4cf000" d="M319.1 266.1L324.6 268.6L330.2 271L335.7 273.4L341.2 275.8L346.7 278.3L352.2 280.7L357.8 283.1L363.3 285.5L368.8 287.9L374.3 290.4L379.8 292.8L385.3 295.2L390.8 297.6L396.4 300.1L401.9 302.5L407.4 304.9L408.4 303.5L402.9 301.1L397.4 298.7L391.9 296.2L386.4 293.8L380.8 291.4L375.3 289L369.8 286.6L364.3 284.1L358.8 281.7L353.2 279.3L347.7 276.9L342.2 274.5L336.7 272L331.1 269.6L325.6 267.2L320.1 264.8z"/><path fill="#3bf000" stroke="#3bf000" d="M320.1 264.8L325.6 267.2L331.1 269.6L336.7 272L342.2 274.5L347.7 276.9L353.2 279.3L358.8 281.7L364.3 284.1L369.8 286.6L375.3 289L380.8 291.4L386.4 293.8L391.9 296.2L397.4 298.7L402.9 301.1L408.4 303.5L409.5 302.1L403.9 299.7L398.4 297.3L392.9 294.8L387.4 292.4L381.8 290L376.3 287.6L370.8 285.2L365.3 282.7L359.7 280.3L354.2 277.9L348.7 275.5L343.1 273.1L337.6 270.6L332.1 268.2L326.5 265.8L321 263.4z"/><path fill="#2af000" stroke="#2af000" d="M321 263.4L326.5 265.8L332.1 268.2L337.6 270.6L343.1 273.1L348.7 275.5L354.2 277.9L359.7 280.3L365.3 282.7L370.8 285.2L376.3 287.6L381.8 290L387.4 292.4L392.9 294.8L398.4 297.3L403.9 299.7L409.5 302.1L410.5 300.7L405 298.2L399.4 295.8L393.9 293.4L388.4 291L382.8 288.6L377.3 286.2L371.8 283.7L366.3 281.3L360.7 278.9L355.2 276.5L349.7 274.1L344.1 271.6L338.6 269.2L333 266.8L327.5 264.4L322 262z"/><path fill="#1bf000" stroke="#1bf000" d="M322 262L327.5 264.4L333 266.8L338.6 269.2L344.1 271.6L349.7 274.1L355.2 276.5L360.7 278.9L366.3 281.3L371.8 283.7L377.3 286.2L382.8 288.6L388.4 291L393.9 293.4L399.4 295.8L405 298.2L410.5 300.7L411.5 299.2L406 296.8L400.5 294.4L394.9 291.9L389.4 289.5L383.9 287.1L378.3 284.7L372.8 282.3L367.2 279.9L361.7 277.5L356.2 275L350.6 272.6L345.1 270.2L339.5 267.8L334 265.4L328.5 263L322.9 260.5z"/><path fill="#0cf000" stroke="#0cf000" d="M322.9 260.5L328.5 263L334 265.4L339.5 267.8L345.1 270.2L350.6 272.6L356.2 275L361.7 277.5L367.2 279.9L372.8 282.3L378.3 284.7L383.9 287.1L389.4 289.5L394.9 291.9L400.5 294.4L406 296.8L411.5 299.2L412.5 297.7L407 295.3L401.5 292.9L395.9 290.5L390.4 288.1L384.9 285.6L379.3 283.2L373.8 280.8L368.2 278.4L362.7 276L357.1 273.6L351.6 271.2L346 268.7L340.5 266.3L335 263.9L329.4 261.5L323.9 259.1z"/><path fill="#00f002" stroke="#00f002" d="M323.9 259.1L329.4 261.5L335 263.9L340.5 266.3L346 268.7L351.6 271.2L357.1 273.6L362.7 276L368.2 278.4L373.8 280.8L379.3 283.2L384.9 285.6L390.4 288.1L395.9 290.5L401.5 292.9L407 295.3L412.5 297.7L413.6 296.2L408 293.8L402.5 291.4L396.9 289L391.4 286.5L385.9 284.1L380.3 281.7L374.8 279.3L369.2 276.9L363.7 274.5L358.1 272.1L352.6 269.7L347 267.2L341.5 264.8L335.9 262.4L330.4 260L324.8 257.6z"/><path fill="#00f00d" stroke="#00f00d" d="M324.8 257.6L330.4 260L335.9 262.4L341.5 264.8L347 267.2L352.6 269.7L358.1 272.1L363.7 274.5L369.2 276.9L374.8 279.3L380.3 281.7L385.9 284.1L391.4 286.5L396.9 289L402.5 291.4L408 293.8L413.6 296.2L414.6 294.7L409 292.3L403.5 289.8L398 287.4L392.4 285L386.9 282.6L381.3 280.2L375.7 277.8L370.2 275.4L364.6 273L359.1 270.6L353.5 268.1L348 265.7L342.4 263.3L336.9 260.9L331.3 258.5L325.8 256.1z"/><path fill="#00f018" stroke="#00f018" d="M325.8 256.1L331.3 258.5L336.9 260.9L342.4 263.3L348 265.7L353.5 268.1L359.1 270.6L364.6 273L370.2 275.4L375.7 277.8L381.3 280.2L386.9 282.6L392.4 285L398 287.4L403.5 289.8L409 292.3L414.6 294.7L415.6 293.1L410.1 290.7L404.5 288.3L399 285.9L393.4 283.5L387.8 281.1L382.3 278.6L376.7 276.2L371.2 273.8L365.6 271.4L360.1 269L354.5 266.6L348.9 264.2L343.4 261.8L337.8 259.4L332.3 257L326.7 254.6z"/><path fill="#00f02b" stroke="#00f02b" d="M326.7 254.6L332.3 257L337.8 259.4L343.4 261.8L348.9 264.2L354.5 266.6L360.1 269L365.6 271.4L371.2 273.8L376.7 276.2L382.3 278.6L387.8 281.1L393.4 283.5L399 285.9L404.5 288.3L410.1 290.7L415.6 293.1L416.6 291.5L411.1 289.1L405.5 286.7L400 284.3L394.4 281.9L388.8 279.5L383.3 277.1L377.7 274.7L372.2 272.3L366.6 269.9L361 267.4L355.5 265L349.9 262.6L344.3 260.2L338.8 257.8L333.2 255.4L327.6 253z"/><path fill="#00f047" stroke="#00f047" d="M327.6 253L333.2 255.4L338.8 257.8L344.3 260.2L349.9 262.6L355.5 265L361 267.4L366.6 269.9L372.2 272.3L377.7 274.7L383.3 277.1L388.8 279.5L394.4 281.9L400 284.3L405.5 286.7L411.1 289.1L416.6 291.5L417.7 289.9L412.1 287.5L406.5 285.1L401 282.7L395.4 280.3L389.8 277.9L384.3 275.5L378.7 273.1L373.1 270.7L367.6 268.3L362 265.9L356.4 263.4L350.9 261L345.3 258.6L339.7 256.2L334.2 253.8L328.6 251.4z"/><path fill="#00f063" stroke="#00f063" d="M328.6 251.4L334.2 253.8L339.7 256.2L345.3 258.6L350.9 261L356.4 263.4L362 265.9L367.6 268.3L373.1 270.7L378.7 273.1L384.3 275.5L389.8 277.9L395.4 280.3L401 282.7L406.5 285.1L412.1 287.5L417.7 289.9L418.7 288.3L413.1 285.9L407.5 283.5L402 281.1L396.4 278.7L390.8 276.3L385.3 273.9L379.7 271.5L374.1 269L368.6 266.6L363 264.2L357.4 261.8L351.8 259.4L346.3 257L340.7 254.6L335.1 252.2L329.5 249.8z"/><path fill="#00f177" stroke="#00f177" d="M329.5 249.8L335.1 252.2L340.7 254.6L346.3 257L351.8 259.4L357.4 261.8L363 264.2L368.6 266.6L374.1 269L379.7 271.5L385.3 273.9L390.8 276.3L396.4 278.7L402 281.1L407.5 283.5L413.1 285.9L418.7 288.3L419.7 286.6L414.1 284.2L408.5 281.8L403 279.4L397.4 277L391.8 274.6L386.2 272.2L380.7 269.8L375.1 267.4L369.5 265L363.9 262.6L358.4 260.2L352.8 257.8L347.2 255.4L341.6 253L336.1 250.6L330.5 248.2z"/><path fill="#00f28a" stroke="#00f28a" d="M330.5 248.2L336.1 250.6L341.6 253L347.2 255.4L352.8 257.8L358.4 260.2L363.9 262.6L369.5 265L375.1 267.4L380.7 269.8L386.2 272.2L391.8 274.6L397.4 277L403 279.4L408.5 281.8L414.1 284.2L419.7 286.6L420.7 285L415.1 282.6L409.5 280.2L404 277.8L398.4 275.4L392.8 272.9L387.2 270.5L381.7 268.1L376.1 265.7L370.5 263.3L364.9 260.9L359.3 258.5L353.8 256.1L348.2 253.7L342.6 251.3L337 248.9L331.4 246.5z"/><path fill="#00f4a4" stroke="#00f4a4" d="M331.4 246.5L337 248.9L342.6 251.3L348.2 253.7L353.8 256.1L359.3 258.5L364.9 260.9L370.5 263.3L376.1 265.7L381.7 268.1L387.2 270.5L392.8 272.9L398.4 275.4L404 277.8L409.5 280.2L415.1 282.6L420.7 285L421.7 283.3L416.1 280.9L410.5 278.5L405 276.1L399.4 273.7L393.8 271.3L388.2 268.9L382.6 266.5L377.1 264L371.5 261.6L365.9 259.2L360.3 256.8L354.7 254.4L349.1 252L343.5 249.6L338 247.2L332.4 244.8z"/><path fill="#00f6cc" stroke="#00f6cc" d="M332.4 244.8L338 247.2L343.5 249.6L349.1 252L354.7 254.4L360.3 256.8L365.9 259.2L371.5 261.6L377.1 264L382.6 266.5L388.2 268.9L393.8 271.3L399.4 273.7L405 276.1L410.5 278.5L416.1 280.9L421.7 283.3L422.7 281.5L417.1 279.1L411.5 276.7L406 274.3L400.4 271.9L394.8 269.5L389.2 267.1L383.6 264.7L378 262.3L372.4 259.9L366.9 257.5L361.3 255.1L355.7 252.7L350.1 250.3L344.5 247.9L338.9 245.5L333.3 243.1z"/><path fill="#00f8f6" stroke="#00f8f6" d="M333.3 243.1L338.9 245.5L344.5 247.9L350.1 250.3L355.7 252.7L361.3 255.1L366.9 257.5L372.4 259.9L378 262.3L383.6 264.7L389.2 267.1L394.8 269.5L400.4 271.9L406 274.3L411.5 276.7L417.1 279.1L422.7 281.5L423.7 279.8L418.1 277.4L412.5 275L407 272.6L401.4 270.2L395.8 267.8L390.2 265.4L384.6 263L379 260.6L373.4 258.2L367.8 255.8L362.2 253.4L356.6 251L351 248.6L345.5 246.2L339.9 243.8L334.3 241.4z"/><path fill="#00f6fa" stroke="#00f6fa" d="M334.3 241.4L339.9 243.8L345.5 246.2L351 248.6L356.6 251L362.2 253.4L367.8 255.8L373.4 258.2L379 260.6L384.6 263L390.2 265.4L395.8 267.8L401.4 270.2L407 272.6L412.5 275L418.1 277.4L423.7 279.8L424.7 278L419.1 275.6L413.5 273.2L408 270.8L402.4 268.4L396.8 266L391.2 263.6L385.6 261.2L380 258.8L374.4 256.4L368.8 254L363.2 251.6L357.6 249.2L352 246.8L346.4 244.4L340.6 242.4L334.8 240.4z"/><path fill="#00f3fb" stroke="#00f3fb" d="M346.4 244.4L352 246.8L357.6 249.2L363.2 251.6L368.8 254L374.4 256.4L380 258.8L385.6 261.2L391.2 263.6L396.8 266L402.4 268.4L408 270.8L413.5 273.2L419.1 275.6L424.7 278L425.7 276.2L420.1 273.8L414.5 271.4L408.9 269L403.3 266.6L397.8 264.2L392.2 261.8L386.6 259.4L381 257L375.4 254.6L369.6 252.5L363.8 250.5L358 248.5L352.2 246.5L346.4 244.4z"/><path fill="#00f0fd" stroke="#00f0fd" d="M369.6 252.5L375.4 254.6L381 257L386.6 259.4L392.2 261.8L397.8 264.2L403.3 266.6L408.9 269L414.5 271.4L420.1 273.8L425.7 276.2L426.7 274.4L421.1 272L415.5 269.6L409.9 267.2L404.3 264.8L398.6 262.6L392.8 260.6L387 258.6L381.2 256.5L375.4 254.5L369.6 252.5z"/><path fill="#00eefe" stroke="#00eefe" d="M398.6 262.6L404.3 264.8L409.9 267.2L415.5 269.6L421.1 272L426.7 274.4L427.7 272.7L421.9 270.7L416.1 268.6L410.3 266.6L404.4 264.6L398.6 262.6z"/><path fill="#ff2b00" stroke="#ff2b00" d="M276.2 301.9L281.9 304L281.9 304L275.3 302.1z"/><path fill="#ff2c00" stroke="#ff2c00" d="M275.3 302.1L281.9 304L281.9 304L274.3 302.3z"/><path fill="#ff2d00" stroke="#ff2d00" d="M274.3 302.3L281.9 304L281.9 304L273.4 302.5z"/><path fill="#ff2e00" stroke="#ff2e00" d="M273.4 302.5L281.9 304L281.9 304L272.4 302.6z"/><path fill="#ff3000" stroke="#ff3000" d="M272.4 302.6L281.9 304L287.7 306.2L287.7 306.2L279.6 304.5L271.5 302.8z"/><path fill="#ff3200" stroke="#ff3200" d="M271.5 302.8L279.6 304.5L287.7 306.2L287.7 306.2L278 304.8L270.5 302.9z"/><path fill="#ff3500" stroke="#ff3500" d="M270.5 302.9L278 304.8L287.7 306.2L293.4 308.4L293.4 308.4L284.5 306.8L276.7 305L269.5 302.9z"/><path fill="#ff3800" stroke="#ff3800" d="M269.5 302.9L276.7 305L284.5 306.8L293.4 308.4L299.1 310.5L299.1 310.5L290.9 308.9L282.8 307.1L275.5 305.1L268.6 303z"/><path fill="#ff3c00" stroke="#ff3c00" d="M268.6 303L275.5 305.1L282.8 307.1L290.9 308.9L299.1 310.5L304.8 312.7L304.8 312.7L297.1 310.9L288.7 309.2L281.4 307.2L274.4 305.1L267.6 303z"/><path fill="#ff4000" stroke="#ff4000" d="M267.6 303L274.4 305.1L281.4 307.2L288.7 309.2L297.1 310.9L304.8 312.7L310.5 314.8L310.5 314.8L302.9 313.1L294.5 311.4L287.1 309.4L280.1 307.3L273.3 305.2L266.7 303z"/><path fill="#ff4500" stroke="#ff4500" d="M266.7 303L273.3 305.2L280.1 307.3L287.1 309.4L294.5 311.4L302.9 313.1L310.5 314.8L316.2 317L316.2 317L308.2 315.3L300 313.5L292.7 311.5L285.7 309.5L279 307.3L272.3 305.2L265.7 303z"/><path fill="#ff4a00" stroke="#ff4a00" d="M265.7 303L272.3 305.2L279 307.3L285.7 309.5L292.7 311.5L300 313.5L308.2 315.3L316.2 317L321.9 319.1L321.9 319.1L313.2 317.6L305.4 315.7L298.2 313.7L291.2 311.6L284.5 309.5L277.8 307.3L271.3 305.1L264.8 302.9z"/><path fill="#ff5000" stroke="#ff5000" d="M264.8 302.9L271.3 305.1L277.8 307.3L284.5 309.5L291.2 311.6L298.2 313.7L305.4 315.7L313.2 317.6L321.9 319.1L327.6 321.3L327.6 321.3L318.2 319.9L310.6 317.9L303.5 315.9L296.6 313.8L289.9 311.6L283.3 309.5L276.7 307.3L270.2 305.1L263.8 302.9z"/><path fill="#ff5600" stroke="#ff5600" d="M263.8 302.9L270.2 305.1L276.7 307.3L283.3 309.5L289.9 311.6L296.6 313.8L303.5 315.9L310.6 317.9L318.2 319.9L327.6 321.3L333.3 323.4L339.1 325.6L339.1 325.6L331.4 323.8L323 322.1L315.7 320.1L308.7 318.1L301.9 315.9L295.2 313.8L288.6 311.6L282.1 309.4L275.6 307.2L269.2 305L262.8 302.8z"/><path fill="#ff5c00" stroke="#ff5c00" d="M262.8 302.8L269.2 305L275.6 307.2L282.1 309.4L288.6 311.6L295.2 313.8L301.9 315.9L308.7 318.1L315.7 320.1L323 322.1L331.4 323.8L339.1 325.6L344.8 327.7L344.8 327.7L335.5 326.3L327.8 324.4L320.7 322.3L313.8 320.2L307.1 318.1L300.5 315.9L293.9 313.7L287.4 311.5L281 309.3L274.6 307.1L268.2 304.9L261.9 302.6z"/><path fill="#ff6300" stroke="#ff6300" d="M261.9 302.6L268.2 304.9L274.6 307.1L281 309.3L287.4 311.5L293.9 313.7L300.5 315.9L307.1 318.1L313.8 320.2L320.7 322.3L327.8 324.4L335.5 326.3L344.8 327.7L350.5 329.9L356.2 332L356.2 332L348.1 330.4L339.9 328.6L332.7 326.6L325.7 324.5L318.9 322.4L312.2 320.2L305.7 318.1L299.1 315.9L292.7 313.7L286.3 311.4L279.9 309.2L273.5 307L267.2 304.7L260.9 302.5z"/><path fill="#ff6b00" stroke="#ff6b00" d="M260.9 302.5L267.2 304.7L273.5 307L279.9 309.2L286.3 311.4L292.7 313.7L299.1 315.9L305.7 318.1L312.2 320.2L318.9 322.4L325.7 324.5L332.7 326.6L339.9 328.6L348.1 330.4L356.2 332L361.9 334.2L367.6 336.3L367.6 336.3L361 334.4L351.9 332.8L344.5 330.9L337.4 328.8L330.6 326.7L323.9 324.5L317.3 322.4L310.8 320.2L304.3 318L297.9 315.8L291.5 313.5L285.1 311.3L278.8 309.1L272.5 306.8L266.2 304.6L260 302.3z"/><path fill="#ff7300" stroke="#ff7300" d="M260 302.3L266.2 304.6L272.5 306.8L278.8 309.1L285.1 311.3L291.5 313.5L297.9 315.8L304.3 318L310.8 320.2L317.3 322.4L323.9 324.5L330.6 326.7L337.4 328.8L344.5 330.9L351.9 332.8L361 334.4L367.6 336.3L363.7 337.1L356.2 335.1L349.1 333.1L342.2 331L335.5 328.8L328.9 326.7L322.3 324.5L315.9 322.3L309.4 320.1L303 317.9L296.7 315.6L290.3 313.4L284 311.1L277.8 308.9L271.5 306.6L265.2 304.4L259 302.1z"/><path fill="#ff7b00" stroke="#ff7b00" d="M259 302.1L265.2 304.4L271.5 306.6L277.8 308.9L284 311.1L290.3 313.4L296.7 315.6L303 317.9L309.4 320.1L315.9 322.3L322.3 324.5L328.9 326.7L335.5 328.8L342.2 331L349.1 333.1L356.2 335.1L363.7 337.1L360.6 337.4L353.7 335.3L347 333.1L340.4 331L333.8 328.8L327.3 326.6L320.9 324.4L314.5 322.2L308.1 319.9L301.8 317.7L295.5 315.5L289.2 313.2L282.9 311L276.7 308.7L270.5 306.4L264.3 304.2L258.1 301.9z"/><path fill="#ff8400" stroke="#ff8400" d="M258.1 301.9L264.3 304.2L270.5 306.4L276.7 308.7L282.9 311L289.2 313.2L295.5 315.5L301.8 317.7L308.1 319.9L314.5 322.2L320.9 324.4L327.3 326.6L333.8 328.8L340.4 331L347 333.1L353.7 335.3L360.6 337.4L358.4 337.4L351.8 335.3L345.2 333.1L338.7 330.9L332.3 328.7L325.9 326.5L319.5 324.2L313.2 322L306.9 319.8L300.6 317.5L294.4 315.3L288.1 313L281.9 310.7L275.7 308.5L269.5 306.2L263.3 303.9L257.1 301.6z"/><path fill="#ff8e00" stroke="#ff8e00" d="M257.1 301.6L263.3 303.9L269.5 306.2L275.7 308.5L281.9 310.7L288.1 313L294.4 315.3L300.6 317.5L306.9 319.8L313.2 322L319.5 324.2L325.9 326.5L332.3 328.7L338.7 330.9L345.2 333.1L351.8 335.3L358.4 337.4L356.5 337.4L350.1 335.2L343.6 333L337.2 330.7L330.9 328.5L324.5 326.3L318.2 324L312 321.8L305.7 319.5L299.5 317.3L293.2 315L287 312.7L280.8 310.5L274.6 308.2L268.5 305.9L262.3 303.6L256.1 301.4z"/><path fill="#ff9800" stroke="#ff9800" d="M256.1 301.4L262.3 303.6L268.5 305.9L274.6 308.2L280.8 310.5L287 312.7L293.2 315L299.5 317.3L305.7 319.5L312 321.8L318.2 324L324.5 326.3L330.9 328.5L337.2 330.7L343.6 333L350.1 335.2L356.5 337.4L354.9 337.2L348.5 335L342.1 332.8L335.8 330.6L329.5 328.3L323.2 326.1L317 323.8L310.7 321.5L304.5 319.3L298.3 317L292.1 314.7L285.9 312.5L279.8 310.2L273.6 307.9L267.5 305.6L261.3 303.4L255.2 301.1z"/><path fill="#ffa300" stroke="#ffa300" d="M255.2 301.1L261.3 303.4L267.5 305.6L273.6 307.9L279.8 310.2L285.9 312.5L292.1 314.7L298.3 317L304.5 319.3L310.7 321.5L317 323.8L323.2 326.1L329.5 328.3L335.8 330.6L342.1 332.8L348.5 335L354.9 337.2L353.4 337L347 334.8L340.7 332.6L334.5 330.3L328.2 328.1L322 325.8L315.8 323.5L309.6 321.3L303.4 319L297.2 316.7L291 314.5L284.9 312.2L278.7 309.9L272.6 307.6L266.5 305.3L260.3 303L254.2 300.7z"/><path fill="#ffae00" stroke="#ffae00" d="M254.2 300.7L260.3 303L266.5 305.3L272.6 307.6L278.7 309.9L284.9 312.2L291 314.5L297.2 316.7L303.4 319L309.6 321.3L315.8 323.5L322 325.8L328.2 328.1L334.5 330.3L340.7 332.6L347 334.8L353.4 337L351.9 336.8L345.7 334.6L339.4 332.3L333.2 330L327 327.8L320.8 325.5L314.6 323.2L308.4 321L302.3 318.7L296.1 316.4L290 314.1L283.8 311.8L277.7 309.6L271.6 307.3L265.5 305L259.4 302.7L253.3 300.4z"/><path fill="#ffba00" stroke="#ffba00" d="M253.3 300.4L259.4 302.7L265.5 305L271.6 307.3L277.7 309.6L283.8 311.8L290 314.1L296.1 316.4L302.3 318.7L308.4 321L314.6 323.2L320.8 325.5L327 327.8L333.2 330L339.4 332.3L345.7 334.6L351.9 336.8L350.5 336.5L344.3 334.3L338.1 332L331.9 329.7L325.8 327.5L319.6 325.2L313.4 322.9L307.3 320.6L301.1 318.3L295 316.1L288.9 313.8L282.8 311.5L276.7 309.2L270.6 306.9L264.5 304.6L258.4 302.3L252.3 300z"/><path fill="#ffc700" stroke="#ffc700" d="M252.3 300L258.4 302.3L264.5 304.6L270.6 306.9L276.7 309.2L282.8 311.5L288.9 313.8L295 316.1L301.1 318.3L307.3 320.6L313.4 322.9L319.6 325.2L325.8 327.5L331.9 329.7L338.1 332L344.3 334.3L350.5 336.5L349.2 336.2L343 333.9L336.9 331.7L330.7 329.4L324.6 327.1L318.4 324.8L312.3 322.5L306.2 320.3L300 318L293.9 315.7L287.8 313.4L281.7 311.1L275.7 308.8L269.6 306.5L263.5 304.2L257.4 301.9L251.4 299.6z"/><path fill="#ffd400" stroke="#ffd400" d="M251.4 299.6L257.4 301.9L263.5 304.2L269.6 306.5L275.7 308.8L281.7 311.1L287.8 313.4L293.9 315.7L300 318L306.2 320.3L312.3 322.5L318.4 324.8L324.6 327.1L330.7 329.4L336.9 331.7L343 333.9L349.2 336.2L347.9 335.8L341.8 333.6L335.7 331.3L329.5 329L323.4 326.7L317.3 324.4L311.2 322.2L305.1 319.9L299 317.6L292.9 315.3L286.8 313L280.7 310.7L274.6 308.4L268.6 306.1L262.5 303.8L256.5 301.5L250.4 299.2z"/><path fill="#ffe100" stroke="#ffe100" d="M250.4 299.2L256.5 301.5L262.5 303.8L268.6 306.1L274.6 308.4L280.7 310.7L286.8 313L292.9 315.3L299 317.6L305.1 319.9L311.2 322.2L317.3 324.4L323.4 326.7L329.5 329L335.7 331.3L341.8 333.6L347.9 335.8L346.7 335.5L340.6 333.2L334.5 330.9L328.3 328.6L322.2 326.3L316.1 324L310.1 321.7L304 319.4L297.9 317.1L291.8 314.9L285.8 312.6L279.7 310.3L273.6 308L267.6 305.7L261.5 303.4L255.5 301L249.5 298.7z"/><path fill="#fff000" stroke="#fff000" d="M249.5 298.7L255.5 301L261.5 303.4L267.6 305.7L273.6 308L279.7 310.3L285.8 312.6L291.8 314.9L297.9 317.1L304 319.4L310.1 321.7L316.1 324L322.2 326.3L328.3 328.6L334.5 330.9L340.6 333.2L346.7 335.5L345.5 335L339.4 332.7L333.3 330.5L327.2 328.2L321.1 325.9L315 323.6L309 321.3L302.9 319L296.8 316.7L290.8 314.4L284.7 312.1L278.7 309.8L272.6 307.5L266.6 305.2L260.6 302.9L254.5 300.6L248.5 298.3z"/><path fill="#fff400" stroke="#fff400" d="M248.5 298.3L254.5 300.6L260.6 302.9L266.6 305.2L272.6 307.5L278.7 309.8L284.7 312.1L290.8 314.4L296.8 316.7L302.9 319L309 321.3L315 323.6L321.1 325.9L327.2 328.2L333.3 330.5L339.4 332.7L345.5 335L344.3 334.6L338.2 332.3L332.1 330L326.1 327.7L320 325.4L313.9 323.1L307.9 320.8L301.8 318.5L295.8 316.2L289.7 313.9L283.7 311.6L277.7 309.3L271.6 307L265.6 304.7L259.6 302.4L253.6 300.1L247.5 297.8z"/><path fill="#fff600" stroke="#fff600" d="M247.5 297.8L253.6 300.1L259.6 302.4L265.6 304.7L271.6 307L277.7 309.3L283.7 311.6L289.7 313.9L295.8 316.2L301.8 318.5L307.9 320.8L313.9 323.1L320 325.4L326.1 327.7L332.1 330L338.2 332.3L344.3 334.6L343.1 334.1L337.1 331.8L331 329.5L324.9 327.2L318.9 324.9L312.8 322.6L306.8 320.3L300.8 318L294.7 315.7L288.7 313.4L282.7 311.1L276.6 308.8L270.6 306.5L264.6 304.2L258.6 301.9L252.6 299.6L246.6 297.2z"/><path fill="#fff800" stroke="#fff800" d="M246.6 297.2L252.6 299.6L258.6 301.9L264.6 304.2L270.6 306.5L276.6 308.8L282.7 311.1L288.7 313.4L294.7 315.7L300.8 318L306.8 320.3L312.8 322.6L318.9 324.9L324.9 327.2L331 329.5L337.1 331.8L343.1 334.1L342 333.6L335.9 331.3L329.9 329L323.8 326.7L317.8 324.4L311.8 322.1L305.7 319.8L299.7 317.5L293.7 315.2L287.7 312.9L281.7 310.5L275.6 308.2L269.6 305.9L263.6 303.6L257.6 301.3L251.6 299L245.6 296.7z"/><path fill="#fffa00" stroke="#fffa00" d="M245.6 296.7L251.6 299L257.6 301.3L263.6 303.6L269.6 305.9L275.6 308.2L281.7 310.5L287.7 312.9L293.7 315.2L299.7 317.5L305.7 319.8L311.8 322.1L317.8 324.4L323.8 326.7L329.9 329L335.9 331.3L342 333.6L340.8 333L334.8 330.7L328.8 328.4L322.7 326.1L316.7 323.8L310.7 321.5L304.7 319.2L298.7 316.9L292.6 314.6L286.6 312.3L280.6 310L274.6 307.7L268.6 305.4L262.6 303.1L256.7 300.7L250.7 298.4L244.7 296.1z"/><path fill="#fffc00" stroke="#fffc00" d="M244.7 296.1L250.7 298.4L256.7 300.7L262.6 303.1L268.6 305.4L274.6 307.7L280.6 310L286.6 312.3L292.6 314.6L298.7 316.9L304.7 319.2L310.7 321.5L316.7 323.8L322.7 326.1L328.8 328.4L334.8 330.7L340.8 333L339.7 332.4L333.7 330.1L327.7 327.8L321.6 325.5L315.6 323.2L309.6 320.9L303.6 318.6L297.6 316.3L291.6 314L285.6 311.7L279.6 309.4L273.6 307.1L267.6 304.8L261.7 302.5L255.7 300.1L249.7 297.8L243.7 295.5z"/><path fill="#fffd00" stroke="#fffd00" d="M243.7 295.5L249.7 297.8L255.7 300.1L261.7 302.5L267.6 304.8L273.6 307.1L279.6 309.4L285.6 311.7L291.6 314L297.6 316.3L303.6 318.6L309.6 320.9L315.6 323.2L321.6 325.5L327.7 327.8L333.7 330.1L339.7 332.4L338.6 331.8L332.6 329.5L326.6 327.2L320.6 324.9L314.6 322.6L308.6 320.3L302.6 318L296.6 315.7L290.6 313.4L284.6 311.1L278.6 308.8L272.6 306.5L266.7 304.1L260.7 301.8L254.7 299.5L248.7 297.2L242.8 294.9z"/><path fill="#fffe00" stroke="#fffe00" d="M242.8 294.9L248.7 297.2L254.7 299.5L260.7 301.8L266.7 304.1L272.6 306.5L278.6 308.8L284.6 311.1L290.6 313.4L296.6 315.7L302.6 318L308.6 320.3L314.6 322.6L320.6 324.9L326.6 327.2L332.6 329.5L338.6 331.8L337.5 331.2L331.5 328.9L325.5 326.6L319.5 324.3L313.5 322L307.5 319.7L301.5 317.4L295.6 315L289.6 312.7L283.6 310.4L277.6 308.1L271.6 305.8L265.7 303.5L259.7 301.2L253.7 298.9L247.8 296.6L241.8 294.2z"/><path fill="#fffe00" stroke="#fffe00" d="M241.8 294.2L247.8 296.6L253.7 298.9L259.7 301.2L265.7 303.5L271.6 305.8L277.6 308.1L283.6 310.4L289.6 312.7L295.6 315L301.5 317.4L307.5 319.7L313.5 322L319.5 324.3L325.5 326.6L331.5 328.9L337.5 331.2L336.4 330.5L330.4 328.2L324.4 325.9L318.4 323.6L312.5 321.3L306.5 319L300.5 316.7L294.5 314.4L288.6 312.1L282.6 309.8L276.6 307.4L270.7 305.1L264.7 302.8L258.7 300.5L252.8 298.2L246.8 295.9L240.9 293.6z"/><path fill="#fcff00" stroke="#fcff00" d="M240.9 293.6L246.8 295.9L252.8 298.2L258.7 300.5L264.7 302.8L270.7 305.1L276.6 307.4L282.6 309.8L288.6 312.1L294.5 314.4L300.5 316.7L306.5 319L312.5 321.3L318.4 323.6L324.4 325.9L330.4 328.2L336.4 330.5L335.3 329.8L329.3 327.5L323.4 325.2L317.4 322.9L311.4 320.6L305.4 318.3L299.5 316L293.5 313.7L287.5 311.4L281.6 309.1L275.6 306.8L269.7 304.4L263.7 302.1L257.7 299.8L251.8 297.5L245.8 295.2L239.9 292.9z"/><path fill="#edfd00" stroke="#edfd00" d="M239.9 292.9L245.8 295.2L251.8 297.5L257.7 299.8L263.7 302.1L269.7 304.4L275.6 306.8L281.6 309.1L287.5 311.4L293.5 313.7L299.5 316L305.4 318.3L311.4 320.6L317.4 322.9L323.4 325.2L329.3 327.5L335.3 329.8L334.2 329.1L328.3 326.8L322.3 324.5L316.3 322.2L310.4 319.9L304.4 317.6L298.4 315.3L292.5 313L286.5 310.6L280.6 308.3L274.6 306L268.7 303.7L262.7 301.4L256.8 299.1L250.8 296.8L244.9 294.5L238.9 292.1z"/><path fill="#defc00" stroke="#defc00" d="M238.9 292.1L244.9 294.5L250.8 296.8L256.8 299.1L262.7 301.4L268.7 303.7L274.6 306L280.6 308.3L286.5 310.6L292.5 313L298.4 315.3L304.4 317.6L310.4 319.9L316.3 322.2L322.3 324.5L328.3 326.8L334.2 329.1L333.2 328.4L327.2 326.1L321.2 323.8L315.3 321.4L309.3 319.1L303.4 316.8L297.4 314.5L291.5 312.2L285.5 309.9L279.6 307.6L273.6 305.3L267.7 303L261.7 300.7L255.8 298.3L249.9 296L243.9 293.7L238 291.4z"/><path fill="#cffb00" stroke="#cffb00" d="M238 291.4L243.9 293.7L249.9 296L255.8 298.3L261.7 300.7L267.7 303L273.6 305.3L279.6 307.6L285.5 309.9L291.5 312.2L297.4 314.5L303.4 316.8L309.3 319.1L315.3 321.4L321.2 323.8L327.2 326.1L333.2 328.4L332.1 327.6L326.1 325.3L320.2 323L314.2 320.7L308.3 318.4L302.3 316.1L296.4 313.7L290.5 311.4L284.5 309.1L278.6 306.8L272.6 304.5L266.7 302.2L260.8 299.9L254.8 297.6L248.9 295.2L243 292.9L237 290.6z"/><path fill="#b7f800" stroke="#b7f800" d="M237 290.6L243 292.9L248.9 295.2L254.8 297.6L260.8 299.9L266.7 302.2L272.6 304.5L278.6 306.8L284.5 309.1L290.5 311.4L296.4 313.7L302.3 316.1L308.3 318.4L314.2 320.7L320.2 323L326.1 325.3L332.1 327.6L331 326.8L325.1 324.5L319.1 322.2L313.2 319.9L307.3 317.6L301.3 315.3L295.4 312.9L289.4 310.6L283.5 308.3L277.6 306L271.6 303.7L265.7 301.4L259.8 299.1L253.9 296.8L247.9 294.4L242 292.1L236.1 289.8z"/><path fill="#98f500" stroke="#98f500" d="M236.1 289.8L242 292.1L247.9 294.4L253.9 296.8L259.8 299.1L265.7 301.4L271.6 303.7L277.6 306L283.5 308.3L289.4 310.6L295.4 312.9L301.3 315.3L307.3 317.6L313.2 319.9L319.1 322.2L325.1 324.5L331 326.8L330 326L324 323.7L318.1 321.3L312.2 319L306.2 316.7L300.3 314.4L294.4 312.1L288.4 309.8L282.5 307.5L276.6 305.2L270.7 302.9L264.7 300.6L258.8 298.2L252.9 295.9L247 293.6L241 291.3L235.1 289z"/><path fill="#79f200" stroke="#79f200" d="M235.1 289L241 291.3L247 293.6L252.9 295.9L258.8 298.2L264.7 300.6L270.7 302.9L276.6 305.2L282.5 307.5L288.4 309.8L294.4 312.1L300.3 314.4L306.2 316.7L312.2 319L318.1 321.3L324 323.7L330 326L328.9 325.1L323 322.8L317.1 320.5L311.1 318.2L305.2 315.9L299.3 313.6L293.4 311.3L287.4 308.9L281.5 306.6L275.6 304.3L269.7 302L263.7 299.7L257.8 297.4L251.9 295.1L246 292.8L240.1 290.5L234.2 288.1z"/><path fill="#5cf000" stroke="#5cf000" d="M234.2 288.1L240.1 290.5L246 292.8L251.9 295.1L257.8 297.4L263.7 299.7L269.7 302L275.6 304.3L281.5 306.6L287.4 308.9L293.4 311.3L299.3 313.6L305.2 315.9L311.1 318.2L317.1 320.5L323 322.8L328.9 325.1L327.9 324.2L322 321.9L316 319.6L310.1 317.3L304.2 315L298.3 312.7L292.4 310.4L286.4 308.1L280.5 305.8L274.6 303.4L268.7 301.1L262.8 298.8L256.9 296.5L250.9 294.2L245 291.9L239.1 289.6L233.2 287.3z"/><path fill="#4cf000" stroke="#4cf000" d="M233.2 287.3L239.1 289.6L245 291.9L250.9 294.2L256.9 296.5L262.8 298.8L268.7 301.1L274.6 303.4L280.5 305.8L286.4 308.1L292.4 310.4L298.3 312.7L304.2 315L310.1 317.3L316 319.6L322 321.9L327.9 324.2L326.9 323.3L320.9 321L315 318.7L309.1 316.4L303.2 314.1L297.3 311.8L291.3 309.5L285.4 307.2L279.5 304.8L273.6 302.5L267.7 300.2L261.8 297.9L255.9 295.6L250 293.3L244.1 291L238.2 288.7L232.3 286.4z"/><path fill="#3bf000" stroke="#3bf000" d="M232.3 286.4L238.2 288.7L244.1 291L250 293.3L255.9 295.6L261.8 297.9L267.7 300.2L273.6 302.5L279.5 304.8L285.4 307.2L291.3 309.5L297.3 311.8L303.2 314.1L309.1 316.4L315 318.7L320.9 321L326.9 323.3L325.8 322.4L319.9 320.1L314 317.8L308.1 315.5L302.2 313.1L296.3 310.8L290.3 308.5L284.4 306.2L278.5 303.9L272.6 301.6L266.7 299.3L260.8 297L254.9 294.7L249 292.4L243.1 290.1L237.2 287.8L231.3 285.4z"/><path fill="#2af000" stroke="#2af000" d="M231.3 285.4L237.2 287.8L243.1 290.1L249 292.4L254.9 294.7L260.8 297L266.7 299.3L272.6 301.6L278.5 303.9L284.4 306.2L290.3 308.5L296.3 310.8L302.2 313.1L308.1 315.5L314 317.8L319.9 320.1L325.8 322.4L324.8 321.4L318.9 319.1L313 316.8L307.1 314.5L301.1 312.2L295.2 309.9L289.3 307.6L283.4 305.3L277.5 303L271.6 300.6L265.7 298.3L259.8 296L253.9 293.7L248 291.4L242.1 289.1L236.2 286.8L230.4 284.5z"/><path fill="#1bf000" stroke="#1bf000" d="M230.4 284.5L236.2 286.8L242.1 289.1L248 291.4L253.9 293.7L259.8 296L265.7 298.3L271.6 300.6L277.5 303L283.4 305.3L289.3 307.6L295.2 309.9L301.1 312.2L307.1 314.5L313 316.8L318.9 319.1L324.8 321.4L323.8 320.4L317.8 318.1L311.9 315.8L306 313.5L300.1 311.2L294.2 308.9L288.3 306.6L282.4 304.3L276.5 302L270.6 299.7L264.8 297.4L258.9 295L253 292.7L247.1 290.4L241.2 288.1L235.3 285.8L229.4 283.5z"/><path fill="#0cf000" stroke="#0cf000" d="M229.4 283.5L235.3 285.8L241.2 288.1L247.1 290.4L253 292.7L258.9 295L264.8 297.4L270.6 299.7L276.5 302L282.4 304.3L288.3 306.6L294.2 308.9L300.1 311.2L306 313.5L311.9 315.8L317.8 318.1L323.8 320.4L322.7 319.4L316.8 317.1L310.9 314.8L305 312.5L299.1 310.2L293.2 307.9L287.3 305.6L281.4 303.3L275.6 301L269.7 298.7L263.8 296.3L257.9 294L252 291.7L246.1 289.4L240.2 287.1L234.3 284.8L228.4 282.5z"/><path fill="#00f002" stroke="#00f002" d="M228.4 282.5L234.3 284.8L240.2 287.1L246.1 289.4L252 291.7L257.9 294L263.8 296.3L269.7 298.7L275.6 301L281.4 303.3L287.3 305.6L293.2 307.9L299.1 310.2L305 312.5L310.9 314.8L316.8 317.1L322.7 319.4L321.7 318.3L315.8 316L309.9 313.7L304 311.4L298.1 309.1L292.2 306.8L286.3 304.5L280.5 302.2L274.6 299.9L268.7 297.6L262.8 295.3L256.9 293L251 290.7L245.1 288.4L239.3 286.1L233.4 283.8L227.5 281.5z"/><path fill="#00f00d" stroke="#00f00d" d="M227.5 281.5L233.4 283.8L239.3 286.1L245.1 288.4L251 290.7L256.9 293L262.8 295.3L268.7 297.6L274.6 299.9L280.5 302.2L286.3 304.5L292.2 306.8L298.1 309.1L304 311.4L309.9 313.7L315.8 316L321.7 318.3L320.7 317.3L314.8 315L308.9 312.7L303 310.4L297.1 308.1L291.2 305.8L285.3 303.5L279.5 301.2L273.6 298.9L267.7 296.6L261.8 294.3L255.9 291.9L250.1 289.6L244.2 287.3L238.3 285L232.4 282.7L226.5 280.4z"/><path fill="#00f018" stroke="#00f018" d="M226.5 280.4L232.4 282.7L238.3 285L244.2 287.3L250.1 289.6L255.9 291.9L261.8 294.3L267.7 296.6L273.6 298.9L279.5 301.2L285.3 303.5L291.2 305.8L297.1 308.1L303 310.4L308.9 312.7L314.8 315L320.7 317.3L319.7 316.2L313.8 313.9L307.9 311.6L302 309.3L296.1 307L290.2 304.7L284.4 302.4L278.5 300.1L272.6 297.8L266.7 295.5L260.8 293.2L255 290.9L249.1 288.6L243.2 286.3L237.3 284L231.5 281.7L225.6 279.4z"/><path fill="#00f02b" stroke="#00f02b" d="M225.6 279.4L231.5 281.7L237.3 284L243.2 286.3L249.1 288.6L255 290.9L260.8 293.2L266.7 295.5L272.6 297.8L278.5 300.1L284.4 302.4L290.2 304.7L296.1 307L302 309.3L307.9 311.6L313.8 313.9L319.7 316.2L318.6 315L312.8 312.7L306.9 310.4L301 308.1L295.1 305.8L289.2 303.5L283.4 301.2L277.5 298.9L271.6 296.7L265.7 294.4L259.9 292.1L254 289.8L248.1 287.5L242.2 285.2L236.4 282.9L230.5 280.6L224.6 278.3z"/><path fill="#00f047" stroke="#00f047" d="M224.6 278.3L230.5 280.6L236.4 282.9L242.2 285.2L248.1 287.5L254 289.8L259.9 292.1L265.7 294.4L271.6 296.7L277.5 298.9L283.4 301.2L289.2 303.5L295.1 305.8L301 308.1L306.9 310.4L312.8 312.7L318.6 315L317.6 313.9L311.7 311.6L305.9 309.3L300 307L294.1 304.7L288.2 302.4L282.4 300.1L276.5 297.8L270.6 295.5L264.8 293.2L258.9 290.9L253 288.6L247.1 286.3L241.3 284L235.4 281.7L229.5 279.4L223.7 277.1z"/><path fill="#00f063" stroke="#00f063" d="M223.7 277.1L229.5 279.4L235.4 281.7L241.3 284L247.1 286.3L253 288.6L258.9 290.9L264.8 293.2L270.6 295.5L276.5 297.8L282.4 300.1L288.2 302.4L294.1 304.7L300 307L305.9 309.3L311.7 311.6L317.6 313.9L316.6 312.7L310.7 310.4L304.9 308.1L299 305.8L293.1 303.5L287.3 301.2L281.4 298.9L275.5 296.6L269.6 294.3L263.8 292L257.9 289.8L252 287.5L246.2 285.2L240.3 282.9L234.4 280.6L228.6 278.3L222.7 276z"/><path fill="#00f177" stroke="#00f177" d="M222.7 276L228.6 278.3L234.4 280.6L240.3 282.9L246.2 285.2L252 287.5L257.9 289.8L263.8 292L269.6 294.3L275.5 296.6L281.4 298.9L287.3 301.2L293.1 303.5L299 305.8L304.9 308.1L310.7 310.4L316.6 312.7L315.6 311.5L309.7 309.2L303.9 306.9L298 304.6L292.1 302.3L286.3 300L280.4 297.7L274.5 295.4L268.7 293.1L262.8 290.9L256.9 288.6L251.1 286.3L245.2 284L239.3 281.7L233.5 279.4L227.6 277.1L221.8 274.8z"/><path fill="#00f28a" stroke="#00f28a" d="M221.8 274.8L227.6 277.1L233.5 279.4L239.3 281.7L245.2 284L251.1 286.3L256.9 288.6L262.8 290.9L268.7 293.1L274.5 295.4L280.4 297.7L286.3 300L292.1 302.3L298 304.6L303.9 306.9L309.7 309.2L315.6 311.5L314.6 310.3L308.7 308L302.9 305.7L297 303.4L291.1 301.1L285.3 298.8L279.4 296.5L273.5 294.2L267.7 291.9L261.8 289.6L256 287.3L250.1 285.1L244.2 282.8L238.4 280.5L232.5 278.2L226.7 275.9L220.8 273.6z"/><path fill="#00f4a4" stroke="#00f4a4" d="M220.8 273.6L226.7 275.9L232.5 278.2L238.4 280.5L244.2 282.8L250.1 285.1L256 287.3L261.8 289.6L267.7 291.9L273.5 294.2L279.4 296.5L285.3 298.8L291.1 301.1L297 303.4L302.9 305.7L308.7 308L314.6 310.3L313.6 309L307.7 306.7L301.9 304.4L296 302.1L290.1 299.8L284.3 297.5L278.4 295.3L272.6 293L266.7 290.7L260.8 288.4L255 286.1L249.1 283.8L243.3 281.5L237.4 279.2L231.6 276.9L225.7 274.7L219.9 272.4z"/><path fill="#00f6cc" stroke="#00f6cc" d="M219.9 272.4L225.7 274.7L231.6 276.9L237.4 279.2L243.3 281.5L249.1 283.8L255 286.1L260.8 288.4L266.7 290.7L272.6 293L278.4 295.3L284.3 297.5L290.1 299.8L296 302.1L301.9 304.4L307.7 306.7L313.6 309L312.6 307.7L306.7 305.4L300.9 303.1L295 300.8L289.1 298.6L283.3 296.3L277.4 294L271.6 291.7L265.7 289.4L259.9 287.1L254 284.8L248.2 282.6L242.3 280.3L236.5 278L230.6 275.7L224.8 273.4L218.9 271.1z"/><path fill="#00f8f6" stroke="#00f8f6" d="M218.9 271.1L224.8 273.4L230.6 275.7L236.5 278L242.3 280.3L248.2 282.6L254 284.8L259.9 287.1L265.7 289.4L271.6 291.7L277.4 294L283.3 296.3L289.1 298.6L295 300.8L300.9 303.1L306.7 305.4L312.6 307.7L311.6 306.4L305.7 304.1L299.9 301.8L294 299.5L288.2 297.2L282.3 295L276.4 292.7L270.6 290.4L264.7 288.1L258.9 285.8L253 283.5L247.2 281.3L241.3 279L235.5 276.7L229.7 274.4L223.8 272.1L218 269.8z"/><path fill="#00f6fa" stroke="#00f6fa" d="M218 269.8L223.8 272.1L229.7 274.4L235.5 276.7L241.3 279L247.2 281.3L253 283.5L258.9 285.8L264.7 288.1L270.6 290.4L276.4 292.7L282.3 295L288.2 297.2L294 299.5L299.9 301.8L305.7 304.1L311.6 306.4L310.6 305L304.7 302.8L298.9 300.5L293 298.2L287.2 295.9L281.3 293.6L275.5 291.4L269.6 289.1L263.8 286.8L257.9 284.5L252.1 282.2L246.2 279.9L240.4 277.7L234.5 275.4L228.7 273.1L222.8 270.8L217 268.5z"/><path fill="#00f3fb" stroke="#00f3fb" d="M217 268.5L222.8 270.8L228.7 273.1L234.5 275.4L240.4 277.7L246.2 279.9L252.1 282.2L257.9 284.5L263.8 286.8L269.6 289.1L275.5 291.4L281.3 293.6L287.2 295.9L293 298.2L298.9 300.5L304.7 302.8L310.6 305L309.6 303.7L303.7 301.4L297.9 299.1L292 296.8L286.2 294.6L280.3 292.3L274.5 290L268.6 287.7L262.8 285.4L256.9 283.2L251.1 280.9L245.3 278.6L239.4 276.3L233.6 274L227.7 271.8L221.9 269.5L216.1 267.2z"/><path fill="#00f0fd" stroke="#00f0fd" d="M216.1 267.2L221.9 269.5L227.7 271.8L233.6 274L239.4 276.3L245.3 278.6L251.1 280.9L256.9 283.2L262.8 285.4L268.6 287.7L274.5 290L280.3 292.3L286.2 294.6L292 296.8L297.9 299.1L303.7 301.4L309.6 303.7L308.6 302.3L302.7 300L296.9 297.7L291 295.4L285.2 293.2L279.3 290.9L273.5 288.6L267.7 286.3L261.8 284.1L256 281.8L250.1 279.5L244.3 277.2L238.5 275L232.6 272.7L226.8 270.4L220.9 268.1L215.1 265.8z"/><path fill="#00eefe" stroke="#00eefe" d="M215.1 265.8L220.9 268.1L226.8 270.4L232.6 272.7L238.5 275L244.3 277.2L250.1 279.5L256 281.8L261.8 284.1L267.7 286.3L273.5 288.6L279.3 290.9L285.2 293.2L291 295.4L296.9 297.7L302.7 300L308.6 302.3L307.7 301L301.8 298.7L296 296.5L290.2 294.2L284.3 292L278.5 289.7L272.7 287.4L266.8 285.2L261 282.9L255.2 280.6L249.3 278.4L243.5 276.1L237.7 273.8L231.8 271.6L226 269.3L220.2 267L214.3 264.8z"/></g><path d="M214.3 264.8L216.4 267.7L218.4 270.5L220.5 273.1L222.5 275.7L224.5 278.2L226.6 280.5L228.6 282.7L230.7 284.8L232.7 286.8L234.8 288.7L236.8 290.4L238.9 292.1L240.9 293.6L242.9 295L245 296.3L247 297.5L249.1 298.6L251.1 299.5L253.2 300.4L255.2 301.1L257.3 301.7L259.3 302.2L261.4 302.6L263.4 302.8L265.5 303L267.5 303L269.6 302.9L271.6 302.7L273.7 302.4L275.7 302L277.8 301.5L279.8 300.8L281.8 300.1L283.9 299.2L285.9 298.2L288 297.1L290 295.9L292.1 294.5L294.1 293.1L296.2 291.5L298.2 289.9L300.2 288.1L302.3 286.2L304.3 284.2L306.4 282L308.4 279.8L310.4 277.5L312.5 275L314.5 272.4L316.5 269.7L318.6 266.9L320.6 264L322.6 261L324.7 257.8L326.7 254.6L328.7 251.2L330.7 247.7L332.8 244.1L334.8 240.4L343.2 243.3L351.7 246.3L360.1 249.2L368.6 252.1L377 255.1L385.4 258L393.9 260.9L402.3 263.9L410.8 266.8L419.2 269.7L427.7 272.7L425.6 276.4L423.6 280L421.5 283.5L419.5 286.9L417.5 290.2L415.4 293.4L413.4 296.5L411.3 299.4L409.3 302.3L407.3 305L405.2 307.7L403.2 310.2L401.2 312.6L399.1 314.9L397.1 317.1L395.1 319.2L393 321.2L391 323L389 324.8L386.9 326.4L384.9 327.9L382.9 329.3L380.8 330.6L378.8 331.8L376.8 332.9L374.7 333.8L372.7 334.7L370.7 335.4L368.7 336L366.6 336.5L364.6 336.9L362.6 337.2L360.5 337.4L358.5 337.4L356.5 337.4L354.5 337.2L352.4 336.9L350.4 336.5L348.4 336L346.3 335.3L344.3 334.6L342.3 333.7L340.2 332.7L338.2 331.6L336.2 330.4L334.1 329.1L332.1 327.6L330.1 326L328 324.4L326 322.5L324 320.6L321.9 318.6L319.9 316.4L317.9 314.2L315.8 311.8L313.8 309.3L311.7 306.6L309.7 303.9L307.7 301L299.2 297.7L290.7 294.4L282.2 291.1L273.7 287.8L265.2 284.6L256.8 281.3L248.3 278L239.8 274.7L231.3 271.4L222.8 268.1L214.3 264.8z" fill="none" stroke="#1a1ac8" stroke-width="0.8" stroke-linejoin="round"/><g font-size="4.3" text-anchor="middle" fill="#1c2a1c" stroke="none" letter-spacing="0"><text x="330.6" y="323.8">150.0</text><text x="346.0" y="307.8">300.0</text><text x="354.1" y="297.6">450.0</text><text x="360.8" y="288.6">600.0</text><text x="366.7" y="280.3">750.0</text><text x="372.0" y="272.0">900.0</text><text x="377.5" y="263.0">1050.0</text><text x="430.0" y="273.0">1200.0</text><text x="266.3" y="290.7">1050.0</text><text x="280.5" y="291.2">1200.0</text><text x="271.0" y="296.6">900.0</text><text x="275.0" y="302.1">750.0</text><text x="282.2" y="308.5">600.0</text><text x="289.3" y="314.0">450.0</text><text x="298.1" y="318.7">300.0</text></g><path d="M208.4 247.1L307.2 285.1M210.9 248.0l2.0 -0.5M215.6 249.9l1.2 -0.3M220.3 251.7l2.0 -0.5M224.9 253.5l1.2 -0.3M229.6 255.3l2.0 -0.5M234.3 257.1l1.2 -0.3M239.0 258.9l2.0 -0.5M243.7 260.7l1.2 -0.3M248.4 262.5l2.0 -0.5M253.1 264.3l1.2 -0.3M257.8 266.1l2.0 -0.5M262.5 267.9l1.2 -0.3M267.2 269.7l2.0 -0.5M271.9 271.5l1.2 -0.3M276.6 273.3l2.0 -0.5M281.3 275.1l1.2 -0.3M286.0 276.9l2.0 -0.5M290.7 278.7l1.2 -0.3M295.3 280.5l2.0 -0.5M300.0 282.3l1.2 -0.3M304.7 284.2l2.0 -0.5M307.2 285.1L433.1 256.1M310.3 284.4l-1.9 -0.8M316.3 283.0l-1.2 -0.5M322.3 281.6l-1.9 -0.8M328.3 280.2l-1.2 -0.5M334.3 278.9l-1.9 -0.8M340.2 277.5l-1.2 -0.5M346.2 276.1l-1.9 -0.8M352.2 274.7l-1.2 -0.5M358.2 273.4l-1.9 -0.8M364.2 272.0l-1.2 -0.5M370.1 270.6l-1.9 -0.8M376.1 269.2l-1.2 -0.5M382.1 267.8l-1.9 -0.8M388.1 266.5l-1.2 -0.5M394.1 265.1l-1.9 -0.8M400.1 263.7l-1.2 -0.5M406.0 262.3l-1.9 -0.8M412.0 261.0l-1.2 -0.5M418.0 259.6l-1.9 -0.8M424.0 258.2l-1.2 -0.5M430.0 256.8l-1.9 -0.8M307.4 363.5L307.2 285.1M307.4 361.1l-1.9 -0.8M307.4 356.3l-1.2 -0.5M307.4 351.4l-1.2 -0.5M307.4 346.5l-1.9 -0.8M307.3 341.6l-1.2 -0.5M307.3 336.7l-1.2 -0.5M307.3 331.8l-1.9 -0.8M307.3 326.9l-1.2 -0.5M307.3 322.1l-1.2 -0.5M307.3 317.2l-1.9 -0.8M307.3 312.3l-1.2 -0.5M307.3 307.4l-1.2 -0.5M307.2 302.5l-1.9 -0.8M307.2 297.6l-1.2 -0.5M307.2 292.7l-1.2 -0.5M307.2 287.8l-1.9 -0.8" fill="none" stroke="#2a2a2a" stroke-width="0.8"/></g><g stroke="#1a1a1a" stroke-width=".22" letter-spacing=".2"><text x="2.5" y="12.9" font-size="12.8" text-anchor="start" >(a)</text><text x="357.6" y="11.8" font-size="12.8" text-anchor="start" >(b)</text><text x="174.3" y="227.1" font-size="12.8" text-anchor="start" >(c)</text><text x="36.7" y="51.6" font-size="7.7" text-anchor="end" >1500</text><text x="36.7" y="64.7" font-size="7.7" text-anchor="end" >1200</text><text x="36.7" y="77.8" font-size="7.7" text-anchor="end" >900</text><text x="36.7" y="90.9" font-size="7.7" text-anchor="end" >600</text><text x="36.7" y="104.0" font-size="7.7" text-anchor="end" >300</text><text x="36.7" y="117.1" font-size="7.7" text-anchor="end" >0</text><text transform="translate(12.6,82) rotate(-90)" font-size="7.7" text-anchor="middle">DS (nm)</text><text x="33.0" y="129.8" font-size="7.7" text-anchor="middle" >0.05</text><text x="53.6" y="138.2" font-size="7.7" text-anchor="middle" >0.06</text><text x="74.1" y="147.3" font-size="7.7" text-anchor="middle" >0.07</text><text x="95.0" y="155.3" font-size="7.7" text-anchor="middle" >0.08</text><text x="115.3" y="163.9" font-size="7.7" text-anchor="middle" >0.09</text><text x="136.4" y="172.2" font-size="7.7" text-anchor="middle" >0.1</text><text x="66.8" y="168.4" font-size="7.7" text-anchor="middle" >% CT-CTO</text><text x="157.4" y="167.5" font-size="7.7" text-anchor="start" >0</text><text x="179.1" y="160.4" font-size="7.7" text-anchor="start" >20</text><text x="201.4" y="151.8" font-size="7.7" text-anchor="start" >40</text><text x="223.7" y="144.1" font-size="7.7" text-anchor="start" >60</text><text x="246.1" y="136.0" font-size="7.7" text-anchor="start" >80</text><text x="268.1" y="128.4" font-size="7.7" text-anchor="start" >100</text><text x="223.5" y="166.3" font-size="7.7" text-anchor="middle" >% S-COS-Mix</text><text x="390.2" y="38.7" font-size="7.7" text-anchor="end" >0.5</text><text x="390.2" y="53.7" font-size="7.7" text-anchor="end" >0.4</text><text x="390.2" y="68.7" font-size="7.7" text-anchor="end" >0.3</text><text x="390.2" y="83.7" font-size="7.7" text-anchor="end" >0.2</text><text x="390.2" y="98.7" font-size="7.7" text-anchor="end" >0.1</text><text x="390.2" y="113.7" font-size="7.7" text-anchor="end" >0</text><text transform="translate(369.3,72.8) rotate(-90)" font-size="7.7" text-anchor="middle">PDI</text><text x="384.3" y="126.0" font-size="7.7" text-anchor="middle" >0.05</text><text x="398.3" y="133.8" font-size="7.7" text-anchor="middle" >0.06</text><text x="412.0" y="141.5" font-size="7.7" text-anchor="middle" >0.07</text><text x="426.8" y="150.0" font-size="7.7" text-anchor="middle" >0.08</text><text x="440.8" y="157.7" font-size="7.7" text-anchor="middle" >0.09</text><text x="454.5" y="165.5" font-size="7.7" text-anchor="middle" >0.1</text><text x="398.7" y="162.1" font-size="7.7" text-anchor="middle" >% CT-CTO</text><text x="477.5" y="161.9" font-size="7.7" text-anchor="middle" >0</text><text x="506.5" y="158.2" font-size="7.7" text-anchor="middle" >20</text><text x="533.2" y="153.9" font-size="7.7" text-anchor="middle" >40</text><text x="560.3" y="150.1" font-size="7.7" text-anchor="middle" >60</text><text x="587.0" y="146.1" font-size="7.7" text-anchor="middle" >80</text><text x="616.0" y="142.0" font-size="7.7" text-anchor="middle" >100</text><text x="550.0" y="171.4" font-size="7.7" text-anchor="middle" >% S-COS-Mix</text><text x="206.7" y="252.0" font-size="7.7" text-anchor="end" >1500</text><text x="206.7" y="266.6" font-size="7.7" text-anchor="end" >1200</text><text x="206.7" y="281.2" font-size="7.7" text-anchor="end" >900</text><text x="206.7" y="295.8" font-size="7.7" text-anchor="end" >600</text><text x="206.7" y="310.4" font-size="7.7" text-anchor="end" >300</text><text x="206.7" y="325.0" font-size="7.7" text-anchor="end" >0</text><text transform="translate(181.9,285) rotate(-90)" font-size="7.7" text-anchor="middle">DS (nm)</text><text x="202.2" y="337.2" font-size="7.7" text-anchor="middle" >0.05</text><text x="221.8" y="344.7" font-size="7.7" text-anchor="middle" >0.06</text><text x="240.6" y="352.0" font-size="7.7" text-anchor="middle" >0.07</text><text x="259.2" y="359.4" font-size="7.7" text-anchor="middle" >0.08</text><text x="277.2" y="366.9" font-size="7.7" text-anchor="middle" >0.09</text><text x="295.0" y="374.3" font-size="7.7" text-anchor="middle" >0.1</text><text x="230.0" y="372.0" font-size="7.7" text-anchor="middle" >% CT-CTO</text><text x="319.5" y="370.3" font-size="7.7" text-anchor="middle" >0</text><text x="345.7" y="364.3" font-size="7.7" text-anchor="middle" >20</text><text x="369.3" y="359.0" font-size="7.7" text-anchor="middle" >40</text><text x="393.5" y="353.1" font-size="7.7" text-anchor="middle" >60</text><text x="416.9" y="347.4" font-size="7.7" text-anchor="middle" >80</text><text x="443.0" y="341.5" font-size="7.7" text-anchor="middle" >100</text><text x="386.3" y="375.1" font-size="7.7" text-anchor="middle" >% S-COS-Mix</text></g><rect x="277.9" y="12.9" width="48.6" height="105.9" fill="#fff" stroke="#222" stroke-width=".9"/><g stroke="#1a1a1a" stroke-width=".2" letter-spacing=".15"><text x="280.7" y="21.6" font-size="7.9" text-anchor="start" >DS (nm)</text><rect x="280.7" y="23.9" width="13.9" height="5.4" fill="#ff0000" stroke="none"/><text x="299.2" y="29.5" font-size="7.9" text-anchor="start" >0.0</text><rect x="280.7" y="32.6" width="13.9" height="5.4" fill="#ff6600" stroke="none"/><text x="299.2" y="38.2" font-size="7.9" text-anchor="start" >150.0</text><rect x="280.7" y="41.4" width="13.9" height="5.4" fill="#fff200" stroke="none"/><text x="299.2" y="47.0" font-size="7.9" text-anchor="start" >300.0</text><rect x="280.7" y="50.1" width="13.9" height="5.4" fill="#ffff00" stroke="none"/><text x="299.2" y="55.8" font-size="7.9" text-anchor="start" >450.0</text><rect x="280.7" y="58.9" width="13.9" height="5.4" fill="#60f000" stroke="none"/><text x="299.2" y="64.5" font-size="7.9" text-anchor="start" >600.0</text><rect x="280.7" y="67.6" width="13.9" height="5.4" fill="#00f000" stroke="none"/><text x="299.2" y="73.2" font-size="7.9" text-anchor="start" >750.0</text><rect x="280.7" y="76.4" width="13.9" height="5.4" fill="#00f068" stroke="none"/><text x="299.2" y="82.0" font-size="7.9" text-anchor="start" >900.0</text><rect x="280.7" y="85.1" width="13.9" height="5.4" fill="#00f8f8" stroke="none"/><text x="299.2" y="90.8" font-size="7.9" text-anchor="start" >1050.0</text><rect x="280.7" y="93.9" width="13.9" height="5.4" fill="#00ecff" stroke="none"/><text x="299.2" y="99.5" font-size="7.9" text-anchor="start" >1200.0</text><rect x="280.7" y="102.6" width="13.9" height="5.4" fill="#1058f0" stroke="none"/><text x="299.2" y="108.2" font-size="7.9" text-anchor="start" >1350.0</text><rect x="280.7" y="111.4" width="13.9" height="5.4" fill="#0000f0" stroke="none"/><text x="299.2" y="117.0" font-size="7.9" text-anchor="start" >1500.0</text></g><rect x="626.3" y="11.9" width="39.9" height="108.1" fill="#fff" stroke="#222" stroke-width=".9"/><g stroke="#1a1a1a" stroke-width=".2" letter-spacing=".15"><text x="629.3" y="20.8" font-size="7.9" text-anchor="start" >PDI</text><rect x="629.3" y="24.3" width="14.2" height="5.4" fill="#ff0000" stroke="none"/><text x="647.8" y="29.9" font-size="7.9" text-anchor="start" >0.0</text><rect x="629.3" y="33.2" width="14.2" height="5.4" fill="#ff6600" stroke="none"/><text x="647.8" y="38.8" font-size="7.9" text-anchor="start" >0.05</text><rect x="629.3" y="42.1" width="14.2" height="5.4" fill="#fff200" stroke="none"/><text x="647.8" y="47.7" font-size="7.9" text-anchor="start" >0.1</text><rect x="629.3" y="50.9" width="14.2" height="5.4" fill="#ffff00" stroke="none"/><text x="647.8" y="56.5" font-size="7.9" text-anchor="start" >0.15</text><rect x="629.3" y="59.8" width="14.2" height="5.4" fill="#60f000" stroke="none"/><text x="647.8" y="65.4" font-size="7.9" text-anchor="start" >0.2</text><rect x="629.3" y="68.7" width="14.2" height="5.4" fill="#00f000" stroke="none"/><text x="647.8" y="74.3" font-size="7.9" text-anchor="start" >0.25</text><rect x="629.3" y="77.6" width="14.2" height="5.4" fill="#00f068" stroke="none"/><text x="647.8" y="83.2" font-size="7.9" text-anchor="start" >0.3</text><rect x="629.3" y="86.5" width="14.2" height="5.4" fill="#00f8f8" stroke="none"/><text x="647.8" y="92.1" font-size="7.9" text-anchor="start" >0.35</text><rect x="629.3" y="95.3" width="14.2" height="5.4" fill="#00ecff" stroke="none"/><text x="647.8" y="100.9" font-size="7.9" text-anchor="start" >0.4</text><rect x="629.3" y="104.2" width="14.2" height="5.4" fill="#1058f0" stroke="none"/><text x="647.8" y="109.8" font-size="7.9" text-anchor="start" >0.45</text><rect x="629.3" y="113.1" width="14.2" height="5.4" fill="#0000f0" stroke="none"/><text x="647.8" y="118.7" font-size="7.9" text-anchor="start" >0.5</text></g><rect x="447.2" y="218.5" width="49.3" height="108.2" fill="#fff" stroke="#222" stroke-width=".9"/><g stroke="#1a1a1a" stroke-width=".2" letter-spacing=".15"><text x="449.8" y="227.6" font-size="7.9" text-anchor="start" >DS (nm)</text><rect x="449.8" y="230.7" width="14.2" height="5.4" fill="#ff0000" stroke="none"/><text x="469.2" y="236.3" font-size="7.9" text-anchor="start" >0.0</text><rect x="449.8" y="239.4" width="14.2" height="5.4" fill="#ff6600" stroke="none"/><text x="469.2" y="245.0" font-size="7.9" text-anchor="start" >150.0</text><rect x="449.8" y="248.2" width="14.2" height="5.4" fill="#fff200" stroke="none"/><text x="469.2" y="253.8" font-size="7.9" text-anchor="start" >300.0</text><rect x="449.8" y="256.9" width="14.2" height="5.4" fill="#ffff00" stroke="none"/><text x="469.2" y="262.5" font-size="7.9" text-anchor="start" >450.0</text><rect x="449.8" y="265.6" width="14.2" height="5.4" fill="#60f000" stroke="none"/><text x="469.2" y="271.2" font-size="7.9" text-anchor="start" >600.0</text><rect x="449.8" y="274.4" width="14.2" height="5.4" fill="#00f000" stroke="none"/><text x="469.2" y="279.9" font-size="7.9" text-anchor="start" >750.0</text><rect x="449.8" y="283.1" width="14.2" height="5.4" fill="#00f068" stroke="none"/><text x="469.2" y="288.7" font-size="7.9" text-anchor="start" >900.0</text><rect x="449.8" y="291.8" width="14.2" height="5.4" fill="#00f8f8" stroke="none"/><text x="469.2" y="297.4" font-size="7.9" text-anchor="start" >1050.0</text><rect x="449.8" y="300.5" width="14.2" height="5.4" fill="#00ecff" stroke="none"/><text x="469.2" y="306.1" font-size="7.9" text-anchor="start" >1200.0</text><rect x="449.8" y="309.3" width="14.2" height="5.4" fill="#1058f0" stroke="none"/><text x="469.2" y="314.9" font-size="7.9" text-anchor="start" >1350.0</text><rect x="449.8" y="318.0" width="14.2" height="5.4" fill="#0000f0" stroke="none"/><text x="469.2" y="323.6" font-size="7.9" text-anchor="start" >1500.0</text></g></svg></body></html>
